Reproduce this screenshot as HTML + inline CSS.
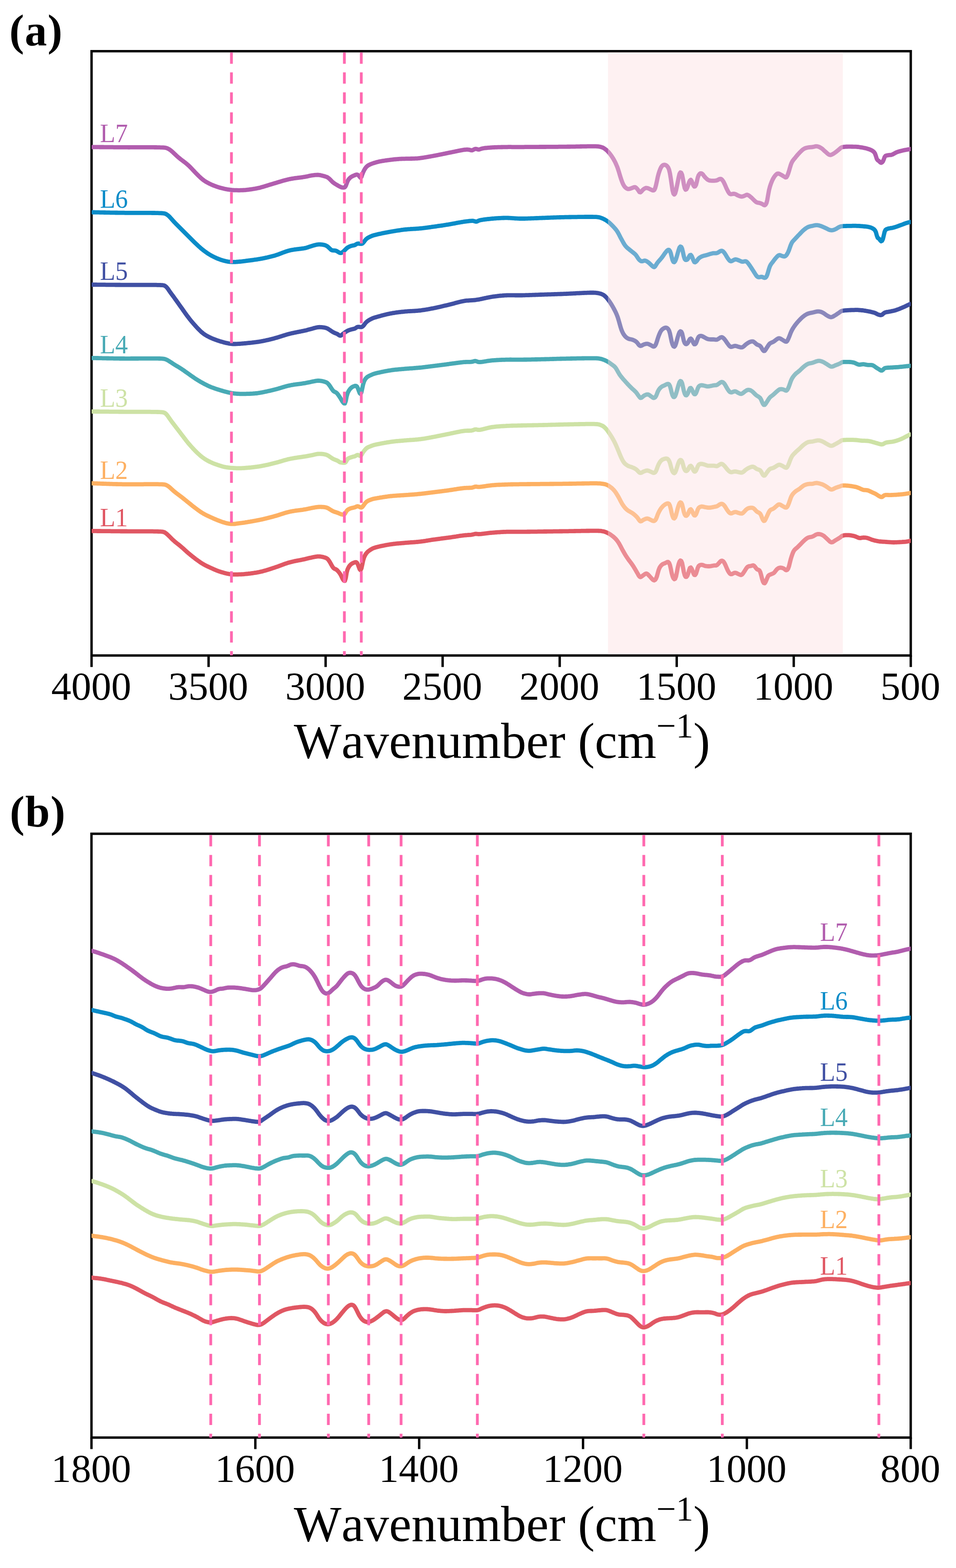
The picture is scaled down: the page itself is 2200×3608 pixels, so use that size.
<!DOCTYPE html>
<html lang="en"><head><meta charset="utf-8"><title>FTIR spectra</title>
<style>html,body{margin:0;padding:0;background:#fff}body{width:2200px;height:3608px;overflow:hidden}svg{display:block}text{font-family:"Liberation Serif",serif}</style></head><body>
<svg width="2200" height="3608" viewBox="0 0 2200 3608">
<rect width="2200" height="3608" fill="#fff"/>
<defs><clipPath id="ca"><rect x="210.7" y="117.8" width="1885.2" height="1390.5"/></clipPath>
<clipPath id="cb"><rect x="210.5" y="1918.5" width="1885.3" height="1389.4"/></clipPath></defs>
<rect x="210.7" y="117.8" width="1885.2" height="1390.5" fill="none" stroke="#000" stroke-width="5.5"/>
<g stroke="#000" stroke-width="5.5">
<line x1="210.7" y1="1508.3" x2="210.7" y2="1534.8"/>
<line x1="480.0" y1="1508.3" x2="480.0" y2="1534.8"/>
<line x1="749.3" y1="1508.3" x2="749.3" y2="1534.8"/>
<line x1="1018.6" y1="1508.3" x2="1018.6" y2="1534.8"/>
<line x1="1288.0" y1="1508.3" x2="1288.0" y2="1534.8"/>
<line x1="1557.3" y1="1508.3" x2="1557.3" y2="1534.8"/>
<line x1="1826.6" y1="1508.3" x2="1826.6" y2="1534.8"/>
<line x1="2095.9" y1="1508.3" x2="2095.9" y2="1534.8"/>
</g>
<g clip-path="url(#ca)" fill="none" stroke-linejoin="round" stroke-linecap="butt">
<path d="M209.7,1221.9L211.7,1221.9L213.7,1221.9L215.7,1221.9L217.7,1221.9L219.7,1221.9L221.7,1221.9L223.7,1222.0L225.7,1222.0L227.7,1222.0L229.7,1222.0L231.7,1222.0L233.7,1222.1L235.7,1222.1L237.7,1222.1L239.7,1222.1L241.7,1222.1L243.7,1222.2L245.7,1222.2L247.7,1222.2L249.7,1222.2L251.7,1222.2L253.7,1222.2L255.7,1222.3L257.7,1222.3L259.7,1222.3L261.7,1222.3L263.7,1222.3L265.7,1222.4L267.7,1222.4L269.7,1222.4L271.7,1222.4L273.7,1222.4L275.7,1222.4L277.7,1222.5L279.7,1222.5L281.7,1222.5L283.7,1222.5L285.7,1222.5L287.7,1222.5L289.7,1222.5L291.7,1222.5L293.7,1222.6L295.7,1222.6L297.7,1222.6L299.7,1222.6L301.7,1222.6L303.7,1222.6L305.7,1222.6L307.7,1222.6L309.7,1222.6L311.7,1222.6L313.7,1222.6L315.7,1222.6L317.7,1222.6L319.7,1222.6L321.7,1222.6L323.7,1222.6L325.7,1222.6L327.7,1222.6L329.7,1222.6L331.7,1222.6L333.7,1222.6L335.7,1222.6L337.7,1222.6L339.7,1222.6L341.7,1222.7L343.7,1222.7L345.7,1222.7L347.7,1222.7L349.7,1222.7L351.7,1222.7L353.7,1222.8L355.7,1222.8L357.7,1222.8L359.7,1222.9L361.7,1222.9L363.7,1223.0L365.7,1223.1L367.7,1223.1L369.7,1223.2L371.7,1223.3L373.7,1223.5L375.7,1223.9L377.7,1224.5L379.7,1225.5L381.7,1226.9L383.7,1228.5L385.7,1230.3L387.7,1232.2L389.7,1234.1L391.7,1236.1L393.7,1238.2L395.7,1240.2L397.7,1242.1L399.7,1243.9L401.7,1245.7L403.7,1247.4L405.7,1249.0L407.7,1250.6L409.7,1252.1L411.7,1253.7L413.7,1255.3L415.7,1257.0L417.7,1258.7L419.7,1260.4L421.7,1262.2L423.7,1264.0L425.7,1265.9L427.7,1267.7L429.7,1269.5L431.7,1271.2L433.7,1273.0L435.7,1274.6L437.7,1276.3L439.7,1277.9L441.7,1279.5L443.7,1281.1L445.7,1282.7L447.7,1284.2L449.7,1285.8L451.7,1287.3L453.7,1288.7L455.7,1290.2L457.7,1291.6L459.7,1293.0L461.7,1294.4L463.7,1295.7L465.7,1296.9L467.7,1298.1L469.7,1299.2L471.7,1300.3L473.7,1301.3L475.7,1302.3L477.7,1303.3L479.7,1304.2L481.7,1305.1L483.7,1306.1L485.7,1307.0L487.7,1307.9L489.7,1308.8L491.7,1309.7L493.7,1310.6L495.7,1311.4L497.7,1312.3L499.7,1313.0L501.7,1313.8L503.7,1314.5L505.7,1315.2L507.7,1315.8L509.7,1316.5L511.7,1317.1L513.7,1317.6L515.7,1318.2L517.7,1318.7L519.7,1319.2L521.7,1319.7L523.7,1320.1L525.7,1320.5L527.7,1320.9L529.7,1321.2L531.7,1321.5L533.7,1321.7L535.7,1321.8L537.7,1321.9L539.7,1321.9L541.7,1321.9L543.7,1321.9L545.7,1321.8L547.7,1321.8L549.7,1321.7L551.7,1321.7L553.7,1321.6L555.7,1321.5L557.7,1321.4L559.7,1321.3L561.7,1321.1L563.7,1320.9L565.7,1320.7L567.7,1320.5L569.7,1320.3L571.7,1320.0L573.7,1319.8L575.7,1319.6L577.7,1319.3L579.7,1319.0L581.7,1318.8L583.7,1318.5L585.7,1318.2L587.7,1317.9L589.7,1317.6L591.7,1317.2L593.7,1316.8L595.7,1316.5L597.7,1316.0L599.7,1315.6L601.7,1315.1L603.7,1314.7L605.7,1314.1L607.7,1313.6L609.7,1313.0L611.7,1312.5L613.7,1311.9L615.7,1311.2L617.7,1310.6L619.7,1310.0L621.7,1309.3L623.7,1308.7L625.7,1308.0L627.7,1307.4L629.7,1306.7L631.7,1306.1L633.7,1305.4L635.7,1304.7L637.7,1304.0L639.7,1303.3L641.7,1302.6L643.7,1301.8L645.7,1301.1L647.7,1300.3L649.7,1299.6L651.7,1298.9L653.7,1298.1L655.7,1297.4L657.7,1296.7L659.7,1296.1L661.7,1295.4L663.7,1294.8L665.7,1294.2L667.7,1293.7L669.7,1293.2L671.7,1292.7L673.7,1292.2L675.7,1291.8L677.7,1291.3L679.7,1290.9L681.7,1290.5L683.7,1290.1L685.7,1289.7L687.7,1289.3L689.7,1289.0L691.7,1288.6L693.7,1288.2L695.7,1287.8L697.7,1287.4L699.7,1287.0L701.7,1286.6L703.7,1286.1L705.7,1285.6L707.7,1285.1L709.7,1284.6L711.7,1284.1L713.7,1283.6L715.7,1283.2L717.7,1282.7L719.7,1282.3L721.7,1281.9L723.7,1281.5L725.7,1281.1L727.7,1280.8L729.7,1280.5L731.7,1280.4L733.7,1280.4L735.7,1280.5L737.7,1280.7L739.7,1281.0L741.7,1281.4L743.7,1281.8L745.7,1282.4L747.7,1282.9L749.7,1283.7L751.7,1284.7L753.7,1286.1L755.7,1288.3L757.7,1291.1L759.7,1294.4L761.7,1298.0L763.7,1301.7L765.7,1304.9L767.7,1307.3L769.7,1308.7L771.7,1309.5L773.7,1310.5L775.7,1312.0L777.7,1314.1L779.7,1316.4L781.7,1319.1L783.7,1322.2L785.7,1326.1L787.7,1330.5L789.7,1334.1L791.7,1336.4L793.7,1336.5L795.7,1330.3L797.7,1318.0L799.7,1310.5L801.7,1306.2L803.7,1302.9L805.7,1300.4L807.7,1298.4L809.7,1297.0L811.7,1295.9L813.7,1295.0L815.7,1294.2L817.7,1293.6L819.7,1293.7L821.7,1295.2L823.7,1299.1L825.7,1304.7L827.7,1309.9L829.7,1312.0L831.7,1308.1L833.7,1299.1L835.7,1289.7L837.7,1283.0L839.7,1278.5L841.7,1275.0L843.7,1272.3L845.7,1270.2L847.7,1268.4L849.7,1266.9L851.7,1265.5L853.7,1264.3L855.7,1263.1L857.7,1262.0L859.7,1261.1L861.7,1260.5L863.7,1259.8L865.7,1259.2L867.7,1258.7L869.7,1258.2L871.7,1257.7L873.7,1257.3L875.7,1256.8L877.7,1256.4L879.7,1256.0L881.7,1255.6L883.7,1255.2L885.7,1254.8L887.7,1254.4L889.7,1254.0L891.7,1253.7L893.7,1253.3L895.7,1253.0L897.7,1252.7L899.7,1252.4L901.7,1252.1L903.7,1251.8L905.7,1251.5L907.7,1251.3L909.7,1251.1L911.7,1250.9L913.7,1250.7L915.7,1250.5L917.7,1250.3L919.7,1250.1L921.7,1250.0L923.7,1249.8L925.7,1249.6L927.7,1249.5L929.7,1249.3L931.7,1249.1L933.7,1248.9L935.7,1248.8L937.7,1248.6L939.7,1248.5L941.7,1248.3L943.7,1248.2L945.7,1248.0L947.7,1247.9L949.7,1247.8L951.7,1247.6L953.7,1247.5L955.7,1247.3L957.7,1247.2L959.7,1247.0L961.7,1246.8L963.7,1246.6L965.7,1246.4L967.7,1246.2L969.7,1245.9L971.7,1245.6L973.7,1245.4L975.7,1245.1L977.7,1244.8L979.7,1244.5L981.7,1244.1L983.7,1243.8L985.7,1243.5L987.7,1243.2L989.7,1242.9L991.7,1242.5L993.7,1242.2L995.7,1241.9L997.7,1241.6L999.7,1241.3L1001.7,1241.1L1003.7,1240.8L1005.7,1240.5L1007.7,1240.3L1009.7,1240.0L1011.7,1239.8L1013.7,1239.5L1015.7,1239.2L1017.7,1239.0L1019.7,1238.7L1021.7,1238.5L1023.7,1238.2L1025.7,1238.0L1027.7,1237.7L1029.7,1237.4L1031.7,1237.2L1033.7,1236.9L1035.7,1236.6L1037.7,1236.3L1039.7,1236.0L1041.7,1235.7L1043.7,1235.4L1045.7,1235.1L1047.7,1234.8L1049.7,1234.5L1051.7,1234.1L1053.7,1233.8L1055.7,1233.5L1057.7,1233.2L1059.7,1232.9L1061.7,1232.6L1063.7,1232.4L1065.7,1232.1L1067.7,1231.9L1069.7,1231.7L1071.7,1231.5L1073.7,1231.3L1075.7,1231.2L1077.7,1231.0L1079.7,1230.9L1081.7,1230.8L1083.7,1230.6L1085.7,1230.3L1087.7,1229.9L1089.7,1229.4L1091.7,1228.9L1093.7,1228.5L1095.7,1228.4L1097.7,1228.6L1099.7,1228.9L1101.7,1229.0L1103.7,1228.9L1105.7,1228.8L1107.7,1228.6L1109.7,1228.3L1111.7,1228.1L1113.7,1227.9L1115.7,1227.6L1117.7,1227.4L1119.7,1227.1L1121.7,1226.9L1123.7,1226.6L1125.7,1226.4L1127.7,1226.2L1129.7,1226.0L1131.7,1225.8L1133.7,1225.6L1135.7,1225.5L1137.7,1225.3L1139.7,1225.1L1141.7,1225.0L1143.7,1224.9L1145.7,1224.7L1147.7,1224.6L1149.7,1224.5L1151.7,1224.3L1153.7,1224.2L1155.7,1224.1L1157.7,1224.0L1159.7,1223.9L1161.7,1223.9L1163.7,1223.8L1165.7,1223.7L1167.7,1223.7L1169.7,1223.6L1171.7,1223.6L1173.7,1223.6L1175.7,1223.6L1177.7,1223.6L1179.7,1223.7L1181.7,1223.7L1183.7,1223.7L1185.7,1223.7L1187.7,1223.7L1189.7,1223.7L1191.7,1223.7L1193.7,1223.7L1195.7,1223.7L1197.7,1223.7L1199.7,1223.7L1201.7,1223.7L1203.7,1223.7L1205.7,1223.6L1207.7,1223.6L1209.7,1223.6L1211.7,1223.6L1213.7,1223.5L1215.7,1223.5L1217.7,1223.5L1219.7,1223.5L1221.7,1223.4L1223.7,1223.4L1225.7,1223.4L1227.7,1223.4L1229.7,1223.3L1231.7,1223.3L1233.7,1223.3L1235.7,1223.3L1237.7,1223.2L1239.7,1223.2L1241.7,1223.2L1243.7,1223.2L1245.7,1223.1L1247.7,1223.1L1249.7,1223.1L1251.7,1223.0L1253.7,1223.0L1255.7,1223.0L1257.7,1223.0L1259.7,1222.9L1261.7,1222.9L1263.7,1222.9L1265.7,1222.9L1267.7,1222.8L1269.7,1222.8L1271.7,1222.8L1273.7,1222.7L1275.7,1222.7L1277.7,1222.7L1279.7,1222.7L1281.7,1222.6L1283.7,1222.6L1285.7,1222.6L1287.7,1222.5L1289.7,1222.5L1291.7,1222.5L1293.7,1222.5L1295.7,1222.4L1297.7,1222.4L1299.7,1222.4L1301.7,1222.3L1303.7,1222.3L1305.7,1222.3L1307.7,1222.3L1309.7,1222.2L1311.7,1222.2L1313.7,1222.2L1315.7,1222.1L1317.7,1222.1L1319.7,1222.1L1321.7,1222.0L1323.7,1222.0L1325.7,1221.9L1327.7,1221.9L1329.7,1221.9L1331.7,1221.8L1333.7,1221.8L1335.7,1221.8L1337.7,1221.7L1339.7,1221.7L1341.7,1221.7L1343.7,1221.6L1345.7,1221.6L1347.7,1221.6L1349.7,1221.5L1351.7,1221.5L1353.7,1221.5L1355.7,1221.5L1357.7,1221.4L1359.7,1221.4L1361.7,1221.4L1363.7,1221.4L1365.7,1221.4L1367.7,1221.4L1369.7,1221.4L1371.7,1221.4L1373.7,1221.4L1375.7,1221.4L1377.7,1221.5L1379.7,1221.6L1381.7,1221.7L1383.7,1221.9L1385.7,1222.3L1387.7,1222.6L1389.7,1223.1L1391.7,1223.6L1393.7,1224.3L1395.7,1225.1L1397.7,1226.0L1399.7,1227.0L1401.7,1228.1L1403.7,1229.3L1405.7,1230.6L1407.7,1232.1L1409.7,1233.6L1411.7,1235.2L1413.7,1237.0L1415.7,1238.9L1417.7,1241.0L1419.7,1243.4L1421.7,1246.1L1423.7,1249.1L1425.7,1252.5L1427.7,1256.2L1429.7,1260.1L1431.7,1263.9L1433.7,1267.5L1435.7,1271.0L1437.7,1274.4L1439.7,1277.8L1441.7,1280.9L1443.7,1283.9L1445.7,1286.8L1447.7,1289.5L1449.7,1292.2L1451.7,1294.8L1453.7,1297.5L1455.7,1300.4L1457.7,1303.4L1459.7,1306.7L1461.7,1310.1L1463.7,1313.5L1465.7,1316.9L1467.7,1320.4L1469.7,1324.1L1471.7,1326.8L1473.7,1327.8L1475.7,1327.2L1477.7,1325.7L1479.7,1324.1L1481.7,1322.7L1483.7,1321.3L1485.7,1320.1L1487.7,1319.7L1489.7,1320.6L1491.7,1322.4L1493.7,1324.6L1495.7,1326.8L1497.7,1329.0L1499.7,1331.3L1501.7,1333.3L1503.7,1334.9L1505.7,1335.5L1507.7,1334.2L1509.7,1331.2L1511.7,1326.1L1513.7,1318.7L1515.7,1311.5L1517.7,1306.6L1519.7,1303.3L1521.7,1300.9L1523.7,1299.0L1525.7,1297.8L1527.7,1296.9L1529.7,1296.2L1531.7,1295.3L1533.7,1294.2L1535.7,1293.2L1537.7,1293.1L1539.7,1295.1L1541.7,1300.0L1543.7,1308.6L1545.7,1318.6L1547.7,1325.8L1549.7,1330.5L1551.7,1332.7L1553.7,1331.6L1555.7,1326.5L1557.7,1316.6L1559.7,1305.9L1561.7,1297.9L1563.7,1292.3L1565.7,1289.8L1567.7,1290.7L1569.7,1295.4L1571.7,1305.5L1573.7,1316.5L1575.7,1323.6L1577.7,1327.3L1579.7,1327.4L1581.7,1324.9L1583.7,1319.8L1585.7,1312.2L1587.7,1306.8L1589.7,1305.8L1591.7,1308.6L1593.7,1313.6L1595.7,1319.1L1597.7,1322.9L1599.7,1323.1L1601.7,1320.1L1603.7,1313.8L1605.7,1306.7L1607.7,1302.6L1609.7,1300.9L1611.7,1300.1L1613.7,1299.7L1615.7,1299.8L1617.7,1300.3L1619.7,1301.2L1621.7,1301.9L1623.7,1302.4L1625.7,1302.7L1627.7,1302.9L1629.7,1303.0L1631.7,1303.0L1633.7,1302.8L1635.7,1302.6L1637.7,1302.2L1639.7,1301.8L1641.7,1301.5L1643.7,1301.2L1645.7,1301.2L1647.7,1301.1L1649.7,1300.3L1651.7,1298.7L1653.7,1296.5L1655.7,1294.1L1657.7,1292.0L1659.7,1290.5L1661.7,1290.2L1663.7,1291.1L1665.7,1293.3L1667.7,1296.6L1669.7,1300.9L1671.7,1305.6L1673.7,1310.2L1675.7,1314.2L1677.7,1317.5L1679.7,1320.0L1681.7,1321.1L1683.7,1321.0L1685.7,1320.3L1687.7,1319.2L1689.7,1318.4L1691.7,1318.0L1693.7,1318.3L1695.7,1319.1L1697.7,1320.2L1699.7,1321.1L1701.7,1322.0L1703.7,1322.8L1705.7,1323.0L1707.7,1321.9L1709.7,1319.7L1711.7,1316.8L1713.7,1313.8L1715.7,1310.5L1717.7,1307.3L1719.7,1304.9L1721.7,1303.6L1723.7,1302.9L1725.7,1302.6L1727.7,1302.3L1729.7,1301.8L1731.7,1301.1L1733.7,1301.0L1735.7,1302.1L1737.7,1304.4L1739.7,1307.3L1741.7,1309.5L1743.7,1310.7L1745.7,1311.4L1747.7,1312.7L1749.7,1316.6L1751.7,1323.7L1753.7,1331.8L1755.7,1338.0L1757.7,1341.6L1759.7,1342.1L1761.7,1339.2L1763.7,1334.8L1765.7,1329.8L1767.7,1325.5L1769.7,1323.4L1771.7,1322.4L1773.7,1321.7L1775.7,1320.8L1777.7,1320.0L1779.7,1319.1L1781.7,1317.6L1783.7,1315.2L1785.7,1312.5L1787.7,1310.1L1789.7,1308.4L1791.7,1307.2L1793.7,1306.5L1795.7,1306.2L1797.7,1306.4L1799.7,1306.8L1801.7,1307.4L1803.7,1308.3L1805.7,1309.7L1807.7,1311.3L1809.7,1312.0L1811.7,1311.2L1813.7,1308.4L1815.7,1302.8L1817.7,1294.7L1819.7,1286.7L1821.7,1280.1L1823.7,1274.3L1825.7,1269.5L1827.7,1266.2L1829.7,1263.9L1831.7,1262.2L1833.7,1260.6L1835.7,1258.7L1837.7,1256.7L1839.7,1254.7L1841.7,1252.7L1843.7,1250.7L1845.7,1248.6L1847.7,1246.5L1849.7,1244.6L1851.7,1242.7L1853.7,1241.0L1855.7,1239.5L1857.7,1238.1L1859.7,1237.1L1861.7,1236.4L1863.7,1235.9L1865.7,1235.6L1867.7,1235.2L1869.7,1234.6L1871.7,1233.7L1873.7,1232.6L1875.7,1231.4L1877.7,1230.3L1879.7,1229.5L1881.7,1229.0L1883.7,1228.9L1885.7,1229.0L1887.7,1229.4L1889.7,1230.0L1891.7,1230.8L1893.7,1231.8L1895.7,1233.1L1897.7,1234.8L1899.7,1236.6L1901.7,1238.5L1903.7,1240.3L1905.7,1242.3L1907.7,1244.3L1909.7,1246.2L1911.7,1247.4L1913.7,1247.9L1915.7,1247.5L1917.7,1246.5L1919.7,1245.2L1921.7,1243.8L1923.7,1242.6L1925.7,1241.4L1927.7,1240.2L1929.7,1239.0L1931.7,1237.8L1933.7,1236.4L1935.7,1234.7L1937.7,1233.2L1939.7,1232.4L1941.7,1231.9L1943.7,1231.6L1945.7,1231.4L1947.7,1231.3L1949.7,1231.3L1951.7,1231.3L1953.7,1231.4L1955.7,1231.6L1957.7,1231.8L1959.7,1232.2L1961.7,1232.6L1963.7,1233.0L1965.7,1233.5L1967.7,1234.1L1969.7,1234.9L1971.7,1235.7L1973.7,1236.6L1975.7,1237.4L1977.7,1237.9L1979.7,1238.0L1981.7,1237.8L1983.7,1237.3L1985.7,1237.1L1987.7,1237.0L1989.7,1237.1L1991.7,1237.2L1993.7,1237.5L1995.7,1237.9L1997.7,1238.5L1999.7,1239.2L2001.7,1240.0L2003.7,1240.8L2005.7,1241.6L2007.7,1242.3L2009.7,1242.8L2011.7,1243.4L2013.7,1243.9L2015.7,1244.3L2017.7,1244.7L2019.7,1245.1L2021.7,1245.5L2023.7,1245.8L2025.7,1246.0L2027.7,1246.2L2029.7,1246.4L2031.7,1246.5L2033.7,1246.6L2035.7,1246.7L2037.7,1246.9L2039.7,1247.0L2041.7,1247.1L2043.7,1247.3L2045.7,1247.4L2047.7,1247.6L2049.7,1247.7L2051.7,1247.8L2053.7,1247.9L2055.7,1248.0L2057.7,1248.0L2059.7,1247.9L2061.7,1247.9L2063.7,1247.8L2065.7,1247.7L2067.7,1247.6L2069.7,1247.5L2071.7,1247.4L2073.7,1247.3L2075.7,1247.2L2077.7,1247.0L2079.7,1246.9L2081.7,1246.8L2083.7,1246.6L2085.7,1246.4L2087.7,1246.0L2089.7,1245.7L2091.7,1245.2L2093.7,1244.8L2095.7,1244.3L2096.7,1244.1" stroke="#E05763" stroke-width="9.8"/>
<path d="M209.7,1112.0L211.7,1112.1L213.7,1112.1L215.7,1112.2L217.7,1112.3L219.7,1112.3L221.7,1112.4L223.7,1112.5L225.7,1112.6L227.7,1112.7L229.7,1112.7L231.7,1112.8L233.7,1112.9L235.7,1113.0L237.7,1113.0L239.7,1113.1L241.7,1113.2L243.7,1113.2L245.7,1113.3L247.7,1113.4L249.7,1113.4L251.7,1113.5L253.7,1113.6L255.7,1113.6L257.7,1113.7L259.7,1113.8L261.7,1113.8L263.7,1113.9L265.7,1113.9L267.7,1114.0L269.7,1114.0L271.7,1114.1L273.7,1114.1L275.7,1114.2L277.7,1114.2L279.7,1114.2L281.7,1114.3L283.7,1114.3L285.7,1114.3L287.7,1114.4L289.7,1114.4L291.7,1114.4L293.7,1114.4L295.7,1114.4L297.7,1114.4L299.7,1114.4L301.7,1114.4L303.7,1114.4L305.7,1114.4L307.7,1114.4L309.7,1114.4L311.7,1114.4L313.7,1114.4L315.7,1114.3L317.7,1114.3L319.7,1114.3L321.7,1114.3L323.7,1114.3L325.7,1114.3L327.7,1114.3L329.7,1114.3L331.7,1114.2L333.7,1114.2L335.7,1114.2L337.7,1114.2L339.7,1114.2L341.7,1114.2L343.7,1114.2L345.7,1114.2L347.7,1114.1L349.7,1114.1L351.7,1114.1L353.7,1114.1L355.7,1114.1L357.7,1114.2L359.7,1114.2L361.7,1114.2L363.7,1114.2L365.7,1114.3L367.7,1114.3L369.7,1114.4L371.7,1114.4L373.7,1114.5L375.7,1114.6L377.7,1114.9L379.7,1115.2L381.7,1115.8L383.7,1116.7L385.7,1117.8L387.7,1119.2L389.7,1120.7L391.7,1122.4L393.7,1124.3L395.7,1126.1L397.7,1128.0L399.7,1129.7L401.7,1131.4L403.7,1133.0L405.7,1134.6L407.7,1136.1L409.7,1137.6L411.7,1139.1L413.7,1140.6L415.7,1142.1L417.7,1143.7L419.7,1145.2L421.7,1146.8L423.7,1148.4L425.7,1150.0L427.7,1151.6L429.7,1153.3L431.7,1154.9L433.7,1156.5L435.7,1158.1L437.7,1159.7L439.7,1161.3L441.7,1163.0L443.7,1164.6L445.7,1166.1L447.7,1167.7L449.7,1169.2L451.7,1170.7L453.7,1172.2L455.7,1173.7L457.7,1175.1L459.7,1176.5L461.7,1177.9L463.7,1179.2L465.7,1180.4L467.7,1181.6L469.7,1182.7L471.7,1183.8L473.7,1184.8L475.7,1185.8L477.7,1186.8L479.7,1187.7L481.7,1188.6L483.7,1189.6L485.7,1190.5L487.7,1191.4L489.7,1192.3L491.7,1193.2L493.7,1194.1L495.7,1194.9L497.7,1195.7L499.7,1196.6L501.7,1197.4L503.7,1198.1L505.7,1198.9L507.7,1199.7L509.7,1200.4L511.7,1201.1L513.7,1201.7L515.7,1202.3L517.7,1202.9L519.7,1203.4L521.7,1203.9L523.7,1204.4L525.7,1204.8L527.7,1205.2L529.7,1205.4L531.7,1205.6L533.7,1205.7L535.7,1205.7L537.7,1205.6L539.7,1205.5L541.7,1205.3L543.7,1205.0L545.7,1204.7L547.7,1204.5L549.7,1204.2L551.7,1203.9L553.7,1203.7L555.7,1203.4L557.7,1203.2L559.7,1202.9L561.7,1202.6L563.7,1202.3L565.7,1201.9L567.7,1201.6L569.7,1201.3L571.7,1200.9L573.7,1200.6L575.7,1200.3L577.7,1199.9L579.7,1199.6L581.7,1199.2L583.7,1198.9L585.7,1198.5L587.7,1198.2L589.7,1197.8L591.7,1197.4L593.7,1197.0L595.7,1196.6L597.7,1196.2L599.7,1195.8L601.7,1195.4L603.7,1194.9L605.7,1194.5L607.7,1194.0L609.7,1193.5L611.7,1193.0L613.7,1192.6L615.7,1192.1L617.7,1191.5L619.7,1191.0L621.7,1190.5L623.7,1190.0L625.7,1189.5L627.7,1188.9L629.7,1188.4L631.7,1187.8L633.7,1187.3L635.7,1186.7L637.7,1186.1L639.7,1185.5L641.7,1184.8L643.7,1184.2L645.7,1183.5L647.7,1182.9L649.7,1182.3L651.7,1181.6L653.7,1181.0L655.7,1180.4L657.7,1179.8L659.7,1179.2L661.7,1178.7L663.7,1178.2L665.7,1177.7L667.7,1177.3L669.7,1176.9L671.7,1176.5L673.7,1176.1L675.7,1175.8L677.7,1175.5L679.7,1175.2L681.7,1174.9L683.7,1174.6L685.7,1174.4L687.7,1174.1L689.7,1173.9L691.7,1173.6L693.7,1173.3L695.7,1173.1L697.7,1172.8L699.7,1172.4L701.7,1172.1L703.7,1171.8L705.7,1171.4L707.7,1171.0L709.7,1170.5L711.7,1170.1L713.7,1169.7L715.7,1169.3L717.7,1168.9L719.7,1168.5L721.7,1168.1L723.7,1167.8L725.7,1167.4L727.7,1167.1L729.7,1166.8L731.7,1166.6L733.7,1166.5L735.7,1166.4L737.7,1166.4L739.7,1166.5L741.7,1166.6L743.7,1166.7L745.7,1166.9L747.7,1167.2L749.7,1167.5L751.7,1168.1L753.7,1168.9L755.7,1169.9L757.7,1171.1L759.7,1172.4L761.7,1173.6L763.7,1174.9L765.7,1176.0L767.7,1176.9L769.7,1177.6L771.7,1178.3L773.7,1178.8L775.7,1179.5L777.7,1180.2L779.7,1181.1L781.7,1182.0L783.7,1182.8L785.7,1183.5L787.7,1183.9L789.7,1184.1L791.7,1183.8L793.7,1182.3L795.7,1179.0L797.7,1175.6L799.7,1173.5L801.7,1172.1L803.7,1171.0L805.7,1170.1L807.7,1169.4L809.7,1168.9L811.7,1168.5L813.7,1168.1L815.7,1167.6L817.7,1166.9L819.7,1165.9L821.7,1165.1L823.7,1165.0L825.7,1165.7L827.7,1166.7L829.7,1167.7L831.7,1167.9L833.7,1166.6L835.7,1164.1L837.7,1161.5L839.7,1158.7L841.7,1156.3L843.7,1154.4L845.7,1153.1L847.7,1152.0L849.7,1151.1L851.7,1150.3L853.7,1149.6L855.7,1148.9L857.7,1148.3L859.7,1147.8L861.7,1147.4L863.7,1147.0L865.7,1146.6L867.7,1146.3L869.7,1145.9L871.7,1145.6L873.7,1145.2L875.7,1144.9L877.7,1144.6L879.7,1144.3L881.7,1143.9L883.7,1143.6L885.7,1143.3L887.7,1143.0L889.7,1142.8L891.7,1142.5L893.7,1142.2L895.7,1142.0L897.7,1141.7L899.7,1141.5L901.7,1141.3L903.7,1141.1L905.7,1140.9L907.7,1140.8L909.7,1140.6L911.7,1140.5L913.7,1140.3L915.7,1140.2L917.7,1140.1L919.7,1140.0L921.7,1139.9L923.7,1139.7L925.7,1139.6L927.7,1139.5L929.7,1139.4L931.7,1139.2L933.7,1139.1L935.7,1138.9L937.7,1138.8L939.7,1138.7L941.7,1138.5L943.7,1138.4L945.7,1138.2L947.7,1138.1L949.7,1137.9L951.7,1137.8L953.7,1137.6L955.7,1137.4L957.7,1137.3L959.7,1137.1L961.7,1136.9L963.7,1136.7L965.7,1136.5L967.7,1136.3L969.7,1136.1L971.7,1135.9L973.7,1135.7L975.7,1135.5L977.7,1135.2L979.7,1135.0L981.7,1134.7L983.7,1134.5L985.7,1134.2L987.7,1134.0L989.7,1133.7L991.7,1133.5L993.7,1133.2L995.7,1133.0L997.7,1132.7L999.7,1132.5L1001.7,1132.2L1003.7,1132.0L1005.7,1131.7L1007.7,1131.5L1009.7,1131.2L1011.7,1131.0L1013.7,1130.7L1015.7,1130.5L1017.7,1130.2L1019.7,1129.9L1021.7,1129.7L1023.7,1129.4L1025.7,1129.1L1027.7,1128.9L1029.7,1128.6L1031.7,1128.3L1033.7,1128.0L1035.7,1127.7L1037.7,1127.5L1039.7,1127.1L1041.7,1126.8L1043.7,1126.5L1045.7,1126.2L1047.7,1125.9L1049.7,1125.6L1051.7,1125.2L1053.7,1124.9L1055.7,1124.6L1057.7,1124.3L1059.7,1124.0L1061.7,1123.8L1063.7,1123.5L1065.7,1123.3L1067.7,1123.0L1069.7,1122.9L1071.7,1122.8L1073.7,1122.7L1075.7,1122.6L1077.7,1122.6L1079.7,1122.5L1081.7,1122.4L1083.7,1122.3L1085.7,1122.1L1087.7,1121.7L1089.7,1121.0L1091.7,1120.3L1093.7,1119.8L1095.7,1119.7L1097.7,1120.0L1099.7,1120.3L1101.7,1120.4L1103.7,1120.3L1105.7,1120.2L1107.7,1119.9L1109.7,1119.7L1111.7,1119.4L1113.7,1119.1L1115.7,1118.8L1117.7,1118.5L1119.7,1118.2L1121.7,1117.9L1123.7,1117.6L1125.7,1117.3L1127.7,1117.1L1129.7,1116.8L1131.7,1116.6L1133.7,1116.4L1135.7,1116.3L1137.7,1116.1L1139.7,1116.0L1141.7,1115.9L1143.7,1115.7L1145.7,1115.6L1147.7,1115.5L1149.7,1115.5L1151.7,1115.4L1153.7,1115.3L1155.7,1115.2L1157.7,1115.1L1159.7,1115.1L1161.7,1115.0L1163.7,1114.9L1165.7,1114.9L1167.7,1114.8L1169.7,1114.7L1171.7,1114.7L1173.7,1114.6L1175.7,1114.5L1177.7,1114.5L1179.7,1114.5L1181.7,1114.4L1183.7,1114.4L1185.7,1114.4L1187.7,1114.3L1189.7,1114.3L1191.7,1114.3L1193.7,1114.3L1195.7,1114.2L1197.7,1114.2L1199.7,1114.2L1201.7,1114.2L1203.7,1114.1L1205.7,1114.1L1207.7,1114.1L1209.7,1114.1L1211.7,1114.1L1213.7,1114.0L1215.7,1114.0L1217.7,1114.0L1219.7,1114.0L1221.7,1113.9L1223.7,1113.9L1225.7,1113.9L1227.7,1113.9L1229.7,1113.9L1231.7,1113.9L1233.7,1113.8L1235.7,1113.8L1237.7,1113.8L1239.7,1113.8L1241.7,1113.8L1243.7,1113.7L1245.7,1113.7L1247.7,1113.7L1249.7,1113.7L1251.7,1113.7L1253.7,1113.6L1255.7,1113.6L1257.7,1113.6L1259.7,1113.6L1261.7,1113.6L1263.7,1113.6L1265.7,1113.5L1267.7,1113.5L1269.7,1113.5L1271.7,1113.5L1273.7,1113.5L1275.7,1113.4L1277.7,1113.4L1279.7,1113.4L1281.7,1113.4L1283.7,1113.4L1285.7,1113.3L1287.7,1113.3L1289.7,1113.3L1291.7,1113.3L1293.7,1113.3L1295.7,1113.2L1297.7,1113.2L1299.7,1113.2L1301.7,1113.2L1303.7,1113.1L1305.7,1113.1L1307.7,1113.1L1309.7,1113.0L1311.7,1113.0L1313.7,1113.0L1315.7,1113.0L1317.7,1112.9L1319.7,1112.9L1321.7,1112.9L1323.7,1112.8L1325.7,1112.8L1327.7,1112.7L1329.7,1112.7L1331.7,1112.7L1333.7,1112.6L1335.7,1112.6L1337.7,1112.6L1339.7,1112.5L1341.7,1112.5L1343.7,1112.5L1345.7,1112.4L1347.7,1112.4L1349.7,1112.4L1351.7,1112.3L1353.7,1112.3L1355.7,1112.3L1357.7,1112.2L1359.7,1112.2L1361.7,1112.2L1363.7,1112.2L1365.7,1112.2L1367.7,1112.2L1369.7,1112.2L1371.7,1112.2L1373.7,1112.2L1375.7,1112.3L1377.7,1112.3L1379.7,1112.4L1381.7,1112.5L1383.7,1112.8L1385.7,1113.1L1387.7,1113.4L1389.7,1113.7L1391.7,1114.1L1393.7,1114.6L1395.7,1115.3L1397.7,1116.2L1399.7,1117.2L1401.7,1118.4L1403.7,1119.8L1405.7,1121.3L1407.7,1122.9L1409.7,1124.8L1411.7,1126.7L1413.7,1129.0L1415.7,1131.5L1417.7,1134.4L1419.7,1137.6L1421.7,1140.9L1423.7,1144.3L1425.7,1148.0L1427.7,1151.9L1429.7,1155.7L1431.7,1159.3L1433.7,1162.4L1435.7,1165.2L1437.7,1167.7L1439.7,1170.0L1441.7,1171.9L1443.7,1173.6L1445.7,1175.1L1447.7,1176.3L1449.7,1177.4L1451.7,1178.6L1453.7,1179.7L1455.7,1181.0L1457.7,1182.5L1459.7,1184.1L1461.7,1185.9L1463.7,1187.8L1465.7,1189.8L1467.7,1192.2L1469.7,1195.2L1471.7,1198.0L1473.7,1199.5L1475.7,1199.4L1477.7,1198.2L1479.7,1196.7L1481.7,1195.6L1483.7,1194.7L1485.7,1193.9L1487.7,1193.3L1489.7,1193.2L1491.7,1193.5L1493.7,1194.3L1495.7,1195.3L1497.7,1196.3L1499.7,1197.3L1501.7,1198.3L1503.7,1198.9L1505.7,1198.7L1507.7,1197.2L1509.7,1194.2L1511.7,1189.3L1513.7,1183.7L1515.7,1179.2L1517.7,1175.4L1519.7,1172.0L1521.7,1169.2L1523.7,1166.8L1525.7,1164.7L1527.7,1162.9L1529.7,1161.4L1531.7,1160.1L1533.7,1159.0L1535.7,1158.3L1537.7,1158.3L1539.7,1159.6L1541.7,1163.7L1543.7,1171.3L1545.7,1180.6L1547.7,1187.8L1549.7,1192.1L1551.7,1192.9L1553.7,1190.5L1555.7,1185.0L1557.7,1177.1L1559.7,1169.3L1561.7,1162.9L1563.7,1158.1L1565.7,1156.0L1567.7,1156.8L1569.7,1160.7L1571.7,1169.2L1573.7,1178.2L1575.7,1183.8L1577.7,1186.6L1579.7,1186.8L1581.7,1185.1L1583.7,1181.7L1585.7,1176.6L1587.7,1172.8L1589.7,1171.7L1591.7,1174.2L1593.7,1178.6L1595.7,1183.0L1597.7,1185.9L1599.7,1186.0L1601.7,1183.5L1603.7,1178.4L1605.7,1172.4L1607.7,1168.9L1609.7,1167.1L1611.7,1166.2L1613.7,1165.6L1615.7,1165.5L1617.7,1165.8L1619.7,1166.3L1621.7,1166.9L1623.7,1167.2L1625.7,1167.5L1627.7,1167.8L1629.7,1168.0L1631.7,1168.1L1633.7,1168.0L1635.7,1167.8L1637.7,1167.5L1639.7,1167.1L1641.7,1166.7L1643.7,1166.3L1645.7,1165.9L1647.7,1165.5L1649.7,1164.8L1651.7,1163.8L1653.7,1162.5L1655.7,1161.1L1657.7,1160.0L1659.7,1159.3L1661.7,1159.3L1663.7,1160.3L1665.7,1162.1L1667.7,1164.5L1669.7,1167.5L1671.7,1170.8L1673.7,1173.9L1675.7,1176.6L1677.7,1179.0L1679.7,1180.6L1681.7,1181.3L1683.7,1181.1L1685.7,1180.3L1687.7,1179.4L1689.7,1178.6L1691.7,1178.2L1693.7,1178.3L1695.7,1178.9L1697.7,1179.7L1699.7,1180.3L1701.7,1180.9L1703.7,1181.4L1705.7,1181.7L1707.7,1181.5L1709.7,1180.4L1711.7,1178.4L1713.7,1176.2L1715.7,1174.0L1717.7,1172.2L1719.7,1170.7L1721.7,1169.6L1723.7,1169.0L1725.7,1168.6L1727.7,1168.4L1729.7,1168.4L1731.7,1168.7L1733.7,1169.4L1735.7,1170.9L1737.7,1173.0L1739.7,1175.2L1741.7,1177.1L1743.7,1178.4L1745.7,1179.4L1747.7,1180.5L1749.7,1182.5L1751.7,1186.3L1753.7,1191.7L1755.7,1196.1L1757.7,1198.6L1759.7,1198.2L1761.7,1194.9L1763.7,1190.5L1765.7,1186.2L1767.7,1181.7L1769.7,1177.7L1771.7,1174.7L1773.7,1173.0L1775.7,1172.1L1777.7,1171.4L1779.7,1170.4L1781.7,1168.9L1783.7,1167.2L1785.7,1165.4L1787.7,1163.7L1789.7,1162.0L1791.7,1160.9L1793.7,1160.6L1795.7,1161.3L1797.7,1162.5L1799.7,1163.7L1801.7,1164.9L1803.7,1166.0L1805.7,1167.1L1807.7,1167.9L1809.7,1167.9L1811.7,1166.1L1813.7,1162.2L1815.7,1157.2L1817.7,1151.4L1819.7,1145.6L1821.7,1141.1L1823.7,1137.9L1825.7,1135.4L1827.7,1133.4L1829.7,1131.5L1831.7,1129.9L1833.7,1128.6L1835.7,1127.4L1837.7,1126.1L1839.7,1124.8L1841.7,1123.3L1843.7,1121.6L1845.7,1120.0L1847.7,1118.5L1849.7,1117.2L1851.7,1116.2L1853.7,1115.4L1855.7,1114.8L1857.7,1114.3L1859.7,1113.8L1861.7,1113.6L1863.7,1113.4L1865.7,1113.4L1867.7,1113.3L1869.7,1113.1L1871.7,1112.8L1873.7,1112.3L1875.7,1111.8L1877.7,1111.5L1879.7,1111.5L1881.7,1111.7L1883.7,1112.1L1885.7,1112.5L1887.7,1113.1L1889.7,1113.7L1891.7,1114.3L1893.7,1115.1L1895.7,1116.1L1897.7,1117.2L1899.7,1118.4L1901.7,1119.7L1903.7,1120.9L1905.7,1122.4L1907.7,1123.8L1909.7,1125.2L1911.7,1126.1L1913.7,1126.4L1915.7,1126.0L1917.7,1125.2L1919.7,1124.1L1921.7,1123.1L1923.7,1122.2L1925.7,1121.5L1927.7,1120.8L1929.7,1120.2L1931.7,1119.5L1933.7,1118.8L1935.7,1118.0L1937.7,1117.4L1939.7,1117.2L1941.7,1117.1L1943.7,1117.2L1945.7,1117.2L1947.7,1117.3L1949.7,1117.5L1951.7,1117.7L1953.7,1117.9L1955.7,1118.1L1957.7,1118.3L1959.7,1118.6L1961.7,1119.0L1963.7,1119.3L1965.7,1119.7L1967.7,1120.1L1969.7,1120.6L1971.7,1121.1L1973.7,1121.8L1975.7,1122.5L1977.7,1123.4L1979.7,1124.3L1981.7,1125.3L1983.7,1126.2L1985.7,1126.9L1987.7,1127.4L1989.7,1127.6L1991.7,1127.7L1993.7,1127.8L1995.7,1128.1L1997.7,1128.6L1999.7,1129.4L2001.7,1130.3L2003.7,1131.2L2005.7,1132.1L2007.7,1133.1L2009.7,1134.0L2011.7,1134.9L2013.7,1135.8L2015.7,1136.9L2017.7,1138.1L2019.7,1139.5L2021.7,1140.8L2023.7,1141.9L2025.7,1142.9L2027.7,1143.6L2029.7,1143.5L2031.7,1142.3L2033.7,1140.5L2035.7,1139.4L2037.7,1138.9L2039.7,1138.8L2041.7,1138.9L2043.7,1139.0L2045.7,1139.1L2047.7,1139.1L2049.7,1139.1L2051.7,1139.0L2053.7,1138.9L2055.7,1138.8L2057.7,1138.7L2059.7,1138.6L2061.7,1138.5L2063.7,1138.3L2065.7,1138.2L2067.7,1138.0L2069.7,1137.8L2071.7,1137.6L2073.7,1137.5L2075.7,1137.3L2077.7,1137.1L2079.7,1136.8L2081.7,1136.6L2083.7,1136.3L2085.7,1136.0L2087.7,1135.7L2089.7,1135.4L2091.7,1135.0L2093.7,1134.7L2095.7,1134.3L2096.7,1134.2" stroke="#FDB062" stroke-width="9.8"/>
<path d="M209.7,946.9L211.7,946.9L213.7,946.9L215.7,946.9L217.7,946.9L219.7,947.0L221.7,947.0L223.7,947.0L225.7,947.0L227.7,947.0L229.7,947.1L231.7,947.1L233.7,947.1L235.7,947.1L237.7,947.1L239.7,947.1L241.7,947.2L243.7,947.2L245.7,947.2L247.7,947.2L249.7,947.2L251.7,947.3L253.7,947.3L255.7,947.3L257.7,947.3L259.7,947.3L261.7,947.3L263.7,947.4L265.7,947.4L267.7,947.4L269.7,947.4L271.7,947.4L273.7,947.5L275.7,947.5L277.7,947.5L279.7,947.5L281.7,947.5L283.7,947.5L285.7,947.6L287.7,947.6L289.7,947.6L291.7,947.6L293.7,947.6L295.7,947.6L297.7,947.6L299.7,947.6L301.7,947.6L303.7,947.6L305.7,947.6L307.7,947.6L309.7,947.6L311.7,947.6L313.7,947.6L315.7,947.6L317.7,947.6L319.7,947.6L321.7,947.6L323.7,947.6L325.7,947.7L327.7,947.7L329.7,947.7L331.7,947.7L333.7,947.7L335.7,947.7L337.7,947.7L339.7,947.7L341.7,947.7L343.7,947.7L345.7,947.7L347.7,947.8L349.7,947.8L351.7,947.8L353.7,947.8L355.7,947.9L357.7,947.9L359.7,947.9L361.7,948.0L363.7,948.0L365.7,948.1L367.7,948.2L369.7,948.3L371.7,948.4L373.7,948.6L375.7,948.9L377.7,949.5L379.7,950.5L381.7,952.0L383.7,954.1L385.7,956.7L387.7,959.5L389.7,962.4L391.7,965.3L393.7,968.1L395.7,970.8L397.7,973.5L399.7,976.1L401.7,978.7L403.7,981.3L405.7,983.9L407.7,986.5L409.7,989.1L411.7,991.7L413.7,994.3L415.7,996.9L417.7,999.6L419.7,1002.2L421.7,1004.8L423.7,1007.5L425.7,1010.1L427.7,1012.7L429.7,1015.2L431.7,1017.7L433.7,1020.2L435.7,1022.5L437.7,1024.8L439.7,1027.1L441.7,1029.3L443.7,1031.5L445.7,1033.6L447.7,1035.7L449.7,1037.7L451.7,1039.7L453.7,1041.7L455.7,1043.6L457.7,1045.4L459.7,1047.2L461.7,1048.9L463.7,1050.6L465.7,1052.1L467.7,1053.6L469.7,1055.0L471.7,1056.3L473.7,1057.6L475.7,1058.8L477.7,1059.9L479.7,1061.0L481.7,1062.0L483.7,1063.0L485.7,1063.9L487.7,1064.8L489.7,1065.7L491.7,1066.5L493.7,1067.2L495.7,1068.0L497.7,1068.7L499.7,1069.4L501.7,1070.1L503.7,1070.7L505.7,1071.4L507.7,1072.0L509.7,1072.6L511.7,1073.2L513.7,1073.7L515.7,1074.2L517.7,1074.6L519.7,1075.0L521.7,1075.3L523.7,1075.6L525.7,1075.9L527.7,1076.1L529.7,1076.4L531.7,1076.6L533.7,1076.7L535.7,1076.9L537.7,1077.0L539.7,1077.1L541.7,1077.2L543.7,1077.3L545.7,1077.3L547.7,1077.3L549.7,1077.4L551.7,1077.4L553.7,1077.3L555.7,1077.3L557.7,1077.2L559.7,1077.1L561.7,1077.0L563.7,1076.9L565.7,1076.7L567.7,1076.5L569.7,1076.4L571.7,1076.2L573.7,1076.0L575.7,1075.8L577.7,1075.6L579.7,1075.3L581.7,1075.1L583.7,1074.9L585.7,1074.6L587.7,1074.4L589.7,1074.1L591.7,1073.9L593.7,1073.6L595.7,1073.3L597.7,1073.0L599.7,1072.6L601.7,1072.3L603.7,1071.9L605.7,1071.5L607.7,1071.1L609.7,1070.7L611.7,1070.3L613.7,1069.9L615.7,1069.5L617.7,1069.0L619.7,1068.5L621.7,1068.1L623.7,1067.6L625.7,1067.1L627.7,1066.6L629.7,1066.1L631.7,1065.6L633.7,1065.1L635.7,1064.6L637.7,1064.0L639.7,1063.5L641.7,1062.9L643.7,1062.3L645.7,1061.7L647.7,1061.1L649.7,1060.5L651.7,1059.9L653.7,1059.3L655.7,1058.7L657.7,1058.2L659.7,1057.7L661.7,1057.1L663.7,1056.6L665.7,1056.2L667.7,1055.8L669.7,1055.3L671.7,1055.0L673.7,1054.6L675.7,1054.3L677.7,1053.9L679.7,1053.6L681.7,1053.3L683.7,1053.0L685.7,1052.7L687.7,1052.4L689.7,1052.1L691.7,1051.8L693.7,1051.5L695.7,1051.3L697.7,1050.9L699.7,1050.6L701.7,1050.3L703.7,1050.0L705.7,1049.6L707.7,1049.3L709.7,1048.9L711.7,1048.5L713.7,1048.2L715.7,1047.8L717.7,1047.4L719.7,1046.9L721.7,1046.4L723.7,1046.0L725.7,1045.5L727.7,1045.1L729.7,1044.7L731.7,1044.5L733.7,1044.3L735.7,1044.3L737.7,1044.4L739.7,1044.5L741.7,1044.7L743.7,1044.9L745.7,1045.2L747.7,1045.6L749.7,1046.0L751.7,1046.7L753.7,1047.6L755.7,1048.7L757.7,1050.0L759.7,1051.4L761.7,1052.8L763.7,1054.2L765.7,1055.4L767.7,1056.5L769.7,1057.3L771.7,1058.1L773.7,1058.8L775.7,1059.6L777.7,1060.6L779.7,1062.0L781.7,1063.3L783.7,1064.0L785.7,1064.4L787.7,1064.7L789.7,1064.9L791.7,1064.9L793.7,1064.6L795.7,1063.3L797.7,1059.8L799.7,1056.4L801.7,1054.8L803.7,1053.8L805.7,1053.0L807.7,1052.3L809.7,1051.7L811.7,1051.1L813.7,1050.6L815.7,1050.2L817.7,1049.3L819.7,1048.1L821.7,1047.1L823.7,1046.8L825.7,1047.6L827.7,1048.8L829.7,1049.0L831.7,1047.0L833.7,1043.5L835.7,1040.4L837.7,1037.7L839.7,1035.2L841.7,1033.0L843.7,1031.2L845.7,1029.9L847.7,1028.8L849.7,1028.0L851.7,1027.2L853.7,1026.4L855.7,1025.6L857.7,1024.9L859.7,1024.3L861.7,1023.8L863.7,1023.3L865.7,1022.8L867.7,1022.4L869.7,1022.0L871.7,1021.6L873.7,1021.2L875.7,1020.8L877.7,1020.4L879.7,1020.0L881.7,1019.6L883.7,1019.3L885.7,1018.9L887.7,1018.6L889.7,1018.2L891.7,1017.9L893.7,1017.6L895.7,1017.3L897.7,1017.0L899.7,1016.7L901.7,1016.4L903.7,1016.1L905.7,1015.9L907.7,1015.7L909.7,1015.4L911.7,1015.2L913.7,1015.0L915.7,1014.8L917.7,1014.7L919.7,1014.5L921.7,1014.3L923.7,1014.1L925.7,1014.0L927.7,1013.8L929.7,1013.6L931.7,1013.4L933.7,1013.3L935.7,1013.1L937.7,1012.9L939.7,1012.8L941.7,1012.7L943.7,1012.5L945.7,1012.4L947.7,1012.3L949.7,1012.1L951.7,1012.0L953.7,1011.8L955.7,1011.7L957.7,1011.5L959.7,1011.3L961.7,1011.2L963.7,1010.9L965.7,1010.7L967.7,1010.5L969.7,1010.2L971.7,1009.9L973.7,1009.6L975.7,1009.3L977.7,1009.0L979.7,1008.6L981.7,1008.3L983.7,1007.9L985.7,1007.6L987.7,1007.2L989.7,1006.8L991.7,1006.5L993.7,1006.1L995.7,1005.7L997.7,1005.3L999.7,1005.0L1001.7,1004.6L1003.7,1004.2L1005.7,1003.8L1007.7,1003.4L1009.7,1003.0L1011.7,1002.6L1013.7,1002.2L1015.7,1001.8L1017.7,1001.4L1019.7,1001.0L1021.7,1000.6L1023.7,1000.2L1025.7,999.8L1027.7,999.4L1029.7,999.0L1031.7,998.6L1033.7,998.2L1035.7,997.8L1037.7,997.3L1039.7,996.9L1041.7,996.5L1043.7,996.1L1045.7,995.6L1047.7,995.2L1049.7,994.8L1051.7,994.4L1053.7,994.0L1055.7,993.6L1057.7,993.2L1059.7,992.8L1061.7,992.4L1063.7,992.1L1065.7,991.8L1067.7,991.5L1069.7,991.3L1071.7,991.2L1073.7,991.1L1075.7,991.0L1077.7,991.0L1079.7,991.0L1081.7,990.9L1083.7,990.8L1085.7,990.6L1087.7,990.1L1089.7,989.4L1091.7,988.6L1093.7,988.1L1095.7,988.1L1097.7,988.6L1099.7,989.0L1101.7,989.2L1103.7,989.1L1105.7,988.8L1107.7,988.4L1109.7,987.9L1111.7,987.4L1113.7,986.9L1115.7,986.4L1117.7,985.9L1119.7,985.4L1121.7,985.0L1123.7,984.5L1125.7,984.0L1127.7,983.6L1129.7,983.2L1131.7,982.9L1133.7,982.6L1135.7,982.3L1137.7,982.1L1139.7,981.8L1141.7,981.6L1143.7,981.4L1145.7,981.3L1147.7,981.1L1149.7,981.0L1151.7,980.8L1153.7,980.7L1155.7,980.6L1157.7,980.5L1159.7,980.4L1161.7,980.3L1163.7,980.2L1165.7,980.0L1167.7,979.9L1169.7,979.9L1171.7,979.8L1173.7,979.7L1175.7,979.6L1177.7,979.5L1179.7,979.5L1181.7,979.4L1183.7,979.4L1185.7,979.3L1187.7,979.3L1189.7,979.3L1191.7,979.2L1193.7,979.2L1195.7,979.1L1197.7,979.1L1199.7,979.0L1201.7,979.0L1203.7,978.9L1205.7,978.9L1207.7,978.9L1209.7,978.8L1211.7,978.8L1213.7,978.7L1215.7,978.7L1217.7,978.7L1219.7,978.6L1221.7,978.6L1223.7,978.6L1225.7,978.5L1227.7,978.5L1229.7,978.4L1231.7,978.4L1233.7,978.4L1235.7,978.3L1237.7,978.3L1239.7,978.2L1241.7,978.2L1243.7,978.2L1245.7,978.1L1247.7,978.1L1249.7,978.0L1251.7,978.0L1253.7,977.9L1255.7,977.9L1257.7,977.8L1259.7,977.8L1261.7,977.7L1263.7,977.7L1265.7,977.6L1267.7,977.5L1269.7,977.5L1271.7,977.4L1273.7,977.4L1275.7,977.3L1277.7,977.3L1279.7,977.2L1281.7,977.1L1283.7,977.1L1285.7,977.0L1287.7,977.0L1289.7,976.9L1291.7,976.9L1293.7,976.8L1295.7,976.8L1297.7,976.7L1299.7,976.7L1301.7,976.7L1303.7,976.6L1305.7,976.6L1307.7,976.5L1309.7,976.5L1311.7,976.4L1313.7,976.4L1315.7,976.4L1317.7,976.3L1319.7,976.3L1321.7,976.2L1323.7,976.2L1325.7,976.1L1327.7,976.1L1329.7,976.1L1331.7,976.0L1333.7,976.0L1335.7,975.9L1337.7,975.9L1339.7,975.9L1341.7,975.8L1343.7,975.8L1345.7,975.8L1347.7,975.7L1349.7,975.7L1351.7,975.7L1353.7,975.7L1355.7,975.7L1357.7,975.7L1359.7,975.7L1361.7,975.7L1363.7,975.7L1365.7,975.7L1367.7,975.7L1369.7,975.8L1371.7,975.9L1373.7,976.0L1375.7,976.2L1377.7,976.6L1379.7,977.1L1381.7,977.8L1383.7,978.6L1385.7,979.5L1387.7,980.5L1389.7,982.0L1391.7,983.7L1393.7,985.7L1395.7,988.0L1397.7,990.6L1399.7,993.4L1401.7,996.3L1403.7,999.3L1405.7,1002.4L1407.7,1005.6L1409.7,1009.0L1411.7,1012.5L1413.7,1016.3L1415.7,1020.4L1417.7,1024.8L1419.7,1029.4L1421.7,1034.1L1423.7,1038.9L1425.7,1043.8L1427.7,1048.7L1429.7,1053.2L1431.7,1057.3L1433.7,1061.0L1435.7,1064.0L1437.7,1066.4L1439.7,1068.2L1441.7,1069.7L1443.7,1071.0L1445.7,1072.1L1447.7,1072.9L1449.7,1073.6L1451.7,1074.2L1453.7,1074.9L1455.7,1075.7L1457.7,1076.5L1459.7,1077.5L1461.7,1078.6L1463.7,1079.9L1465.7,1081.5L1467.7,1083.6L1469.7,1085.8L1471.7,1087.5L1473.7,1088.2L1475.7,1087.8L1477.7,1086.8L1479.7,1085.7L1481.7,1084.8L1483.7,1084.0L1485.7,1083.3L1487.7,1082.8L1489.7,1082.6L1491.7,1083.0L1493.7,1083.7L1495.7,1084.6L1497.7,1085.5L1499.7,1086.4L1501.7,1087.4L1503.7,1088.1L1505.7,1087.9L1507.7,1086.6L1509.7,1083.7L1511.7,1078.6L1513.7,1072.9L1515.7,1068.4L1517.7,1064.8L1519.7,1061.8L1521.7,1059.6L1523.7,1058.0L1525.7,1057.0L1527.7,1056.2L1529.7,1055.6L1531.7,1055.2L1533.7,1055.1L1535.7,1055.7L1537.7,1057.3L1539.7,1060.2L1541.7,1065.2L1543.7,1072.8L1545.7,1080.0L1547.7,1084.9L1549.7,1087.8L1551.7,1088.7L1553.7,1087.0L1555.7,1082.5L1557.7,1076.0L1559.7,1069.5L1561.7,1064.0L1563.7,1060.0L1565.7,1058.4L1567.7,1059.0L1569.7,1062.0L1571.7,1068.7L1573.7,1076.1L1575.7,1080.9L1577.7,1083.5L1579.7,1083.8L1581.7,1082.6L1583.7,1079.9L1585.7,1075.6L1587.7,1072.5L1589.7,1071.8L1591.7,1073.9L1593.7,1077.8L1595.7,1082.1L1597.7,1085.0L1599.7,1085.0L1601.7,1082.7L1603.7,1078.2L1605.7,1073.0L1607.7,1069.7L1609.7,1068.1L1611.7,1067.5L1613.7,1067.3L1615.7,1067.5L1617.7,1068.0L1619.7,1068.5L1621.7,1069.1L1623.7,1069.8L1625.7,1070.6L1627.7,1071.2L1629.7,1071.6L1631.7,1071.7L1633.7,1071.7L1635.7,1071.7L1637.7,1071.6L1639.7,1071.6L1641.7,1071.6L1643.7,1071.7L1645.7,1072.1L1647.7,1072.6L1649.7,1072.5L1651.7,1071.8L1653.7,1070.6L1655.7,1069.2L1657.7,1068.1L1659.7,1067.4L1661.7,1067.6L1663.7,1068.8L1665.7,1070.6L1667.7,1072.7L1669.7,1075.1L1671.7,1077.6L1673.7,1080.1L1675.7,1082.3L1677.7,1084.2L1679.7,1085.7L1681.7,1086.4L1683.7,1086.5L1685.7,1086.1L1687.7,1085.6L1689.7,1085.1L1691.7,1084.9L1693.7,1085.1L1695.7,1085.5L1697.7,1086.0L1699.7,1086.5L1701.7,1086.9L1703.7,1087.3L1705.7,1087.5L1707.7,1087.3L1709.7,1086.4L1711.7,1084.8L1713.7,1083.0L1715.7,1081.2L1717.7,1079.8L1719.7,1078.5L1721.7,1077.4L1723.7,1076.4L1725.7,1075.5L1727.7,1074.7L1729.7,1074.1L1731.7,1073.8L1733.7,1074.1L1735.7,1075.0L1737.7,1076.5L1739.7,1078.0L1741.7,1079.2L1743.7,1080.0L1745.7,1080.6L1747.7,1081.3L1749.7,1082.6L1751.7,1085.3L1753.7,1089.3L1755.7,1092.6L1757.7,1094.5L1759.7,1094.2L1761.7,1091.9L1763.7,1088.9L1765.7,1086.0L1767.7,1083.3L1769.7,1080.9L1771.7,1079.2L1773.7,1078.2L1775.7,1077.6L1777.7,1077.2L1779.7,1076.5L1781.7,1075.5L1783.7,1074.3L1785.7,1073.0L1787.7,1071.8L1789.7,1070.5L1791.7,1069.6L1793.7,1069.3L1795.7,1069.8L1797.7,1070.7L1799.7,1071.7L1801.7,1072.7L1803.7,1073.9L1805.7,1075.2L1807.7,1076.2L1809.7,1076.3L1811.7,1074.5L1813.7,1070.7L1815.7,1065.9L1817.7,1060.6L1819.7,1055.4L1821.7,1051.3L1823.7,1048.2L1825.7,1045.8L1827.7,1043.7L1829.7,1041.7L1831.7,1039.7L1833.7,1037.9L1835.7,1036.1L1837.7,1034.4L1839.7,1032.6L1841.7,1030.7L1843.7,1028.8L1845.7,1026.8L1847.7,1025.0L1849.7,1023.3L1851.7,1021.8L1853.7,1020.5L1855.7,1019.2L1857.7,1018.2L1859.7,1017.3L1861.7,1016.8L1863.7,1016.5L1865.7,1016.3L1867.7,1016.2L1869.7,1015.9L1871.7,1015.5L1873.7,1015.0L1875.7,1014.5L1877.7,1014.1L1879.7,1013.7L1881.7,1013.4L1883.7,1013.3L1885.7,1013.5L1887.7,1014.0L1889.7,1014.6L1891.7,1015.4L1893.7,1016.3L1895.7,1017.3L1897.7,1018.5L1899.7,1019.7L1901.7,1020.9L1903.7,1022.0L1905.7,1023.1L1907.7,1024.2L1909.7,1025.2L1911.7,1025.7L1913.7,1025.8L1915.7,1025.4L1917.7,1024.5L1919.7,1023.4L1921.7,1022.3L1923.7,1021.2L1925.7,1020.1L1927.7,1019.0L1929.7,1017.8L1931.7,1016.7L1933.7,1015.4L1935.7,1013.8L1937.7,1013.0L1939.7,1012.6L1941.7,1012.5L1943.7,1012.3L1945.7,1012.3L1947.7,1012.2L1949.7,1012.2L1951.7,1012.2L1953.7,1012.1L1955.7,1012.1L1957.7,1012.1L1959.7,1012.2L1961.7,1012.2L1963.7,1012.2L1965.7,1012.3L1967.7,1012.4L1969.7,1012.5L1971.7,1012.6L1973.7,1012.9L1975.7,1013.1L1977.7,1013.4L1979.7,1013.6L1981.7,1013.8L1983.7,1014.0L1985.7,1014.1L1987.7,1014.2L1989.7,1014.2L1991.7,1014.3L1993.7,1014.4L1995.7,1014.5L1997.7,1014.7L1999.7,1015.0L2001.7,1015.4L2003.7,1015.8L2005.7,1016.3L2007.7,1016.9L2009.7,1017.4L2011.7,1018.0L2013.7,1018.6L2015.7,1019.2L2017.7,1019.7L2019.7,1020.3L2021.7,1021.0L2023.7,1021.6L2025.7,1022.1L2027.7,1022.5L2029.7,1022.5L2031.7,1022.1L2033.7,1021.1L2035.7,1019.9L2037.7,1018.9L2039.7,1018.3L2041.7,1017.9L2043.7,1017.6L2045.7,1017.3L2047.7,1017.1L2049.7,1016.9L2051.7,1016.7L2053.7,1016.4L2055.7,1016.0L2057.7,1015.6L2059.7,1015.0L2061.7,1014.5L2063.7,1013.9L2065.7,1013.2L2067.7,1012.5L2069.7,1011.8L2071.7,1011.0L2073.7,1010.2L2075.7,1009.3L2077.7,1008.4L2079.7,1007.4L2081.7,1006.3L2083.7,1005.2L2085.7,1004.2L2087.7,1003.1L2089.7,1002.1L2091.7,1001.1L2093.7,1000.0L2095.7,999.0L2096.7,998.6" stroke="#CDE2A5" stroke-width="9.8"/>
<path d="M209.7,823.7L211.7,823.8L213.7,823.8L215.7,823.8L217.7,823.9L219.7,823.9L221.7,824.0L223.7,824.0L225.7,824.0L227.7,824.1L229.7,824.1L231.7,824.2L233.7,824.2L235.7,824.3L237.7,824.3L239.7,824.3L241.7,824.4L243.7,824.4L245.7,824.5L247.7,824.5L249.7,824.5L251.7,824.6L253.7,824.6L255.7,824.6L257.7,824.7L259.7,824.7L261.7,824.8L263.7,824.8L265.7,824.8L267.7,824.8L269.7,824.9L271.7,824.9L273.7,824.9L275.7,825.0L277.7,825.0L279.7,825.0L281.7,825.0L283.7,825.0L285.7,825.0L287.7,825.1L289.7,825.1L291.7,825.1L293.7,825.1L295.7,825.1L297.7,825.1L299.7,825.1L301.7,825.0L303.7,825.0L305.7,825.0L307.7,825.0L309.7,825.0L311.7,825.0L313.7,825.0L315.7,825.0L317.7,825.0L319.7,824.9L321.7,824.9L323.7,824.9L325.7,824.9L327.7,824.9L329.7,824.9L331.7,824.9L333.7,824.8L335.7,824.8L337.7,824.8L339.7,824.8L341.7,824.8L343.7,824.8L345.7,824.8L347.7,824.8L349.7,824.8L351.7,824.8L353.7,824.8L355.7,824.8L357.7,824.8L359.7,824.8L361.7,824.9L363.7,824.9L365.7,825.0L367.7,825.0L369.7,825.1L371.7,825.2L373.7,825.3L375.7,825.5L377.7,825.8L379.7,826.3L381.7,827.0L383.7,827.9L385.7,828.9L387.7,830.1L389.7,831.3L391.7,832.6L393.7,833.9L395.7,835.2L397.7,836.6L399.7,837.9L401.7,839.1L403.7,840.4L405.7,841.6L407.7,842.7L409.7,843.9L411.7,845.1L413.7,846.4L415.7,847.6L417.7,848.9L419.7,850.3L421.7,851.6L423.7,853.0L425.7,854.5L427.7,855.9L429.7,857.3L431.7,858.7L433.7,860.1L435.7,861.6L437.7,863.0L439.7,864.4L441.7,865.8L443.7,867.2L445.7,868.6L447.7,870.0L449.7,871.3L451.7,872.6L453.7,873.8L455.7,875.1L457.7,876.3L459.7,877.5L461.7,878.7L463.7,879.8L465.7,880.9L467.7,882.0L469.7,883.1L471.7,884.2L473.7,885.2L475.7,886.2L477.7,887.2L479.7,888.1L481.7,889.0L483.7,889.9L485.7,890.7L487.7,891.5L489.7,892.2L491.7,892.9L493.7,893.6L495.7,894.3L497.7,895.0L499.7,895.6L501.7,896.3L503.7,896.9L505.7,897.5L507.7,898.1L509.7,898.7L511.7,899.3L513.7,899.9L515.7,900.4L517.7,901.0L519.7,901.5L521.7,902.0L523.7,902.6L525.7,903.0L527.7,903.5L529.7,903.9L531.7,904.3L533.7,904.7L535.7,905.0L537.7,905.2L539.7,905.5L541.7,905.7L543.7,905.9L545.7,906.0L547.7,906.1L549.7,906.2L551.7,906.3L553.7,906.3L555.7,906.4L557.7,906.4L559.7,906.4L561.7,906.3L563.7,906.3L565.7,906.3L567.7,906.2L569.7,906.2L571.7,906.1L573.7,906.1L575.7,906.0L577.7,905.9L579.7,905.8L581.7,905.7L583.7,905.5L585.7,905.4L587.7,905.2L589.7,905.0L591.7,904.8L593.7,904.5L595.7,904.2L597.7,903.9L599.7,903.5L601.7,903.1L603.7,902.8L605.7,902.4L607.7,902.0L609.7,901.5L611.7,901.1L613.7,900.7L615.7,900.2L617.7,899.8L619.7,899.4L621.7,898.9L623.7,898.4L625.7,898.0L627.7,897.5L629.7,897.0L631.7,896.5L633.7,896.0L635.7,895.5L637.7,894.9L639.7,894.4L641.7,893.8L643.7,893.2L645.7,892.6L647.7,892.0L649.7,891.4L651.7,890.8L653.7,890.2L655.7,889.6L657.7,889.1L659.7,888.5L661.7,888.0L663.7,887.5L665.7,887.1L667.7,886.7L669.7,886.3L671.7,885.9L673.7,885.6L675.7,885.2L677.7,884.9L679.7,884.7L681.7,884.4L683.7,884.1L685.7,883.8L687.7,883.6L689.7,883.3L691.7,883.1L693.7,882.8L695.7,882.5L697.7,882.2L699.7,881.9L701.7,881.6L703.7,881.2L705.7,880.8L707.7,880.4L709.7,880.0L711.7,879.6L713.7,879.2L715.7,878.7L717.7,878.3L719.7,877.9L721.7,877.5L723.7,877.1L725.7,876.7L727.7,876.4L729.7,876.2L731.7,876.0L733.7,876.0L735.7,876.1L737.7,876.3L739.7,876.6L741.7,877.0L743.7,877.5L745.7,878.0L747.7,878.6L749.7,879.3L751.7,880.2L753.7,881.6L755.7,883.6L757.7,886.1L759.7,888.9L761.7,892.1L763.7,895.2L765.7,898.0L767.7,900.1L769.7,901.4L771.7,902.2L773.7,903.3L775.7,905.1L777.7,907.6L779.7,910.5L781.7,913.5L783.7,916.6L785.7,920.0L787.7,923.4L789.7,926.2L791.7,928.1L793.7,928.3L795.7,922.9L797.7,912.2L799.7,905.3L801.7,901.0L803.7,897.6L805.7,894.9L807.7,892.8L809.7,891.2L811.7,889.9L813.7,889.0L815.7,888.3L817.7,887.8L819.7,888.1L821.7,889.8L823.7,893.7L825.7,899.3L827.7,904.6L829.7,906.6L831.7,902.7L833.7,893.6L835.7,884.2L837.7,877.9L839.7,873.8L841.7,870.9L843.7,868.8L845.7,867.1L847.7,865.8L849.7,864.8L851.7,863.9L853.7,863.0L855.7,862.1L857.7,861.2L859.7,860.5L861.7,859.9L863.7,859.3L865.7,858.8L867.7,858.3L869.7,857.8L871.7,857.4L873.7,856.9L875.7,856.5L877.7,856.0L879.7,855.6L881.7,855.2L883.7,854.8L885.7,854.4L887.7,854.0L889.7,853.6L891.7,853.3L893.7,852.9L895.7,852.6L897.7,852.3L899.7,852.0L901.7,851.7L903.7,851.4L905.7,851.1L907.7,850.9L909.7,850.7L911.7,850.5L913.7,850.3L915.7,850.1L917.7,849.9L919.7,849.7L921.7,849.6L923.7,849.4L925.7,849.2L927.7,849.1L929.7,848.9L931.7,848.7L933.7,848.5L935.7,848.4L937.7,848.2L939.7,848.1L941.7,847.9L943.7,847.7L945.7,847.6L947.7,847.5L949.7,847.3L951.7,847.2L953.7,847.0L955.7,846.9L957.7,846.7L959.7,846.5L961.7,846.4L963.7,846.2L965.7,846.0L967.7,845.8L969.7,845.6L971.7,845.4L973.7,845.1L975.7,844.9L977.7,844.7L979.7,844.4L981.7,844.2L983.7,844.0L985.7,843.7L987.7,843.4L989.7,843.2L991.7,842.9L993.7,842.7L995.7,842.4L997.7,842.2L999.7,841.9L1001.7,841.7L1003.7,841.4L1005.7,841.2L1007.7,840.9L1009.7,840.7L1011.7,840.4L1013.7,840.1L1015.7,839.9L1017.7,839.6L1019.7,839.3L1021.7,839.1L1023.7,838.8L1025.7,838.6L1027.7,838.3L1029.7,838.0L1031.7,837.8L1033.7,837.5L1035.7,837.2L1037.7,837.0L1039.7,836.7L1041.7,836.4L1043.7,836.1L1045.7,835.9L1047.7,835.6L1049.7,835.3L1051.7,835.0L1053.7,834.8L1055.7,834.5L1057.7,834.3L1059.7,834.0L1061.7,833.8L1063.7,833.6L1065.7,833.4L1067.7,833.2L1069.7,833.1L1071.7,833.0L1073.7,832.9L1075.7,832.9L1077.7,832.9L1079.7,832.8L1081.7,832.8L1083.7,832.7L1085.7,832.5L1087.7,832.1L1089.7,831.5L1091.7,830.9L1093.7,830.7L1095.7,831.0L1097.7,831.8L1099.7,832.6L1101.7,833.0L1103.7,833.1L1105.7,833.0L1107.7,832.8L1109.7,832.6L1111.7,832.3L1113.7,832.0L1115.7,831.7L1117.7,831.4L1119.7,831.0L1121.7,830.7L1123.7,830.4L1125.7,830.1L1127.7,829.9L1129.7,829.6L1131.7,829.4L1133.7,829.2L1135.7,829.1L1137.7,828.9L1139.7,828.8L1141.7,828.6L1143.7,828.5L1145.7,828.4L1147.7,828.3L1149.7,828.2L1151.7,828.1L1153.7,828.0L1155.7,827.9L1157.7,827.9L1159.7,827.8L1161.7,827.8L1163.7,827.7L1165.7,827.6L1167.7,827.6L1169.7,827.6L1171.7,827.6L1173.7,827.5L1175.7,827.5L1177.7,827.6L1179.7,827.6L1181.7,827.6L1183.7,827.6L1185.7,827.6L1187.7,827.6L1189.7,827.7L1191.7,827.7L1193.7,827.7L1195.7,827.7L1197.7,827.6L1199.7,827.6L1201.7,827.6L1203.7,827.6L1205.7,827.5L1207.7,827.5L1209.7,827.5L1211.7,827.5L1213.7,827.4L1215.7,827.4L1217.7,827.3L1219.7,827.3L1221.7,827.3L1223.7,827.2L1225.7,827.2L1227.7,827.1L1229.7,827.1L1231.7,827.0L1233.7,827.0L1235.7,827.0L1237.7,826.9L1239.7,826.9L1241.7,826.8L1243.7,826.8L1245.7,826.7L1247.7,826.7L1249.7,826.6L1251.7,826.6L1253.7,826.5L1255.7,826.5L1257.7,826.4L1259.7,826.4L1261.7,826.3L1263.7,826.3L1265.7,826.2L1267.7,826.1L1269.7,826.1L1271.7,826.0L1273.7,826.0L1275.7,825.9L1277.7,825.9L1279.7,825.8L1281.7,825.7L1283.7,825.7L1285.7,825.6L1287.7,825.6L1289.7,825.5L1291.7,825.5L1293.7,825.4L1295.7,825.4L1297.7,825.3L1299.7,825.3L1301.7,825.3L1303.7,825.2L1305.7,825.2L1307.7,825.1L1309.7,825.1L1311.7,825.1L1313.7,825.0L1315.7,825.0L1317.7,824.9L1319.7,824.9L1321.7,824.9L1323.7,824.8L1325.7,824.8L1327.7,824.7L1329.7,824.7L1331.7,824.7L1333.7,824.6L1335.7,824.6L1337.7,824.6L1339.7,824.5L1341.7,824.5L1343.7,824.5L1345.7,824.4L1347.7,824.4L1349.7,824.4L1351.7,824.4L1353.7,824.4L1355.7,824.3L1357.7,824.3L1359.7,824.3L1361.7,824.3L1363.7,824.3L1365.7,824.3L1367.7,824.3L1369.7,824.4L1371.7,824.4L1373.7,824.5L1375.7,824.6L1377.7,824.8L1379.7,825.2L1381.7,825.6L1383.7,826.1L1385.7,826.6L1387.7,827.3L1389.7,828.0L1391.7,828.8L1393.7,829.7L1395.7,830.6L1397.7,831.7L1399.7,832.8L1401.7,834.2L1403.7,835.6L1405.7,837.1L1407.7,838.6L1409.7,840.0L1411.7,841.4L1413.7,843.1L1415.7,845.2L1417.7,847.9L1419.7,851.2L1421.7,854.8L1423.7,858.3L1425.7,861.6L1427.7,864.4L1429.7,867.0L1431.7,869.4L1433.7,871.8L1435.7,874.1L1437.7,876.3L1439.7,878.6L1441.7,880.8L1443.7,883.0L1445.7,885.1L1447.7,887.2L1449.7,889.2L1451.7,891.2L1453.7,893.2L1455.7,895.1L1457.7,896.9L1459.7,898.7L1461.7,900.6L1463.7,902.7L1465.7,905.3L1467.7,908.2L1469.7,911.0L1471.7,913.7L1473.7,915.5L1475.7,915.4L1477.7,914.0L1479.7,912.3L1481.7,910.7L1483.7,909.5L1485.7,908.6L1487.7,907.9L1489.7,907.6L1491.7,907.7L1493.7,908.6L1495.7,910.1L1497.7,911.7L1499.7,913.1L1501.7,914.5L1503.7,915.5L1505.7,915.5L1507.7,914.2L1509.7,911.3L1511.7,906.6L1513.7,901.3L1515.7,897.4L1517.7,894.6L1519.7,892.4L1521.7,890.6L1523.7,889.2L1525.7,888.2L1527.7,887.4L1529.7,886.5L1531.7,885.4L1533.7,884.4L1535.7,883.6L1537.7,883.4L1539.7,884.5L1541.7,888.2L1543.7,895.2L1545.7,903.6L1547.7,909.9L1549.7,913.4L1551.7,913.7L1553.7,911.3L1555.7,906.2L1557.7,899.3L1559.7,891.9L1561.7,884.9L1563.7,879.3L1565.7,876.8L1567.7,877.6L1569.7,881.7L1571.7,890.2L1573.7,899.5L1575.7,905.8L1577.7,909.3L1579.7,909.5L1581.7,907.4L1583.7,903.4L1585.7,897.5L1587.7,893.3L1589.7,892.7L1591.7,895.3L1593.7,899.7L1595.7,904.1L1597.7,907.0L1599.7,907.1L1601.7,904.6L1603.7,899.7L1605.7,893.7L1607.7,889.8L1609.7,887.9L1611.7,886.9L1613.7,886.5L1615.7,886.5L1617.7,886.9L1619.7,887.3L1621.7,887.7L1623.7,888.2L1625.7,888.8L1627.7,889.1L1629.7,889.2L1631.7,888.9L1633.7,888.6L1635.7,888.1L1637.7,887.7L1639.7,887.2L1641.7,886.8L1643.7,886.5L1645.7,886.4L1647.7,886.3L1649.7,885.7L1651.7,884.6L1653.7,883.1L1655.7,881.6L1657.7,880.1L1659.7,879.2L1661.7,879.0L1663.7,879.7L1665.7,881.4L1667.7,883.9L1669.7,887.1L1671.7,890.8L1673.7,894.3L1675.7,897.3L1677.7,900.0L1679.7,902.0L1681.7,902.9L1683.7,902.8L1685.7,902.1L1687.7,901.3L1689.7,900.6L1691.7,900.4L1693.7,901.0L1695.7,902.1L1697.7,903.4L1699.7,904.5L1701.7,905.4L1703.7,906.2L1705.7,906.4L1707.7,905.7L1709.7,904.4L1711.7,902.8L1713.7,901.2L1715.7,899.8L1717.7,898.5L1719.7,897.5L1721.7,897.1L1723.7,897.2L1725.7,897.6L1727.7,898.4L1729.7,899.6L1731.7,901.1L1733.7,903.0L1735.7,905.0L1737.7,907.0L1739.7,908.8L1741.7,910.3L1743.7,911.6L1745.7,912.8L1747.7,914.3L1749.7,916.3L1751.7,919.9L1753.7,925.0L1755.7,929.2L1757.7,931.7L1759.7,931.7L1761.7,929.5L1763.7,926.4L1765.7,923.3L1767.7,920.1L1769.7,917.0L1771.7,914.5L1773.7,912.6L1775.7,911.1L1777.7,909.6L1779.7,908.0L1781.7,906.3L1783.7,904.4L1785.7,902.5L1787.7,900.7L1789.7,899.0L1791.7,897.4L1793.7,896.1L1795.7,895.6L1797.7,895.5L1799.7,895.7L1801.7,896.0L1803.7,896.6L1805.7,897.6L1807.7,898.6L1809.7,898.8L1811.7,897.1L1813.7,893.6L1815.7,888.8L1817.7,883.1L1819.7,877.3L1821.7,872.7L1823.7,869.1L1825.7,866.2L1827.7,863.7L1829.7,861.5L1831.7,859.5L1833.7,857.8L1835.7,856.3L1837.7,854.7L1839.7,853.1L1841.7,851.2L1843.7,849.3L1845.7,847.4L1847.7,845.5L1849.7,843.8L1851.7,842.2L1853.7,840.7L1855.7,839.3L1857.7,838.1L1859.7,837.1L1861.7,836.4L1863.7,835.9L1865.7,835.6L1867.7,835.2L1869.7,834.7L1871.7,834.1L1873.7,833.3L1875.7,832.6L1877.7,831.8L1879.7,831.2L1881.7,830.7L1883.7,830.4L1885.7,830.4L1887.7,830.7L1889.7,831.2L1891.7,831.9L1893.7,832.7L1895.7,833.7L1897.7,834.8L1899.7,836.1L1901.7,837.3L1903.7,838.5L1905.7,839.9L1907.7,841.2L1909.7,842.5L1911.7,843.4L1913.7,843.7L1915.7,843.4L1917.7,842.8L1919.7,841.9L1921.7,840.9L1923.7,840.1L1925.7,839.4L1927.7,838.6L1929.7,837.8L1931.7,836.9L1933.7,836.0L1935.7,834.7L1937.7,833.6L1939.7,833.1L1941.7,832.9L1943.7,832.8L1945.7,832.8L1947.7,832.8L1949.7,832.8L1951.7,832.9L1953.7,832.9L1955.7,833.0L1957.7,833.2L1959.7,833.4L1961.7,833.7L1963.7,834.1L1965.7,834.6L1967.7,835.3L1969.7,836.3L1971.7,837.3L1973.7,838.2L1975.7,838.9L1977.7,839.1L1979.7,839.0L1981.7,838.6L1983.7,838.3L1985.7,838.1L1987.7,838.2L1989.7,838.5L1991.7,838.9L1993.7,839.3L1995.7,839.7L1997.7,839.8L1999.7,839.9L2001.7,839.8L2003.7,839.9L2005.7,840.0L2007.7,840.4L2009.7,841.2L2011.7,842.4L2013.7,843.9L2015.7,845.4L2017.7,846.7L2019.7,847.9L2021.7,849.1L2023.7,850.3L2025.7,851.7L2027.7,852.7L2029.7,852.7L2031.7,851.2L2033.7,848.9L2035.7,847.4L2037.7,846.7L2039.7,846.3L2041.7,846.1L2043.7,846.0L2045.7,845.9L2047.7,845.8L2049.7,845.7L2051.7,845.6L2053.7,845.5L2055.7,845.3L2057.7,845.2L2059.7,845.1L2061.7,845.0L2063.7,844.9L2065.7,844.8L2067.7,844.6L2069.7,844.4L2071.7,844.2L2073.7,844.0L2075.7,843.8L2077.7,843.6L2079.7,843.4L2081.7,843.2L2083.7,843.0L2085.7,842.7L2087.7,842.5L2089.7,842.3L2091.7,842.0L2093.7,841.8L2095.7,841.6L2096.7,841.5" stroke="#48AAB5" stroke-width="9.8"/>
<path d="M209.7,654.9L211.7,655.0L213.7,655.0L215.7,655.0L217.7,655.0L219.7,655.0L221.7,655.0L223.7,655.1L225.7,655.1L227.7,655.1L229.7,655.1L231.7,655.1L233.7,655.2L235.7,655.2L237.7,655.2L239.7,655.2L241.7,655.2L243.7,655.3L245.7,655.3L247.7,655.3L249.7,655.3L251.7,655.3L253.7,655.4L255.7,655.4L257.7,655.4L259.7,655.4L261.7,655.4L263.7,655.4L265.7,655.5L267.7,655.5L269.7,655.5L271.7,655.5L273.7,655.5L275.7,655.5L277.7,655.6L279.7,655.6L281.7,655.6L283.7,655.6L285.7,655.6L287.7,655.6L289.7,655.6L291.7,655.6L293.7,655.6L295.7,655.6L297.7,655.6L299.7,655.6L301.7,655.6L303.7,655.6L305.7,655.6L307.7,655.6L309.7,655.6L311.7,655.6L313.7,655.6L315.7,655.6L317.7,655.6L319.7,655.6L321.7,655.6L323.7,655.6L325.7,655.6L327.7,655.6L329.7,655.6L331.7,655.6L333.7,655.6L335.7,655.6L337.7,655.6L339.7,655.6L341.7,655.6L343.7,655.6L345.7,655.6L347.7,655.6L349.7,655.6L351.7,655.6L353.7,655.7L355.7,655.7L357.7,655.7L359.7,655.7L361.7,655.8L363.7,655.8L365.7,655.8L367.7,655.9L369.7,656.0L371.7,656.1L373.7,656.2L375.7,656.5L377.7,656.9L379.7,657.8L381.7,659.3L383.7,661.2L385.7,663.7L387.7,666.5L389.7,669.5L391.7,672.3L393.7,675.1L395.7,677.8L397.7,680.5L399.7,683.2L401.7,686.0L403.7,688.8L405.7,691.5L407.7,694.3L409.7,697.1L411.7,700.0L413.7,702.8L415.7,705.6L417.7,708.4L419.7,711.2L421.7,714.1L423.7,716.9L425.7,719.8L427.7,722.5L429.7,725.3L431.7,728.0L433.7,730.6L435.7,733.2L437.7,735.7L439.7,738.2L441.7,740.6L443.7,742.9L445.7,745.3L447.7,747.5L449.7,749.8L451.7,752.0L453.7,754.2L455.7,756.3L457.7,758.3L459.7,760.3L461.7,762.2L463.7,764.1L465.7,765.7L467.7,767.3L469.7,768.8L471.7,770.1L473.7,771.4L475.7,772.6L477.7,773.7L479.7,774.7L481.7,775.8L483.7,776.7L485.7,777.7L487.7,778.5L489.7,779.4L491.7,780.2L493.7,780.9L495.7,781.7L497.7,782.4L499.7,783.1L501.7,783.8L503.7,784.4L505.7,785.1L507.7,785.7L509.7,786.3L511.7,786.8L513.7,787.4L515.7,787.9L517.7,788.4L519.7,788.9L521.7,789.4L523.7,789.8L525.7,790.2L527.7,790.6L529.7,790.9L531.7,791.2L533.7,791.4L535.7,791.5L537.7,791.5L539.7,791.5L541.7,791.5L543.7,791.4L545.7,791.3L547.7,791.2L549.7,791.1L551.7,791.0L553.7,790.8L555.7,790.7L557.7,790.5L559.7,790.4L561.7,790.2L563.7,790.0L565.7,789.8L567.7,789.6L569.7,789.4L571.7,789.2L573.7,789.0L575.7,788.8L577.7,788.6L579.7,788.4L581.7,788.1L583.7,787.9L585.7,787.7L587.7,787.4L589.7,787.2L591.7,786.9L593.7,786.6L595.7,786.3L597.7,786.0L599.7,785.7L601.7,785.3L603.7,784.9L605.7,784.6L607.7,784.1L609.7,783.7L611.7,783.3L613.7,782.8L615.7,782.4L617.7,781.9L619.7,781.4L621.7,780.9L623.7,780.4L625.7,779.9L627.7,779.4L629.7,778.9L631.7,778.4L633.7,777.8L635.7,777.3L637.7,776.7L639.7,776.1L641.7,775.5L643.7,774.9L645.7,774.2L647.7,773.6L649.7,773.0L651.7,772.3L653.7,771.7L655.7,771.1L657.7,770.5L659.7,769.9L661.7,769.3L663.7,768.8L665.7,768.2L667.7,767.7L669.7,767.3L671.7,766.8L673.7,766.4L675.7,765.9L677.7,765.5L679.7,765.1L681.7,764.7L683.7,764.3L685.7,763.9L687.7,763.5L689.7,763.1L691.7,762.7L693.7,762.3L695.7,761.9L697.7,761.5L699.7,761.1L701.7,760.6L703.7,760.2L705.7,759.7L707.7,759.1L709.7,758.6L711.7,758.1L713.7,757.5L715.7,757.0L717.7,756.4L719.7,755.9L721.7,755.3L723.7,754.7L725.7,754.2L727.7,753.7L729.7,753.3L731.7,753.0L733.7,752.8L735.7,752.7L737.7,752.8L739.7,752.9L741.7,753.1L743.7,753.3L745.7,753.6L747.7,754.0L749.7,754.5L751.7,755.1L753.7,756.0L755.7,757.2L757.7,758.5L759.7,759.8L761.7,761.2L763.7,762.6L765.7,763.8L767.7,764.9L769.7,765.9L771.7,766.7L773.7,767.5L775.7,768.3L777.7,769.5L779.7,770.9L781.7,772.2L783.7,772.4L785.7,771.4L787.7,769.6L789.7,767.9L791.7,766.4L793.7,765.0L795.7,763.6L797.7,762.3L799.7,761.2L801.7,760.3L803.7,759.5L805.7,758.9L807.7,758.3L809.7,757.8L811.7,757.3L813.7,756.9L815.7,756.3L817.7,755.3L819.7,754.0L821.7,752.7L823.7,752.1L825.7,752.1L827.7,752.4L829.7,752.7L831.7,752.6L833.7,751.8L835.7,750.1L837.7,747.9L839.7,745.2L841.7,742.6L843.7,740.6L845.7,739.0L847.7,737.6L849.7,736.3L851.7,735.2L853.7,734.1L855.7,733.2L857.7,732.3L859.7,731.5L861.7,730.9L863.7,730.3L865.7,729.7L867.7,729.1L869.7,728.5L871.7,728.0L873.7,727.4L875.7,726.9L877.7,726.3L879.7,725.8L881.7,725.3L883.7,724.8L885.7,724.3L887.7,723.8L889.7,723.3L891.7,722.8L893.7,722.4L895.7,721.9L897.7,721.5L899.7,721.1L901.7,720.8L903.7,720.4L905.7,720.1L907.7,719.8L909.7,719.5L911.7,719.2L913.7,718.9L915.7,718.7L917.7,718.4L919.7,718.2L921.7,718.0L923.7,717.7L925.7,717.5L927.7,717.3L929.7,717.1L931.7,716.9L933.7,716.7L935.7,716.6L937.7,716.4L939.7,716.2L941.7,716.1L943.7,716.0L945.7,715.9L947.7,715.8L949.7,715.7L951.7,715.6L953.7,715.5L955.7,715.4L957.7,715.2L959.7,715.1L961.7,714.9L963.7,714.7L965.7,714.5L967.7,714.3L969.7,714.0L971.7,713.7L973.7,713.4L975.7,713.1L977.7,712.8L979.7,712.5L981.7,712.2L983.7,711.8L985.7,711.5L987.7,711.1L989.7,710.7L991.7,710.3L993.7,709.9L995.7,709.6L997.7,709.2L999.7,708.8L1001.7,708.4L1003.7,707.9L1005.7,707.5L1007.7,707.1L1009.7,706.6L1011.7,706.2L1013.7,705.7L1015.7,705.2L1017.7,704.8L1019.7,704.3L1021.7,703.8L1023.7,703.3L1025.7,702.9L1027.7,702.4L1029.7,701.9L1031.7,701.4L1033.7,700.9L1035.7,700.4L1037.7,699.9L1039.7,699.4L1041.7,698.9L1043.7,698.4L1045.7,697.9L1047.7,697.3L1049.7,696.8L1051.7,696.3L1053.7,695.8L1055.7,695.3L1057.7,694.8L1059.7,694.3L1061.7,693.8L1063.7,693.4L1065.7,692.9L1067.7,692.6L1069.7,692.2L1071.7,692.0L1073.7,691.7L1075.7,691.6L1077.7,691.5L1079.7,691.3L1081.7,691.2L1083.7,691.1L1085.7,690.9L1087.7,690.8L1089.7,690.6L1091.7,690.5L1093.7,690.3L1095.7,690.0L1097.7,689.7L1099.7,689.4L1101.7,689.1L1103.7,688.7L1105.7,688.3L1107.7,687.9L1109.7,687.4L1111.7,687.0L1113.7,686.6L1115.7,686.1L1117.7,685.7L1119.7,685.3L1121.7,684.9L1123.7,684.5L1125.7,684.1L1127.7,683.7L1129.7,683.3L1131.7,683.0L1133.7,682.7L1135.7,682.4L1137.7,682.1L1139.7,681.9L1141.7,681.6L1143.7,681.4L1145.7,681.1L1147.7,680.9L1149.7,680.7L1151.7,680.5L1153.7,680.3L1155.7,680.2L1157.7,680.0L1159.7,679.9L1161.7,679.7L1163.7,679.6L1165.7,679.5L1167.7,679.4L1169.7,679.4L1171.7,679.3L1173.7,679.3L1175.7,679.3L1177.7,679.3L1179.7,679.4L1181.7,679.4L1183.7,679.4L1185.7,679.5L1187.7,679.5L1189.7,679.5L1191.7,679.5L1193.7,679.5L1195.7,679.5L1197.7,679.5L1199.7,679.5L1201.7,679.5L1203.7,679.4L1205.7,679.4L1207.7,679.3L1209.7,679.2L1211.7,679.2L1213.7,679.1L1215.7,679.1L1217.7,679.0L1219.7,678.9L1221.7,678.8L1223.7,678.8L1225.7,678.7L1227.7,678.6L1229.7,678.6L1231.7,678.5L1233.7,678.4L1235.7,678.3L1237.7,678.3L1239.7,678.2L1241.7,678.1L1243.7,678.0L1245.7,678.0L1247.7,677.9L1249.7,677.8L1251.7,677.8L1253.7,677.7L1255.7,677.6L1257.7,677.6L1259.7,677.5L1261.7,677.4L1263.7,677.4L1265.7,677.3L1267.7,677.3L1269.7,677.2L1271.7,677.1L1273.7,677.1L1275.7,677.0L1277.7,676.9L1279.7,676.9L1281.7,676.8L1283.7,676.7L1285.7,676.7L1287.7,676.6L1289.7,676.5L1291.7,676.5L1293.7,676.4L1295.7,676.3L1297.7,676.2L1299.7,676.2L1301.7,676.1L1303.7,676.0L1305.7,675.9L1307.7,675.8L1309.7,675.7L1311.7,675.6L1313.7,675.5L1315.7,675.4L1317.7,675.3L1319.7,675.2L1321.7,675.1L1323.7,675.0L1325.7,674.8L1327.7,674.7L1329.7,674.7L1331.7,674.6L1333.7,674.5L1335.7,674.4L1337.7,674.3L1339.7,674.2L1341.7,674.1L1343.7,674.0L1345.7,673.9L1347.7,673.9L1349.7,673.8L1351.7,673.7L1353.7,673.6L1355.7,673.6L1357.7,673.5L1359.7,673.5L1361.7,673.5L1363.7,673.5L1365.7,673.5L1367.7,673.6L1369.7,673.7L1371.7,673.9L1373.7,674.1L1375.7,674.4L1377.7,674.8L1379.7,675.2L1381.7,675.7L1383.7,676.4L1385.7,677.2L1387.7,678.1L1389.7,679.4L1391.7,681.0L1393.7,682.8L1395.7,684.9L1397.7,687.2L1399.7,689.8L1401.7,692.5L1403.7,695.4L1405.7,698.5L1407.7,701.7L1409.7,705.1L1411.7,708.6L1413.7,712.4L1415.7,716.3L1417.7,720.4L1419.7,725.1L1421.7,730.5L1423.7,737.0L1425.7,744.1L1427.7,751.2L1429.7,757.6L1431.7,762.7L1433.7,766.8L1435.7,770.1L1437.7,772.7L1439.7,775.0L1441.7,776.7L1443.7,778.1L1445.7,779.1L1447.7,779.9L1449.7,780.4L1451.7,780.8L1453.7,781.2L1455.7,781.8L1457.7,782.6L1459.7,783.5L1461.7,784.6L1463.7,786.0L1465.7,787.8L1467.7,790.3L1469.7,793.0L1471.7,795.1L1473.7,796.0L1475.7,795.7L1477.7,794.6L1479.7,793.5L1481.7,792.6L1483.7,791.9L1485.7,791.4L1487.7,791.1L1489.7,791.1L1491.7,791.5L1493.7,792.3L1495.7,793.3L1497.7,794.2L1499.7,795.4L1501.7,796.7L1503.7,797.5L1505.7,797.1L1507.7,795.2L1509.7,791.4L1511.7,785.5L1513.7,778.8L1515.7,773.1L1517.7,768.1L1519.7,763.8L1521.7,760.5L1523.7,758.2L1525.7,756.6L1527.7,755.3L1529.7,754.4L1531.7,754.0L1533.7,754.1L1535.7,755.1L1537.7,757.1L1539.7,760.6L1541.7,766.9L1543.7,776.7L1545.7,786.2L1547.7,792.7L1549.7,796.7L1551.7,797.8L1553.7,795.7L1555.7,790.5L1557.7,783.1L1559.7,775.6L1561.7,769.2L1563.7,764.4L1565.7,762.3L1567.7,763.0L1569.7,766.9L1571.7,775.5L1573.7,784.4L1575.7,789.3L1577.7,791.6L1579.7,791.8L1581.7,790.4L1583.7,787.7L1585.7,783.4L1587.7,780.1L1589.7,779.0L1591.7,781.0L1593.7,784.9L1595.7,789.2L1597.7,792.2L1599.7,792.2L1601.7,789.8L1603.7,784.8L1605.7,778.8L1607.7,775.1L1609.7,773.5L1611.7,772.9L1613.7,772.9L1615.7,773.5L1617.7,774.5L1619.7,775.5L1621.7,776.6L1623.7,777.8L1625.7,778.9L1627.7,779.8L1629.7,780.4L1631.7,780.7L1633.7,780.9L1635.7,781.0L1637.7,781.0L1639.7,781.0L1641.7,781.0L1643.7,781.1L1645.7,781.5L1647.7,781.7L1649.7,781.5L1651.7,780.6L1653.7,779.4L1655.7,778.0L1657.7,776.7L1659.7,776.0L1661.7,776.0L1663.7,777.1L1665.7,778.9L1667.7,781.1L1669.7,783.8L1671.7,786.8L1673.7,789.7L1675.7,792.4L1677.7,795.0L1679.7,797.0L1681.7,798.0L1683.7,798.0L1685.7,797.5L1687.7,796.8L1689.7,796.1L1691.7,795.9L1693.7,796.1L1695.7,796.7L1697.7,797.4L1699.7,798.1L1701.7,798.6L1703.7,799.1L1705.7,799.4L1707.7,799.2L1709.7,798.3L1711.7,796.8L1713.7,795.0L1715.7,793.2L1717.7,791.6L1719.7,790.2L1721.7,788.9L1723.7,787.7L1725.7,786.8L1727.7,786.1L1729.7,785.7L1731.7,785.6L1733.7,786.1L1735.7,787.4L1737.7,789.1L1739.7,791.0L1741.7,792.5L1743.7,793.5L1745.7,794.3L1747.7,795.1L1749.7,796.5L1751.7,799.1L1753.7,802.7L1755.7,805.8L1757.7,807.7L1759.7,807.4L1761.7,804.9L1763.7,801.6L1765.7,798.5L1767.7,795.4L1769.7,792.5L1771.7,790.4L1773.7,789.1L1775.7,788.2L1777.7,787.4L1779.7,786.5L1781.7,785.2L1783.7,783.6L1785.7,782.0L1787.7,780.6L1789.7,779.3L1791.7,778.4L1793.7,778.3L1795.7,779.0L1797.7,780.2L1799.7,781.4L1801.7,782.6L1803.7,783.9L1805.7,785.1L1807.7,786.1L1809.7,786.2L1811.7,784.5L1813.7,780.6L1815.7,775.9L1817.7,770.7L1819.7,765.5L1821.7,761.1L1823.7,757.4L1825.7,754.1L1827.7,751.1L1829.7,748.3L1831.7,745.7L1833.7,743.2L1835.7,740.9L1837.7,738.7L1839.7,736.6L1841.7,734.5L1843.7,732.5L1845.7,730.6L1847.7,728.9L1849.7,727.3L1851.7,725.8L1853.7,724.6L1855.7,723.4L1857.7,722.4L1859.7,721.6L1861.7,720.9L1863.7,720.4L1865.7,720.0L1867.7,719.6L1869.7,719.2L1871.7,718.8L1873.7,718.3L1875.7,717.8L1877.7,717.3L1879.7,716.9L1881.7,716.7L1883.7,716.6L1885.7,716.8L1887.7,717.2L1889.7,717.8L1891.7,718.6L1893.7,719.6L1895.7,720.8L1897.7,722.2L1899.7,723.7L1901.7,725.1L1903.7,726.3L1905.7,727.4L1907.7,728.5L1909.7,729.3L1911.7,729.8L1913.7,729.7L1915.7,729.0L1917.7,728.0L1919.7,726.8L1921.7,725.6L1923.7,724.4L1925.7,723.0L1927.7,721.6L1929.7,720.3L1931.7,718.9L1933.7,717.4L1935.7,716.1L1937.7,715.3L1939.7,714.9L1941.7,714.6L1943.7,714.4L1945.7,714.2L1947.7,714.1L1949.7,713.9L1951.7,713.8L1953.7,713.7L1955.7,713.6L1957.7,713.5L1959.7,713.4L1961.7,713.4L1963.7,713.3L1965.7,713.3L1967.7,713.2L1969.7,713.2L1971.7,713.2L1973.7,713.2L1975.7,713.3L1977.7,713.5L1979.7,713.6L1981.7,713.8L1983.7,714.0L1985.7,714.2L1987.7,714.5L1989.7,714.8L1991.7,715.1L1993.7,715.5L1995.7,715.8L1997.7,716.2L1999.7,716.6L2001.7,717.0L2003.7,717.4L2005.7,717.9L2007.7,718.4L2009.7,718.9L2011.7,719.5L2013.7,720.2L2015.7,721.1L2017.7,722.2L2019.7,723.3L2021.7,724.0L2023.7,724.6L2025.7,725.0L2027.7,725.0L2029.7,724.3L2031.7,722.7L2033.7,720.9L2035.7,719.5L2037.7,718.7L2039.7,718.2L2041.7,717.9L2043.7,717.6L2045.7,717.2L2047.7,716.9L2049.7,716.5L2051.7,716.1L2053.7,715.6L2055.7,715.2L2057.7,714.7L2059.7,714.2L2061.7,713.6L2063.7,712.9L2065.7,712.2L2067.7,711.5L2069.7,710.7L2071.7,709.9L2073.7,709.0L2075.7,708.2L2077.7,707.3L2079.7,706.5L2081.7,705.6L2083.7,704.6L2085.7,703.7L2087.7,702.7L2089.7,701.8L2091.7,700.8L2093.7,699.8L2095.7,698.9L2096.7,698.5" stroke="#4050A3" stroke-width="9.8"/>
<path d="M209.7,488.4L211.7,488.4L213.7,488.5L215.7,488.5L217.7,488.5L219.7,488.6L221.7,488.6L223.7,488.7L225.7,488.7L227.7,488.7L229.7,488.8L231.7,488.8L233.7,488.9L235.7,488.9L237.7,488.9L239.7,489.0L241.7,489.0L243.7,489.1L245.7,489.1L247.7,489.1L249.7,489.2L251.7,489.2L253.7,489.3L255.7,489.3L257.7,489.3L259.7,489.4L261.7,489.4L263.7,489.4L265.7,489.5L267.7,489.5L269.7,489.5L271.7,489.6L273.7,489.6L275.7,489.6L277.7,489.6L279.7,489.7L281.7,489.7L283.7,489.7L285.7,489.7L287.7,489.8L289.7,489.8L291.7,489.8L293.7,489.8L295.7,489.8L297.7,489.8L299.7,489.8L301.7,489.8L303.7,489.8L305.7,489.8L307.7,489.8L309.7,489.9L311.7,489.9L313.7,489.9L315.7,489.9L317.7,489.9L319.7,489.9L321.7,489.9L323.7,489.9L325.7,489.9L327.7,489.9L329.7,489.9L331.7,489.9L333.7,489.9L335.7,489.9L337.7,489.9L339.7,489.9L341.7,489.9L343.7,489.9L345.7,489.9L347.7,489.9L349.7,490.0L351.7,490.0L353.7,490.0L355.7,490.0L357.7,490.1L359.7,490.1L361.7,490.2L363.7,490.2L365.7,490.3L367.7,490.3L369.7,490.4L371.7,490.5L373.7,490.7L375.7,490.9L377.7,491.1L379.7,491.6L381.7,492.4L383.7,493.5L385.7,494.9L387.7,496.5L389.7,498.4L391.7,500.5L393.7,502.7L395.7,505.0L397.7,507.3L399.7,509.5L401.7,511.6L403.7,513.7L405.7,515.7L407.7,517.7L409.7,519.7L411.7,521.7L413.7,523.7L415.7,525.7L417.7,527.7L419.7,529.7L421.7,531.7L423.7,533.7L425.7,535.7L427.7,537.7L429.7,539.7L431.7,541.7L433.7,543.7L435.7,545.7L437.7,547.7L439.7,549.7L441.7,551.7L443.7,553.7L445.7,555.7L447.7,557.7L449.7,559.6L451.7,561.5L453.7,563.4L455.7,565.3L457.7,567.1L459.7,568.9L461.7,570.7L463.7,572.4L465.7,574.0L467.7,575.6L469.7,577.2L471.7,578.7L473.7,580.1L475.7,581.5L477.7,582.9L479.7,584.2L481.7,585.4L483.7,586.6L485.7,587.8L487.7,588.9L489.7,589.9L491.7,590.9L493.7,591.9L495.7,592.8L497.7,593.7L499.7,594.6L501.7,595.4L503.7,596.2L505.7,596.9L507.7,597.6L509.7,598.3L511.7,598.9L513.7,599.5L515.7,600.0L517.7,600.5L519.7,601.0L521.7,601.4L523.7,601.8L525.7,602.1L527.7,602.3L529.7,602.6L531.7,602.7L533.7,602.8L535.7,602.9L537.7,602.9L539.7,602.9L541.7,602.8L543.7,602.7L545.7,602.5L547.7,602.4L549.7,602.2L551.7,602.0L553.7,601.8L555.7,601.6L557.7,601.4L559.7,601.1L561.7,600.8L563.7,600.6L565.7,600.3L567.7,600.0L569.7,599.8L571.7,599.5L573.7,599.3L575.7,599.0L577.7,598.8L579.7,598.5L581.7,598.3L583.7,598.0L585.7,597.7L587.7,597.4L589.7,597.2L591.7,596.9L593.7,596.5L595.7,596.2L597.7,595.9L599.7,595.5L601.7,595.1L603.7,594.8L605.7,594.4L607.7,594.0L609.7,593.6L611.7,593.1L613.7,592.7L615.7,592.3L617.7,591.8L619.7,591.3L621.7,590.8L623.7,590.3L625.7,589.8L627.7,589.3L629.7,588.8L631.7,588.2L633.7,587.6L635.7,586.9L637.7,586.3L639.7,585.6L641.7,584.9L643.7,584.1L645.7,583.3L647.7,582.6L649.7,581.8L651.7,581.0L653.7,580.3L655.7,579.6L657.7,578.9L659.7,578.2L661.7,577.6L663.7,577.0L665.7,576.5L667.7,576.0L669.7,575.5L671.7,575.2L673.7,574.8L675.7,574.5L677.7,574.2L679.7,573.9L681.7,573.7L683.7,573.4L685.7,573.2L687.7,573.0L689.7,572.7L691.7,572.5L693.7,572.2L695.7,571.9L697.7,571.6L699.7,571.3L701.7,570.9L703.7,570.4L705.7,569.9L707.7,569.3L709.7,568.6L711.7,567.9L713.7,567.3L715.7,566.6L717.7,566.0L719.7,565.4L721.7,564.8L723.7,564.2L725.7,563.7L727.7,563.2L729.7,562.8L731.7,562.6L733.7,562.4L735.7,562.4L737.7,562.5L739.7,562.6L741.7,562.9L743.7,563.2L745.7,563.6L747.7,564.1L749.7,564.8L751.7,565.8L753.7,567.1L755.7,568.9L757.7,570.8L759.7,572.6L761.7,574.6L763.7,575.7L765.7,576.2L767.7,576.3L769.7,576.4L771.7,576.6L773.7,577.2L775.7,578.2L777.7,579.4L779.7,580.7L781.7,581.8L783.7,582.2L785.7,581.9L787.7,580.7L789.7,579.1L791.7,577.3L793.7,575.4L795.7,573.3L797.7,571.4L799.7,569.8L801.7,568.6L803.7,567.6L805.7,566.8L807.7,566.0L809.7,565.4L811.7,564.9L813.7,564.6L815.7,564.2L817.7,563.3L819.7,562.0L821.7,560.9L823.7,560.4L825.7,560.5L827.7,560.9L829.7,561.2L831.7,561.2L833.7,560.4L835.7,558.7L837.7,556.5L839.7,553.7L841.7,551.2L843.7,549.3L845.7,547.8L847.7,546.6L849.7,545.6L851.7,544.6L853.7,543.8L855.7,542.9L857.7,542.1L859.7,541.5L861.7,540.9L863.7,540.4L865.7,539.9L867.7,539.4L869.7,538.9L871.7,538.5L873.7,538.1L875.7,537.7L877.7,537.2L879.7,536.8L881.7,536.4L883.7,536.0L885.7,535.6L887.7,535.2L889.7,534.9L891.7,534.5L893.7,534.1L895.7,533.7L897.7,533.4L899.7,533.0L901.7,532.7L903.7,532.3L905.7,532.0L907.7,531.7L909.7,531.3L911.7,531.0L913.7,530.7L915.7,530.4L917.7,530.1L919.7,529.8L921.7,529.5L923.7,529.2L925.7,528.9L927.7,528.7L929.7,528.4L931.7,528.2L933.7,528.0L935.7,527.8L937.7,527.6L939.7,527.4L941.7,527.3L943.7,527.2L945.7,527.0L947.7,526.9L949.7,526.8L951.7,526.7L953.7,526.6L955.7,526.5L957.7,526.4L959.7,526.2L961.7,526.1L963.7,525.9L965.7,525.7L967.7,525.5L969.7,525.3L971.7,525.1L973.7,524.9L975.7,524.6L977.7,524.4L979.7,524.1L981.7,523.9L983.7,523.6L985.7,523.3L987.7,523.0L989.7,522.8L991.7,522.5L993.7,522.2L995.7,521.9L997.7,521.6L999.7,521.4L1001.7,521.1L1003.7,520.8L1005.7,520.5L1007.7,520.2L1009.7,519.9L1011.7,519.6L1013.7,519.4L1015.7,519.1L1017.7,518.8L1019.7,518.5L1021.7,518.2L1023.7,517.8L1025.7,517.5L1027.7,517.2L1029.7,516.9L1031.7,516.6L1033.7,516.2L1035.7,515.9L1037.7,515.5L1039.7,515.2L1041.7,514.8L1043.7,514.4L1045.7,514.1L1047.7,513.7L1049.7,513.3L1051.7,512.9L1053.7,512.5L1055.7,512.2L1057.7,511.8L1059.7,511.5L1061.7,511.1L1063.7,510.8L1065.7,510.5L1067.7,510.2L1069.7,509.9L1071.7,509.6L1073.7,509.3L1075.7,509.1L1077.7,508.9L1079.7,508.6L1081.7,508.4L1083.7,508.3L1085.7,508.2L1087.7,508.2L1089.7,508.4L1091.7,508.9L1093.7,509.6L1095.7,510.0L1097.7,509.6L1099.7,508.6L1101.7,507.7L1103.7,507.0L1105.7,506.5L1107.7,506.2L1109.7,505.8L1111.7,505.5L1113.7,505.2L1115.7,505.0L1117.7,504.7L1119.7,504.5L1121.7,504.2L1123.7,504.0L1125.7,503.8L1127.7,503.6L1129.7,503.4L1131.7,503.2L1133.7,503.0L1135.7,502.8L1137.7,502.7L1139.7,502.5L1141.7,502.4L1143.7,502.2L1145.7,502.1L1147.7,502.0L1149.7,501.9L1151.7,501.8L1153.7,501.7L1155.7,501.6L1157.7,501.5L1159.7,501.5L1161.7,501.4L1163.7,501.4L1165.7,501.4L1167.7,501.4L1169.7,501.5L1171.7,501.6L1173.7,501.7L1175.7,501.8L1177.7,501.9L1179.7,502.1L1181.7,502.2L1183.7,502.4L1185.7,502.5L1187.7,502.6L1189.7,502.7L1191.7,502.8L1193.7,502.9L1195.7,503.0L1197.7,503.0L1199.7,503.0L1201.7,503.0L1203.7,503.0L1205.7,503.0L1207.7,503.0L1209.7,502.9L1211.7,502.9L1213.7,502.8L1215.7,502.7L1217.7,502.7L1219.7,502.6L1221.7,502.5L1223.7,502.4L1225.7,502.4L1227.7,502.3L1229.7,502.2L1231.7,502.1L1233.7,502.0L1235.7,502.0L1237.7,501.9L1239.7,501.8L1241.7,501.7L1243.7,501.6L1245.7,501.6L1247.7,501.5L1249.7,501.4L1251.7,501.3L1253.7,501.3L1255.7,501.2L1257.7,501.1L1259.7,501.0L1261.7,501.0L1263.7,500.9L1265.7,500.8L1267.7,500.7L1269.7,500.7L1271.7,500.6L1273.7,500.5L1275.7,500.4L1277.7,500.4L1279.7,500.3L1281.7,500.2L1283.7,500.2L1285.7,500.1L1287.7,500.0L1289.7,500.0L1291.7,499.9L1293.7,499.9L1295.7,499.8L1297.7,499.8L1299.7,499.7L1301.7,499.7L1303.7,499.7L1305.7,499.6L1307.7,499.6L1309.7,499.5L1311.7,499.5L1313.7,499.5L1315.7,499.4L1317.7,499.4L1319.7,499.4L1321.7,499.3L1323.7,499.3L1325.7,499.3L1327.7,499.3L1329.7,499.2L1331.7,499.2L1333.7,499.2L1335.7,499.1L1337.7,499.1L1339.7,499.1L1341.7,499.1L1343.7,499.1L1345.7,499.0L1347.7,499.0L1349.7,499.0L1351.7,499.0L1353.7,499.0L1355.7,499.0L1357.7,499.0L1359.7,499.0L1361.7,499.0L1363.7,499.0L1365.7,499.1L1367.7,499.1L1369.7,499.2L1371.7,499.2L1373.7,499.4L1375.7,499.6L1377.7,499.9L1379.7,500.3L1381.7,500.9L1383.7,501.6L1385.7,502.3L1387.7,503.2L1389.7,504.1L1391.7,505.2L1393.7,506.4L1395.7,507.6L1397.7,508.9L1399.7,510.4L1401.7,512.0L1403.7,513.8L1405.7,515.7L1407.7,517.7L1409.7,519.7L1411.7,521.8L1413.7,524.0L1415.7,526.3L1417.7,528.7L1419.7,531.4L1421.7,534.5L1423.7,538.1L1425.7,542.0L1427.7,545.9L1429.7,549.7L1431.7,553.3L1433.7,557.0L1435.7,560.5L1437.7,563.6L1439.7,566.3L1441.7,568.5L1443.7,570.4L1445.7,572.1L1447.7,573.7L1449.7,575.3L1451.7,576.9L1453.7,578.5L1455.7,580.1L1457.7,581.7L1459.7,583.3L1461.7,585.0L1463.7,587.2L1465.7,590.2L1467.7,593.4L1469.7,596.2L1471.7,598.4L1473.7,600.0L1475.7,601.0L1477.7,601.2L1479.7,600.7L1481.7,600.0L1483.7,599.6L1485.7,600.0L1487.7,600.9L1489.7,602.2L1491.7,603.6L1493.7,605.2L1495.7,607.0L1497.7,609.0L1499.7,610.9L1501.7,612.6L1503.7,614.2L1505.7,614.6L1507.7,612.8L1509.7,609.7L1511.7,606.4L1513.7,603.6L1515.7,601.3L1517.7,599.0L1519.7,596.7L1521.7,594.4L1523.7,591.9L1525.7,589.1L1527.7,586.2L1529.7,583.3L1531.7,580.7L1533.7,578.2L1535.7,576.1L1537.7,574.9L1539.7,575.2L1541.7,577.6L1543.7,582.8L1545.7,591.1L1547.7,598.6L1549.7,602.7L1551.7,603.2L1553.7,600.9L1555.7,596.1L1557.7,589.5L1559.7,582.3L1561.7,575.3L1563.7,569.7L1565.7,567.3L1567.7,568.0L1569.7,572.1L1571.7,580.5L1573.7,589.9L1575.7,596.0L1577.7,598.1L1579.7,598.1L1581.7,597.1L1583.7,594.7L1585.7,590.4L1587.7,587.2L1589.7,586.5L1591.7,589.0L1593.7,593.7L1595.7,599.1L1597.7,603.0L1599.7,603.6L1601.7,602.2L1603.7,600.1L1605.7,597.2L1607.7,594.8L1609.7,593.2L1611.7,591.9L1613.7,590.7L1615.7,589.8L1617.7,589.1L1619.7,588.5L1621.7,588.0L1623.7,587.6L1625.7,587.0L1627.7,586.5L1629.7,585.8L1631.7,585.2L1633.7,584.5L1635.7,583.9L1637.7,583.4L1639.7,582.9L1641.7,582.7L1643.7,582.7L1645.7,582.7L1647.7,582.7L1649.7,582.3L1651.7,581.5L1653.7,580.3L1655.7,579.0L1657.7,577.8L1659.7,577.1L1661.7,577.2L1663.7,578.3L1665.7,580.2L1667.7,582.8L1669.7,585.9L1671.7,589.4L1673.7,592.7L1675.7,595.6L1677.7,598.3L1679.7,600.3L1681.7,601.1L1683.7,600.8L1685.7,599.9L1687.7,598.7L1689.7,597.6L1691.7,597.0L1693.7,597.0L1695.7,597.4L1697.7,598.1L1699.7,598.9L1701.7,599.7L1703.7,600.6L1705.7,601.5L1707.7,602.1L1709.7,602.2L1711.7,601.8L1713.7,601.3L1715.7,601.2L1717.7,601.9L1719.7,603.6L1721.7,605.9L1723.7,608.6L1725.7,611.4L1727.7,614.4L1729.7,617.5L1731.7,620.6L1733.7,623.6L1735.7,626.8L1737.7,630.0L1739.7,633.1L1741.7,635.6L1743.7,637.2L1745.7,637.8L1747.7,637.8L1749.7,637.4L1751.7,637.0L1753.7,637.1L1755.7,637.9L1757.7,639.0L1759.7,639.4L1761.7,638.8L1763.7,636.5L1765.7,632.0L1767.7,625.4L1769.7,618.4L1771.7,612.7L1773.7,608.8L1775.7,606.0L1777.7,603.5L1779.7,600.8L1781.7,598.1L1783.7,595.6L1785.7,593.2L1787.7,591.0L1789.7,589.0L1791.7,587.6L1793.7,587.0L1795.7,587.4L1797.7,588.2L1799.7,589.0L1801.7,589.6L1803.7,590.0L1805.7,590.0L1807.7,589.1L1809.7,587.1L1811.7,584.0L1813.7,580.2L1815.7,575.5L1817.7,569.7L1819.7,563.9L1821.7,559.4L1823.7,556.2L1825.7,553.9L1827.7,551.8L1829.7,549.7L1831.7,547.5L1833.7,545.4L1835.7,543.2L1837.7,541.1L1839.7,539.1L1841.7,537.0L1843.7,534.9L1845.7,532.8L1847.7,530.9L1849.7,529.1L1851.7,527.5L1853.7,526.0L1855.7,524.6L1857.7,523.4L1859.7,522.4L1861.7,521.6L1863.7,521.0L1865.7,520.5L1867.7,520.1L1869.7,519.7L1871.7,519.2L1873.7,518.8L1875.7,518.4L1877.7,518.1L1879.7,518.1L1881.7,518.2L1883.7,518.6L1885.7,519.1L1887.7,519.7L1889.7,520.4L1891.7,521.1L1893.7,522.0L1895.7,522.9L1897.7,523.8L1899.7,524.7L1901.7,525.7L1903.7,526.7L1905.7,527.7L1907.7,528.6L1909.7,529.3L1911.7,529.7L1913.7,529.8L1915.7,529.6L1917.7,529.2L1919.7,528.6L1921.7,527.8L1923.7,526.9L1925.7,525.7L1927.7,524.4L1929.7,523.2L1931.7,522.2L1933.7,521.4L1935.7,520.8L1937.7,520.5L1939.7,520.4L1941.7,520.2L1943.7,520.1L1945.7,520.1L1947.7,520.0L1949.7,519.9L1951.7,519.9L1953.7,519.8L1955.7,519.8L1957.7,519.8L1959.7,519.8L1961.7,519.7L1963.7,519.7L1965.7,519.7L1967.7,519.7L1969.7,519.7L1971.7,519.8L1973.7,519.8L1975.7,519.9L1977.7,520.0L1979.7,520.1L1981.7,520.3L1983.7,520.4L1985.7,520.6L1987.7,520.8L1989.7,521.0L1991.7,521.2L1993.7,521.4L1995.7,521.7L1997.7,522.0L1999.7,522.4L2001.7,522.9L2003.7,523.5L2005.7,524.3L2007.7,525.3L2009.7,526.5L2011.7,528.0L2013.7,530.2L2015.7,534.2L2017.7,541.7L2019.7,547.1L2021.7,548.7L2023.7,550.2L2025.7,553.1L2027.7,555.2L2029.7,554.2L2031.7,550.3L2033.7,542.2L2035.7,533.4L2037.7,529.2L2039.7,527.6L2041.7,526.8L2043.7,526.1L2045.7,525.6L2047.7,525.3L2049.7,524.9L2051.7,524.6L2053.7,524.3L2055.7,523.8L2057.7,523.2L2059.7,522.6L2061.7,522.0L2063.7,521.3L2065.7,520.6L2067.7,519.9L2069.7,519.1L2071.7,518.4L2073.7,517.7L2075.7,517.0L2077.7,516.2L2079.7,515.4L2081.7,514.6L2083.7,513.9L2085.7,513.2L2087.7,512.6L2089.7,512.0L2091.7,511.6L2093.7,511.1L2095.7,510.7L2096.7,510.5" stroke="#0A8CC8" stroke-width="9.8"/>
<path d="M209.7,338.3L211.7,338.3L213.7,338.3L215.7,338.3L217.7,338.3L219.7,338.4L221.7,338.4L223.7,338.4L225.7,338.4L227.7,338.4L229.7,338.5L231.7,338.5L233.7,338.5L235.7,338.5L237.7,338.5L239.7,338.6L241.7,338.6L243.7,338.6L245.7,338.6L247.7,338.6L249.7,338.6L251.7,338.7L253.7,338.7L255.7,338.7L257.7,338.7L259.7,338.7L261.7,338.8L263.7,338.8L265.7,338.8L267.7,338.8L269.7,338.8L271.7,338.8L273.7,338.9L275.7,338.9L277.7,338.9L279.7,338.9L281.7,338.9L283.7,338.9L285.7,338.9L287.7,338.9L289.7,338.9L291.7,338.9L293.7,338.9L295.7,339.0L297.7,339.0L299.7,338.9L301.7,338.9L303.7,338.9L305.7,338.9L307.7,338.9L309.7,338.9L311.7,338.9L313.7,338.9L315.7,338.9L317.7,338.9L319.7,338.9L321.7,338.9L323.7,338.9L325.7,338.9L327.7,338.9L329.7,338.9L331.7,338.9L333.7,338.9L335.7,338.9L337.7,338.9L339.7,338.9L341.7,338.9L343.7,338.9L345.7,338.9L347.7,338.9L349.7,338.9L351.7,338.9L353.7,338.9L355.7,339.0L357.7,339.0L359.7,339.0L361.7,339.1L363.7,339.1L365.7,339.2L367.7,339.2L369.7,339.3L371.7,339.4L373.7,339.4L375.7,339.5L377.7,339.7L379.7,339.9L381.7,340.3L383.7,340.8L385.7,341.6L387.7,342.6L389.7,343.8L391.7,345.2L393.7,346.7L395.7,348.4L397.7,350.2L399.7,352.1L401.7,354.0L403.7,355.9L405.7,357.8L407.7,359.6L409.7,361.4L411.7,363.1L413.7,364.7L415.7,366.3L417.7,367.8L419.7,369.3L421.7,370.8L423.7,372.4L425.7,373.9L427.7,375.5L429.7,377.1L431.7,378.9L433.7,380.6L435.7,382.5L437.7,384.5L439.7,386.5L441.7,388.7L443.7,390.8L445.7,392.9L447.7,395.1L449.7,397.2L451.7,399.2L453.7,401.3L455.7,403.3L457.7,405.3L459.7,407.2L461.7,409.0L463.7,410.8L465.7,412.5L467.7,414.0L469.7,415.5L471.7,416.8L473.7,418.1L475.7,419.2L477.7,420.4L479.7,421.4L481.7,422.5L483.7,423.4L485.7,424.4L487.7,425.3L489.7,426.1L491.7,426.9L493.7,427.7L495.7,428.4L497.7,429.1L499.7,429.8L501.7,430.5L503.7,431.1L505.7,431.7L507.7,432.3L509.7,432.8L511.7,433.3L513.7,433.8L515.7,434.3L517.7,434.7L519.7,435.1L521.7,435.5L523.7,435.9L525.7,436.2L527.7,436.5L529.7,436.7L531.7,437.0L533.7,437.2L535.7,437.3L537.7,437.5L539.7,437.6L541.7,437.6L543.7,437.7L545.7,437.7L547.7,437.8L549.7,437.8L551.7,437.8L553.7,437.7L555.7,437.7L557.7,437.6L559.7,437.5L561.7,437.4L563.7,437.3L565.7,437.1L567.7,436.9L569.7,436.7L571.7,436.5L573.7,436.2L575.7,435.9L577.7,435.6L579.7,435.3L581.7,435.0L583.7,434.7L585.7,434.3L587.7,434.0L589.7,433.6L591.7,433.2L593.7,432.8L595.7,432.4L597.7,431.9L599.7,431.4L601.7,430.8L603.7,430.3L605.7,429.7L607.7,429.1L609.7,428.5L611.7,427.9L613.7,427.3L615.7,426.7L617.7,426.0L619.7,425.4L621.7,424.8L623.7,424.2L625.7,423.6L627.7,423.0L629.7,422.4L631.7,421.8L633.7,421.2L635.7,420.6L637.7,420.0L639.7,419.4L641.7,418.8L643.7,418.2L645.7,417.6L647.7,417.0L649.7,416.4L651.7,415.8L653.7,415.3L655.7,414.7L657.7,414.2L659.7,413.7L661.7,413.2L663.7,412.7L665.7,412.3L667.7,411.9L669.7,411.5L671.7,411.1L673.7,410.8L675.7,410.5L677.7,410.2L679.7,409.9L681.7,409.6L683.7,409.4L685.7,409.1L687.7,408.8L689.7,408.6L691.7,408.3L693.7,408.1L695.7,407.8L697.7,407.5L699.7,407.2L701.7,406.9L703.7,406.5L705.7,406.1L707.7,405.7L709.7,405.2L711.7,404.8L713.7,404.4L715.7,404.0L717.7,403.7L719.7,403.4L721.7,403.2L723.7,402.9L725.7,402.7L727.7,402.6L729.7,402.5L731.7,402.5L733.7,402.7L735.7,402.9L737.7,403.2L739.7,403.7L741.7,404.1L743.7,404.7L745.7,405.2L747.7,405.8L749.7,406.5L751.7,407.2L753.7,408.2L755.7,409.5L757.7,411.1L759.7,413.0L761.7,415.1L763.7,417.2L765.7,419.1L767.7,420.7L769.7,422.1L771.7,423.4L773.7,424.6L775.7,425.8L777.7,427.0L779.7,428.1L781.7,429.1L783.7,430.1L785.7,430.9L787.7,431.4L789.7,431.6L791.7,431.6L793.7,430.7L795.7,427.9L797.7,422.5L799.7,417.2L801.7,413.6L803.7,411.0L805.7,409.0L807.7,407.4L809.7,406.2L811.7,405.2L813.7,404.3L815.7,403.5L817.7,402.5L819.7,401.8L821.7,401.7L823.7,402.5L825.7,404.2L827.7,406.8L829.7,409.2L831.7,407.0L833.7,401.4L835.7,396.4L837.7,392.2L839.7,388.6L841.7,385.7L843.7,383.4L845.7,381.7L847.7,380.4L849.7,379.3L851.7,378.3L853.7,377.5L855.7,376.7L857.7,376.0L859.7,375.3L861.7,374.7L863.7,374.1L865.7,373.5L867.7,372.9L869.7,372.4L871.7,371.9L873.7,371.5L875.7,371.1L877.7,370.8L879.7,370.4L881.7,370.1L883.7,369.8L885.7,369.5L887.7,369.2L889.7,369.0L891.7,368.7L893.7,368.4L895.7,368.2L897.7,367.9L899.7,367.6L901.7,367.4L903.7,367.2L905.7,366.9L907.7,366.7L909.7,366.5L911.7,366.3L913.7,366.1L915.7,366.0L917.7,365.8L919.7,365.7L921.7,365.6L923.7,365.5L925.7,365.4L927.7,365.4L929.7,365.3L931.7,365.3L933.7,365.2L935.7,365.2L937.7,365.2L939.7,365.1L941.7,365.1L943.7,365.1L945.7,365.0L947.7,365.0L949.7,364.9L951.7,364.9L953.7,364.8L955.7,364.7L957.7,364.7L959.7,364.6L961.7,364.4L963.7,364.2L965.7,364.0L967.7,363.7L969.7,363.4L971.7,363.1L973.7,362.8L975.7,362.5L977.7,362.2L979.7,361.8L981.7,361.5L983.7,361.1L985.7,360.8L987.7,360.4L989.7,360.1L991.7,359.7L993.7,359.3L995.7,359.0L997.7,358.6L999.7,358.2L1001.7,357.9L1003.7,357.5L1005.7,357.1L1007.7,356.7L1009.7,356.3L1011.7,355.9L1013.7,355.5L1015.7,355.1L1017.7,354.7L1019.7,354.3L1021.7,353.9L1023.7,353.5L1025.7,353.1L1027.7,352.6L1029.7,352.2L1031.7,351.8L1033.7,351.4L1035.7,351.0L1037.7,350.6L1039.7,350.2L1041.7,349.8L1043.7,349.4L1045.7,349.0L1047.7,348.5L1049.7,348.1L1051.7,347.7L1053.7,347.3L1055.7,346.9L1057.7,346.5L1059.7,346.1L1061.7,345.7L1063.7,345.4L1065.7,345.0L1067.7,344.7L1069.7,344.5L1071.7,344.3L1073.7,344.2L1075.7,344.1L1077.7,344.3L1079.7,344.6L1081.7,345.1L1083.7,345.7L1085.7,345.9L1087.7,345.4L1089.7,344.4L1091.7,343.3L1093.7,342.6L1095.7,342.6L1097.7,343.2L1099.7,343.9L1101.7,344.1L1103.7,343.7L1105.7,343.0L1107.7,342.2L1109.7,341.7L1111.7,341.3L1113.7,341.0L1115.7,340.7L1117.7,340.5L1119.7,340.3L1121.7,340.1L1123.7,339.9L1125.7,339.8L1127.7,339.6L1129.7,339.5L1131.7,339.4L1133.7,339.2L1135.7,339.1L1137.7,339.0L1139.7,338.9L1141.7,338.9L1143.7,338.8L1145.7,338.7L1147.7,338.7L1149.7,338.6L1151.7,338.6L1153.7,338.5L1155.7,338.5L1157.7,338.4L1159.7,338.4L1161.7,338.4L1163.7,338.3L1165.7,338.3L1167.7,338.3L1169.7,338.2L1171.7,338.2L1173.7,338.2L1175.7,338.2L1177.7,338.3L1179.7,338.3L1181.7,338.3L1183.7,338.3L1185.7,338.3L1187.7,338.3L1189.7,338.3L1191.7,338.3L1193.7,338.3L1195.7,338.3L1197.7,338.3L1199.7,338.3L1201.7,338.3L1203.7,338.3L1205.7,338.3L1207.7,338.2L1209.7,338.2L1211.7,338.2L1213.7,338.2L1215.7,338.2L1217.7,338.2L1219.7,338.2L1221.7,338.2L1223.7,338.2L1225.7,338.1L1227.7,338.1L1229.7,338.1L1231.7,338.1L1233.7,338.1L1235.7,338.1L1237.7,338.1L1239.7,338.1L1241.7,338.0L1243.7,338.0L1245.7,338.0L1247.7,338.0L1249.7,338.0L1251.7,338.0L1253.7,338.0L1255.7,338.0L1257.7,337.9L1259.7,337.9L1261.7,337.9L1263.7,337.9L1265.7,337.9L1267.7,337.9L1269.7,337.9L1271.7,337.9L1273.7,337.8L1275.7,337.8L1277.7,337.8L1279.7,337.8L1281.7,337.8L1283.7,337.8L1285.7,337.7L1287.7,337.7L1289.7,337.7L1291.7,337.7L1293.7,337.7L1295.7,337.7L1297.7,337.6L1299.7,337.6L1301.7,337.6L1303.7,337.6L1305.7,337.5L1307.7,337.5L1309.7,337.5L1311.7,337.5L1313.7,337.4L1315.7,337.4L1317.7,337.4L1319.7,337.3L1321.7,337.3L1323.7,337.3L1325.7,337.2L1327.7,337.2L1329.7,337.1L1331.7,337.1L1333.7,337.1L1335.7,337.0L1337.7,337.0L1339.7,336.9L1341.7,336.9L1343.7,336.9L1345.7,336.8L1347.7,336.8L1349.7,336.8L1351.7,336.7L1353.7,336.7L1355.7,336.7L1357.7,336.6L1359.7,336.6L1361.7,336.6L1363.7,336.6L1365.7,336.6L1367.7,336.6L1369.7,336.7L1371.7,336.7L1373.7,336.8L1375.7,336.9L1377.7,337.1L1379.7,337.5L1381.7,337.9L1383.7,338.5L1385.7,339.1L1387.7,339.9L1389.7,341.0L1391.7,342.3L1393.7,343.8L1395.7,345.4L1397.7,347.3L1399.7,349.4L1401.7,351.6L1403.7,354.1L1405.7,356.7L1407.7,359.6L1409.7,362.6L1411.7,365.9L1413.7,369.5L1415.7,373.3L1417.7,377.6L1419.7,382.3L1421.7,387.6L1423.7,393.7L1425.7,400.3L1427.7,407.0L1429.7,413.1L1431.7,418.6L1433.7,423.3L1435.7,427.0L1437.7,429.8L1439.7,431.9L1441.7,433.4L1443.7,434.4L1445.7,434.9L1447.7,434.8L1449.7,434.3L1451.7,433.6L1453.7,432.9L1455.7,432.1L1457.7,431.2L1459.7,430.6L1461.7,430.7L1463.7,431.9L1465.7,433.9L1467.7,436.2L1469.7,439.2L1471.7,442.1L1473.7,442.6L1475.7,441.0L1477.7,438.6L1479.7,436.5L1481.7,434.9L1483.7,433.6L1485.7,432.7L1487.7,432.5L1489.7,432.8L1491.7,433.4L1493.7,434.2L1495.7,435.1L1497.7,436.2L1499.7,437.2L1501.7,438.0L1503.7,438.2L1505.7,437.0L1507.7,433.0L1509.7,425.8L1511.7,416.7L1513.7,407.1L1515.7,399.5L1517.7,393.4L1519.7,388.2L1521.7,384.3L1523.7,381.7L1525.7,380.1L1527.7,379.3L1529.7,379.2L1531.7,379.7L1533.7,380.9L1535.7,382.8L1537.7,385.6L1539.7,390.4L1541.7,398.9L1543.7,411.0L1545.7,424.9L1547.7,438.0L1549.7,445.5L1551.7,447.7L1553.7,445.1L1555.7,438.2L1557.7,428.8L1559.7,418.8L1561.7,408.4L1563.7,400.1L1565.7,396.8L1567.7,397.6L1569.7,402.2L1571.7,412.1L1573.7,423.9L1575.7,432.9L1577.7,436.5L1579.7,435.4L1581.7,431.6L1583.7,425.7L1585.7,419.6L1587.7,415.4L1589.7,413.7L1591.7,416.6L1593.7,421.9L1595.7,426.5L1597.7,429.3L1599.7,428.9L1601.7,425.4L1603.7,417.7L1605.7,408.7L1607.7,403.3L1609.7,400.5L1611.7,399.0L1613.7,398.8L1615.7,399.7L1617.7,401.6L1619.7,404.3L1621.7,406.9L1623.7,409.1L1625.7,411.1L1627.7,412.8L1629.7,414.1L1631.7,415.0L1633.7,415.5L1635.7,415.7L1637.7,415.8L1639.7,415.9L1641.7,415.9L1643.7,415.8L1645.7,415.7L1647.7,415.4L1649.7,414.9L1651.7,414.1L1653.7,413.0L1655.7,412.0L1657.7,411.6L1659.7,412.1L1661.7,413.7L1663.7,416.2L1665.7,419.6L1667.7,423.8L1669.7,428.4L1671.7,433.1L1673.7,437.2L1675.7,441.1L1677.7,444.2L1679.7,446.1L1681.7,446.8L1683.7,446.7L1685.7,446.3L1687.7,445.9L1689.7,445.9L1691.7,446.4L1693.7,447.3L1695.7,448.5L1697.7,449.5L1699.7,450.4L1701.7,451.2L1703.7,451.9L1705.7,452.3L1707.7,452.3L1709.7,451.8L1711.7,451.1L1713.7,450.3L1715.7,449.4L1717.7,448.4L1719.7,448.2L1721.7,449.0L1723.7,450.2L1725.7,451.7L1727.7,453.4L1729.7,455.1L1731.7,457.1L1733.7,459.1L1735.7,461.1L1737.7,463.0L1739.7,464.6L1741.7,465.7L1743.7,466.3L1745.7,466.6L1747.7,467.0L1749.7,467.6L1751.7,468.4L1753.7,469.3L1755.7,470.4L1757.7,471.8L1759.7,472.3L1761.7,471.0L1763.7,467.6L1765.7,460.2L1767.7,448.5L1769.7,437.6L1771.7,429.9L1773.7,423.8L1775.7,418.5L1777.7,413.9L1779.7,410.1L1781.7,406.9L1783.7,404.2L1785.7,401.9L1787.7,400.2L1789.7,399.3L1791.7,399.4L1793.7,400.2L1795.7,401.2L1797.7,402.3L1799.7,403.4L1801.7,404.7L1803.7,405.9L1805.7,407.1L1807.7,408.3L1809.7,407.9L1811.7,404.7L1813.7,399.6L1815.7,393.5L1817.7,386.5L1819.7,379.8L1821.7,374.6L1823.7,370.9L1825.7,368.1L1827.7,365.7L1829.7,363.3L1831.7,360.8L1833.7,358.4L1835.7,356.0L1837.7,353.8L1839.7,351.7L1841.7,349.6L1843.7,347.6L1845.7,345.7L1847.7,344.1L1849.7,342.7L1851.7,341.6L1853.7,340.8L1855.7,340.2L1857.7,339.7L1859.7,339.3L1861.7,339.0L1863.7,338.8L1865.7,338.6L1867.7,338.5L1869.7,338.3L1871.7,337.9L1873.7,337.4L1875.7,336.9L1877.7,336.6L1879.7,336.7L1881.7,337.0L1883.7,337.6L1885.7,338.4L1887.7,339.5L1889.7,340.7L1891.7,342.1L1893.7,343.8L1895.7,345.7L1897.7,347.6L1899.7,349.3L1901.7,351.0L1903.7,352.9L1905.7,354.5L1907.7,355.8L1909.7,356.5L1911.7,356.5L1913.7,355.9L1915.7,354.9L1917.7,353.8L1919.7,352.5L1921.7,351.2L1923.7,349.7L1925.7,348.1L1927.7,346.4L1929.7,344.8L1931.7,343.1L1933.7,341.2L1935.7,339.7L1937.7,338.8L1939.7,338.3L1941.7,338.0L1943.7,337.8L1945.7,337.6L1947.7,337.5L1949.7,337.5L1951.7,337.4L1953.7,337.4L1955.7,337.4L1957.7,337.4L1959.7,337.5L1961.7,337.5L1963.7,337.6L1965.7,337.6L1967.7,337.7L1969.7,337.7L1971.7,337.9L1973.7,338.0L1975.7,338.2L1977.7,338.5L1979.7,338.8L1981.7,339.1L1983.7,339.4L1985.7,339.8L1987.7,340.2L1989.7,340.6L1991.7,341.1L1993.7,341.6L1995.7,342.1L1997.7,342.7L1999.7,343.3L2001.7,344.1L2003.7,344.9L2005.7,345.9L2007.7,347.0L2009.7,348.5L2011.7,350.4L2013.7,353.5L2015.7,359.1L2017.7,365.6L2019.7,368.5L2021.7,369.9L2023.7,371.5L2025.7,373.6L2027.7,374.6L2029.7,373.8L2031.7,371.5L2033.7,367.0L2035.7,361.3L2037.7,358.8L2039.7,357.9L2041.7,357.5L2043.7,357.1L2045.7,356.9L2047.7,356.7L2049.7,356.6L2051.7,356.2L2053.7,355.5L2055.7,354.5L2057.7,353.4L2059.7,352.2L2061.7,351.1L2063.7,350.3L2065.7,349.5L2067.7,348.9L2069.7,348.3L2071.7,347.7L2073.7,347.2L2075.7,346.7L2077.7,346.3L2079.7,345.8L2081.7,345.4L2083.7,345.0L2085.7,344.7L2087.7,344.3L2089.7,343.9L2091.7,343.6L2093.7,343.2L2095.7,342.8L2096.7,342.7" stroke="#B15DAE" stroke-width="9.8"/>
</g>
<rect x="1399.1" y="120.5" width="540.5" height="1385.0" fill="#FCDCDF" fill-opacity="0.40"/>
<g stroke="#FF69B0" stroke-width="6.4" stroke-dasharray="26.0 19.92" fill="none" clip-path="url(#ca)">
<line x1="532.6" y1="120.7" x2="532.6" y2="1508.3"/>
<line x1="792.5" y1="120.7" x2="792.5" y2="1508.3"/>
<line x1="831.4" y1="120.7" x2="831.4" y2="1508.3"/>
</g>
<g font-size="92" text-anchor="middle" fill="#000">
<text x="209.9" y="1609.9">4000</text>
<text x="479.2" y="1609.9">3500</text>
<text x="748.5" y="1609.9">3000</text>
<text x="1017.8" y="1609.9">2500</text>
<text x="1287.2" y="1609.9">2000</text>
<text x="1556.5" y="1609.9">1500</text>
<text x="1825.8" y="1609.9">1000</text>
<text x="2095.1" y="1609.9">500</text>
</g>
<text x="676.3" y="1744.2" font-size="116" style="font-kerning:none" fill="#000">Wavenumber (cm<tspan font-size="80" dy="-47">−1</tspan><tspan dy="47">)</tspan></text>
<g font-size="58">
<text transform="translate(229.9,326.9) scale(1,1.05)" fill="#B15DAE">L7</text>
<text transform="translate(229.9,478.3) scale(1,1.05)" fill="#0A8CC8">L6</text>
<text transform="translate(229.9,643.6) scale(1,1.05)" fill="#4050A3">L5</text>
<text transform="translate(229.9,812.7) scale(1,1.05)" fill="#48AAB5">L4</text>
<text transform="translate(229.9,935.9) scale(1,1.05)" fill="#CDE2A5">L3</text>
<text transform="translate(229.9,1102.3) scale(1,1.05)" fill="#FDB062">L2</text>
<text transform="translate(229.9,1210.5) scale(1,1.05)" fill="#E05763">L1</text>
</g>
<text x="21.5" y="104.3" font-size="102" font-weight="bold" letter-spacing="1.5" fill="#000">(a)</text>
<rect x="210.5" y="1918.5" width="1885.3" height="1389.4" fill="none" stroke="#000" stroke-width="5.5"/>
<g stroke="#000" stroke-width="5.5">
<line x1="210.5" y1="3307.9" x2="210.5" y2="3334.4"/>
<line x1="587.6" y1="3307.9" x2="587.6" y2="3334.4"/>
<line x1="964.6" y1="3307.9" x2="964.6" y2="3334.4"/>
<line x1="1341.7" y1="3307.9" x2="1341.7" y2="3334.4"/>
<line x1="1718.7" y1="3307.9" x2="1718.7" y2="3334.4"/>
<line x1="2095.8" y1="3307.9" x2="2095.8" y2="3334.4"/>
</g>
<g clip-path="url(#cb)" fill="none" stroke-linejoin="round" stroke-linecap="butt">
<path d="M209.5,2939.9L211.5,2940.0L213.5,2940.2L215.5,2940.4L217.5,2940.6L219.5,2940.8L221.5,2941.0L223.5,2941.2L225.5,2941.4L227.5,2941.7L229.5,2941.9L231.5,2942.2L233.5,2942.5L235.5,2942.8L237.5,2943.1L239.5,2943.5L241.5,2943.9L243.5,2944.3L245.5,2944.8L247.5,2945.2L249.5,2945.6L251.5,2946.0L253.5,2946.5L255.5,2946.9L257.5,2947.3L259.5,2947.7L261.5,2948.1L263.5,2948.5L265.5,2948.9L267.5,2949.4L269.5,2949.8L271.5,2950.2L273.5,2950.7L275.5,2951.2L277.5,2951.6L279.5,2952.1L281.5,2952.6L283.5,2953.2L285.5,2953.7L287.5,2954.2L289.5,2954.8L291.5,2955.4L293.5,2956.1L295.5,2956.7L297.5,2957.5L299.5,2958.3L301.5,2959.1L303.5,2960.0L305.5,2960.9L307.5,2961.9L309.5,2962.9L311.5,2963.9L313.5,2964.9L315.5,2966.0L317.5,2967.0L319.5,2968.1L321.5,2969.3L323.5,2970.4L325.5,2971.5L327.5,2972.6L329.5,2973.7L331.5,2974.8L333.5,2975.9L335.5,2976.9L337.5,2977.8L339.5,2978.8L341.5,2979.7L343.5,2980.6L345.5,2981.6L347.5,2982.6L349.5,2983.6L351.5,2984.6L353.5,2985.7L355.5,2986.8L357.5,2988.0L359.5,2989.1L361.5,2990.2L363.5,2991.4L365.5,2992.4L367.5,2993.5L369.5,2994.5L371.5,2995.4L373.5,2996.3L375.5,2997.1L377.5,2997.9L379.5,2998.7L381.5,2999.4L383.5,3000.2L385.5,3001.0L387.5,3001.8L389.5,3002.7L391.5,3003.7L393.5,3004.6L395.5,3005.5L397.5,3006.5L399.5,3007.4L401.5,3008.3L403.5,3009.2L405.5,3010.0L407.5,3010.8L409.5,3011.6L411.5,3012.4L413.5,3013.2L415.5,3014.0L417.5,3014.8L419.5,3015.6L421.5,3016.4L423.5,3017.1L425.5,3017.9L427.5,3018.7L429.5,3019.5L431.5,3020.3L433.5,3021.1L435.5,3022.0L437.5,3022.8L439.5,3023.7L441.5,3024.7L443.5,3025.6L445.5,3026.6L447.5,3027.5L449.5,3028.5L451.5,3029.6L453.5,3030.6L455.5,3031.7L457.5,3032.9L459.5,3034.1L461.5,3035.3L463.5,3036.4L465.5,3037.6L467.5,3038.6L469.5,3039.5L471.5,3040.3L473.5,3041.0L475.5,3041.6L477.5,3042.1L479.5,3042.5L481.5,3042.7L483.5,3042.8L485.5,3042.8L487.5,3042.5L489.5,3042.1L491.5,3041.5L493.5,3040.9L495.5,3040.3L497.5,3039.6L499.5,3039.0L501.5,3038.4L503.5,3037.9L505.5,3037.3L507.5,3036.8L509.5,3036.2L511.5,3035.7L513.5,3035.2L515.5,3034.8L517.5,3034.5L519.5,3034.1L521.5,3033.8L523.5,3033.6L525.5,3033.4L527.5,3033.2L529.5,3033.1L531.5,3033.0L533.5,3033.0L535.5,3033.1L537.5,3033.2L539.5,3033.4L541.5,3033.7L543.5,3034.1L545.5,3034.5L547.5,3035.0L549.5,3035.6L551.5,3036.3L553.5,3037.0L555.5,3037.7L557.5,3038.4L559.5,3039.1L561.5,3039.8L563.5,3040.5L565.5,3041.2L567.5,3041.8L569.5,3042.5L571.5,3043.2L573.5,3043.8L575.5,3044.4L577.5,3045.0L579.5,3045.6L581.5,3046.2L583.5,3046.7L585.5,3047.3L587.5,3047.8L589.5,3048.2L591.5,3048.6L593.5,3048.8L595.5,3048.7L597.5,3048.5L599.5,3047.9L601.5,3047.1L603.5,3046.1L605.5,3044.9L607.5,3043.6L609.5,3042.1L611.5,3040.6L613.5,3039.1L615.5,3037.6L617.5,3036.1L619.5,3034.6L621.5,3033.1L623.5,3031.7L625.5,3030.2L627.5,3028.8L629.5,3027.4L631.5,3026.0L633.5,3024.7L635.5,3023.4L637.5,3022.2L639.5,3021.0L641.5,3019.9L643.5,3018.9L645.5,3017.9L647.5,3016.9L649.5,3016.0L651.5,3015.2L653.5,3014.4L655.5,3013.7L657.5,3013.1L659.5,3012.6L661.5,3012.0L663.5,3011.6L665.5,3011.1L667.5,3010.7L669.5,3010.3L671.5,3010.0L673.5,3009.6L675.5,3009.3L677.5,3009.0L679.5,3008.8L681.5,3008.5L683.5,3008.3L685.5,3008.1L687.5,3007.9L689.5,3007.7L691.5,3007.5L693.5,3007.3L695.5,3007.2L697.5,3007.1L699.5,3007.0L701.5,3007.1L703.5,3007.1L705.5,3007.3L707.5,3007.6L709.5,3008.0L711.5,3008.6L713.5,3009.5L715.5,3010.6L717.5,3011.9L719.5,3013.6L721.5,3015.5L723.5,3017.6L725.5,3020.1L727.5,3022.9L729.5,3025.9L731.5,3029.1L733.5,3032.2L735.5,3035.0L737.5,3037.4L739.5,3039.5L741.5,3041.4L743.5,3042.9L745.5,3044.3L747.5,3045.3L749.5,3046.2L751.5,3046.7L753.5,3047.0L755.5,3047.0L757.5,3046.7L759.5,3046.2L761.5,3045.4L763.5,3044.4L765.5,3043.2L767.5,3041.8L769.5,3040.2L771.5,3038.5L773.5,3036.7L775.5,3034.6L777.5,3032.4L779.5,3030.1L781.5,3027.6L783.5,3025.1L785.5,3022.6L787.5,3020.2L789.5,3017.8L791.5,3015.4L793.5,3013.1L795.5,3010.9L797.5,3008.9L799.5,3007.0L801.5,3005.4L803.5,3004.1L805.5,3003.1L807.5,3002.5L809.5,3002.4L811.5,3002.8L813.5,3003.9L815.5,3005.8L817.5,3008.7L819.5,3012.3L821.5,3016.4L823.5,3020.5L825.5,3024.5L827.5,3028.1L829.5,3031.2L831.5,3033.9L833.5,3036.1L835.5,3037.9L837.5,3039.4L839.5,3040.4L841.5,3041.2L843.5,3041.8L845.5,3042.0L847.5,3042.0L849.5,3041.7L851.5,3041.1L853.5,3040.3L855.5,3039.4L857.5,3038.3L859.5,3037.1L861.5,3035.8L863.5,3034.4L865.5,3033.0L867.5,3031.5L869.5,3030.0L871.5,3028.5L873.5,3026.9L875.5,3025.3L877.5,3023.7L879.5,3022.1L881.5,3020.5L883.5,3019.0L885.5,3018.0L887.5,3017.3L889.5,3017.1L891.5,3017.5L893.5,3018.3L895.5,3019.5L897.5,3020.9L899.5,3022.4L901.5,3024.0L903.5,3025.6L905.5,3027.3L907.5,3028.9L909.5,3030.6L911.5,3032.2L913.5,3033.7L915.5,3035.0L917.5,3036.0L919.5,3036.9L921.5,3037.4L923.5,3037.5L925.5,3037.0L927.5,3036.0L929.5,3034.5L931.5,3032.8L933.5,3030.8L935.5,3028.8L937.5,3026.9L939.5,3025.2L941.5,3023.5L943.5,3022.0L945.5,3020.6L947.5,3019.3L949.5,3018.2L951.5,3017.2L953.5,3016.4L955.5,3015.7L957.5,3015.1L959.5,3014.5L961.5,3014.0L963.5,3013.6L965.5,3013.3L967.5,3013.0L969.5,3012.7L971.5,3012.6L973.5,3012.5L975.5,3012.4L977.5,3012.3L979.5,3012.3L981.5,3012.4L983.5,3012.5L985.5,3012.6L987.5,3012.8L989.5,3013.0L991.5,3013.3L993.5,3013.6L995.5,3013.9L997.5,3014.2L999.5,3014.6L1001.5,3014.9L1003.5,3015.2L1005.5,3015.5L1007.5,3015.8L1009.5,3016.0L1011.5,3016.2L1013.5,3016.4L1015.5,3016.6L1017.5,3016.7L1019.5,3016.9L1021.5,3016.9L1023.5,3017.0L1025.5,3017.0L1027.5,3017.0L1029.5,3016.9L1031.5,3016.9L1033.5,3016.8L1035.5,3016.7L1037.5,3016.6L1039.5,3016.5L1041.5,3016.4L1043.5,3016.3L1045.5,3016.2L1047.5,3016.0L1049.5,3015.9L1051.5,3015.7L1053.5,3015.6L1055.5,3015.4L1057.5,3015.2L1059.5,3015.1L1061.5,3014.9L1063.5,3014.8L1065.5,3014.7L1067.5,3014.6L1069.5,3014.6L1071.5,3014.6L1073.5,3014.6L1075.5,3014.6L1077.5,3014.6L1079.5,3014.6L1081.5,3014.7L1083.5,3014.7L1085.5,3014.7L1087.5,3014.8L1089.5,3014.8L1091.5,3014.9L1093.5,3014.9L1095.5,3014.9L1097.5,3014.8L1099.5,3014.5L1101.5,3014.0L1103.5,3013.2L1105.5,3012.3L1107.5,3011.3L1109.5,3010.4L1111.5,3009.6L1113.5,3008.8L1115.5,3008.0L1117.5,3007.3L1119.5,3006.7L1121.5,3006.1L1123.5,3005.5L1125.5,3005.1L1127.5,3004.7L1129.5,3004.4L1131.5,3004.1L1133.5,3003.9L1135.5,3003.8L1137.5,3003.7L1139.5,3003.7L1141.5,3003.8L1143.5,3003.9L1145.5,3004.1L1147.5,3004.4L1149.5,3004.8L1151.5,3005.2L1153.5,3005.7L1155.5,3006.3L1157.5,3007.0L1159.5,3007.7L1161.5,3008.5L1163.5,3009.4L1165.5,3010.4L1167.5,3011.4L1169.5,3012.5L1171.5,3013.7L1173.5,3014.8L1175.5,3016.0L1177.5,3017.2L1179.5,3018.5L1181.5,3019.7L1183.5,3021.0L1185.5,3022.3L1187.5,3023.5L1189.5,3024.7L1191.5,3025.9L1193.5,3027.1L1195.5,3028.2L1197.5,3029.1L1199.5,3030.0L1201.5,3030.8L1203.5,3031.5L1205.5,3032.0L1207.5,3032.6L1209.5,3033.0L1211.5,3033.3L1213.5,3033.6L1215.5,3033.7L1217.5,3033.7L1219.5,3033.7L1221.5,3033.5L1223.5,3033.3L1225.5,3033.1L1227.5,3032.7L1229.5,3032.3L1231.5,3031.8L1233.5,3031.2L1235.5,3030.7L1237.5,3030.2L1239.5,3029.8L1241.5,3029.6L1243.5,3029.4L1245.5,3029.3L1247.5,3029.3L1249.5,3029.4L1251.5,3029.5L1253.5,3029.7L1255.5,3030.0L1257.5,3030.4L1259.5,3030.8L1261.5,3031.2L1263.5,3031.6L1265.5,3032.1L1267.5,3032.5L1269.5,3032.9L1271.5,3033.3L1273.5,3033.7L1275.5,3034.1L1277.5,3034.4L1279.5,3034.8L1281.5,3035.1L1283.5,3035.3L1285.5,3035.5L1287.5,3035.7L1289.5,3035.8L1291.5,3035.9L1293.5,3035.9L1295.5,3035.9L1297.5,3035.8L1299.5,3035.6L1301.5,3035.3L1303.5,3035.0L1305.5,3034.6L1307.5,3034.1L1309.5,3033.6L1311.5,3033.0L1313.5,3032.3L1315.5,3031.6L1317.5,3030.9L1319.5,3030.1L1321.5,3029.2L1323.5,3028.2L1325.5,3027.3L1327.5,3026.3L1329.5,3025.3L1331.5,3024.4L1333.5,3023.5L1335.5,3022.6L1337.5,3021.8L1339.5,3020.9L1341.5,3020.1L1343.5,3019.3L1345.5,3018.6L1347.5,3018.0L1349.5,3017.5L1351.5,3017.1L1353.5,3016.8L1355.5,3016.7L1357.5,3016.6L1359.5,3016.5L1361.5,3016.5L1363.5,3016.4L1365.5,3016.3L1367.5,3016.2L1369.5,3016.0L1371.5,3015.8L1373.5,3015.6L1375.5,3015.4L1377.5,3015.2L1379.5,3015.0L1381.5,3014.8L1383.5,3014.6L1385.5,3014.5L1387.5,3014.4L1389.5,3014.3L1391.5,3014.3L1393.5,3014.4L1395.5,3014.6L1397.5,3015.0L1399.5,3015.6L1401.5,3016.3L1403.5,3017.1L1405.5,3017.9L1407.5,3018.7L1409.5,3019.6L1411.5,3020.4L1413.5,3021.2L1415.5,3022.0L1417.5,3022.8L1419.5,3023.5L1421.5,3024.1L1423.5,3024.6L1425.5,3024.9L1427.5,3025.1L1429.5,3025.2L1431.5,3025.3L1433.5,3025.4L1435.5,3025.6L1437.5,3025.8L1439.5,3026.1L1441.5,3026.4L1443.5,3026.8L1445.5,3027.4L1447.5,3028.1L1449.5,3029.1L1451.5,3030.4L1453.5,3032.0L1455.5,3033.8L1457.5,3035.8L1459.5,3037.8L1461.5,3039.8L1463.5,3041.8L1465.5,3043.9L1467.5,3046.0L1469.5,3048.0L1471.5,3049.8L1473.5,3051.4L1475.5,3052.7L1477.5,3053.6L1479.5,3054.2L1481.5,3054.3L1483.5,3054.1L1485.5,3053.6L1487.5,3052.9L1489.5,3052.0L1491.5,3051.0L1493.5,3049.9L1495.5,3048.6L1497.5,3047.3L1499.5,3045.9L1501.5,3044.4L1503.5,3043.1L1505.5,3041.8L1507.5,3040.7L1509.5,3039.7L1511.5,3038.7L1513.5,3037.8L1515.5,3037.1L1517.5,3036.3L1519.5,3035.7L1521.5,3035.2L1523.5,3034.8L1525.5,3034.5L1527.5,3034.2L1529.5,3034.0L1531.5,3033.8L1533.5,3033.6L1535.5,3033.5L1537.5,3033.4L1539.5,3033.3L1541.5,3033.2L1543.5,3033.1L1545.5,3033.0L1547.5,3032.8L1549.5,3032.7L1551.5,3032.5L1553.5,3032.3L1555.5,3032.0L1557.5,3031.6L1559.5,3031.2L1561.5,3030.7L1563.5,3030.2L1565.5,3029.5L1567.5,3028.9L1569.5,3028.2L1571.5,3027.4L1573.5,3026.7L1575.5,3025.9L1577.5,3025.2L1579.5,3024.4L1581.5,3023.6L1583.5,3022.9L1585.5,3022.2L1587.5,3021.7L1589.5,3021.2L1591.5,3020.8L1593.5,3020.4L1595.5,3020.1L1597.5,3019.9L1599.5,3019.7L1601.5,3019.6L1603.5,3019.5L1605.5,3019.5L1607.5,3019.5L1609.5,3019.6L1611.5,3019.6L1613.5,3019.6L1615.5,3019.6L1617.5,3019.6L1619.5,3019.6L1621.5,3019.6L1623.5,3019.5L1625.5,3019.5L1627.5,3019.5L1629.5,3019.5L1631.5,3019.6L1633.5,3019.8L1635.5,3020.0L1637.5,3020.4L1639.5,3020.7L1641.5,3021.2L1643.5,3021.7L1645.5,3022.4L1647.5,3023.2L1649.5,3024.1L1651.5,3024.6L1653.5,3024.9L1655.5,3025.1L1657.5,3025.1L1659.5,3024.9L1661.5,3024.6L1663.5,3024.1L1665.5,3023.4L1667.5,3022.4L1669.5,3021.3L1671.5,3020.1L1673.5,3018.8L1675.5,3017.5L1677.5,3016.1L1679.5,3014.6L1681.5,3013.1L1683.5,3011.5L1685.5,3009.9L1687.5,3008.2L1689.5,3006.5L1691.5,3004.7L1693.5,3002.8L1695.5,3001.0L1697.5,2999.2L1699.5,2997.4L1701.5,2995.7L1703.5,2994.0L1705.5,2992.3L1707.5,2990.7L1709.5,2989.1L1711.5,2987.7L1713.5,2986.3L1715.5,2985.0L1717.5,2983.7L1719.5,2982.6L1721.5,2981.5L1723.5,2980.5L1725.5,2979.6L1727.5,2978.8L1729.5,2978.1L1731.5,2977.5L1733.5,2976.9L1735.5,2976.4L1737.5,2976.0L1739.5,2975.5L1741.5,2975.0L1743.5,2974.5L1745.5,2974.0L1747.5,2973.5L1749.5,2973.0L1751.5,2972.5L1753.5,2971.9L1755.5,2971.3L1757.5,2970.6L1759.5,2969.9L1761.5,2969.2L1763.5,2968.5L1765.5,2967.8L1767.5,2967.0L1769.5,2966.3L1771.5,2965.6L1773.5,2964.8L1775.5,2964.1L1777.5,2963.4L1779.5,2962.7L1781.5,2962.0L1783.5,2961.3L1785.5,2960.6L1787.5,2960.0L1789.5,2959.3L1791.5,2958.7L1793.5,2958.1L1795.5,2957.6L1797.5,2957.0L1799.5,2956.5L1801.5,2956.0L1803.5,2955.5L1805.5,2955.0L1807.5,2954.5L1809.5,2954.0L1811.5,2953.6L1813.5,2953.1L1815.5,2952.7L1817.5,2952.3L1819.5,2952.0L1821.5,2951.7L1823.5,2951.4L1825.5,2951.2L1827.5,2951.0L1829.5,2950.8L1831.5,2950.6L1833.5,2950.5L1835.5,2950.4L1837.5,2950.3L1839.5,2950.2L1841.5,2950.1L1843.5,2950.1L1845.5,2950.0L1847.5,2949.9L1849.5,2949.8L1851.5,2949.6L1853.5,2949.5L1855.5,2949.4L1857.5,2949.3L1859.5,2949.3L1861.5,2949.2L1863.5,2949.1L1865.5,2949.0L1867.5,2948.8L1869.5,2948.7L1871.5,2948.6L1873.5,2948.4L1875.5,2948.1L1877.5,2947.9L1879.5,2947.5L1881.5,2947.0L1883.5,2946.5L1885.5,2946.0L1887.5,2945.4L1889.5,2944.9L1891.5,2944.4L1893.5,2944.1L1895.5,2943.8L1897.5,2943.6L1899.5,2943.4L1901.5,2943.3L1903.5,2943.2L1905.5,2943.1L1907.5,2943.1L1909.5,2943.1L1911.5,2943.1L1913.5,2943.2L1915.5,2943.2L1917.5,2943.3L1919.5,2943.4L1921.5,2943.4L1923.5,2943.5L1925.5,2943.7L1927.5,2943.8L1929.5,2943.9L1931.5,2944.0L1933.5,2944.1L1935.5,2944.2L1937.5,2944.4L1939.5,2944.5L1941.5,2944.6L1943.5,2944.8L1945.5,2944.9L1947.5,2945.1L1949.5,2945.3L1951.5,2945.6L1953.5,2945.9L1955.5,2946.2L1957.5,2946.6L1959.5,2947.1L1961.5,2947.5L1963.5,2948.1L1965.5,2948.6L1967.5,2949.2L1969.5,2949.7L1971.5,2950.4L1973.5,2951.0L1975.5,2951.7L1977.5,2952.4L1979.5,2953.1L1981.5,2953.8L1983.5,2954.5L1985.5,2955.2L1987.5,2955.8L1989.5,2956.5L1991.5,2957.1L1993.5,2957.7L1995.5,2958.4L1997.5,2959.0L1999.5,2959.5L2001.5,2960.0L2003.5,2960.5L2005.5,2961.0L2007.5,2961.4L2009.5,2961.8L2011.5,2962.1L2013.5,2962.4L2015.5,2962.7L2017.5,2962.9L2019.5,2963.0L2021.5,2963.0L2023.5,2962.8L2025.5,2962.6L2027.5,2962.3L2029.5,2962.0L2031.5,2961.6L2033.5,2961.3L2035.5,2961.0L2037.5,2960.7L2039.5,2960.3L2041.5,2960.0L2043.5,2959.7L2045.5,2959.4L2047.5,2959.0L2049.5,2958.7L2051.5,2958.4L2053.5,2958.2L2055.5,2957.9L2057.5,2957.6L2059.5,2957.3L2061.5,2957.0L2063.5,2956.8L2065.5,2956.5L2067.5,2956.2L2069.5,2955.9L2071.5,2955.7L2073.5,2955.4L2075.5,2955.1L2077.5,2954.8L2079.5,2954.5L2081.5,2954.3L2083.5,2954.0L2085.5,2953.7L2087.5,2953.4L2089.5,2953.1L2091.5,2952.8L2093.5,2952.6L2095.5,2952.3L2096.5,2952.3" stroke="#E05763" stroke-width="9.8"/>
<path d="M209.5,2843.4L211.5,2843.5L213.5,2843.8L215.5,2844.0L217.5,2844.3L219.5,2844.6L221.5,2844.8L223.5,2845.1L225.5,2845.4L227.5,2845.7L229.5,2846.0L231.5,2846.3L233.5,2846.6L235.5,2846.9L237.5,2847.3L239.5,2847.6L241.5,2848.0L243.5,2848.4L245.5,2848.8L247.5,2849.2L249.5,2849.7L251.5,2850.1L253.5,2850.6L255.5,2851.1L257.5,2851.6L259.5,2852.1L261.5,2852.7L263.5,2853.2L265.5,2853.8L267.5,2854.3L269.5,2854.9L271.5,2855.5L273.5,2856.2L275.5,2856.9L277.5,2857.6L279.5,2858.3L281.5,2859.1L283.5,2859.9L285.5,2860.8L287.5,2861.6L289.5,2862.5L291.5,2863.5L293.5,2864.4L295.5,2865.4L297.5,2866.4L299.5,2867.4L301.5,2868.4L303.5,2869.5L305.5,2870.6L307.5,2871.7L309.5,2872.7L311.5,2873.8L313.5,2874.9L315.5,2876.0L317.5,2877.0L319.5,2878.0L321.5,2879.1L323.5,2880.1L325.5,2881.1L327.5,2882.1L329.5,2883.1L331.5,2884.1L333.5,2885.1L335.5,2886.1L337.5,2887.1L339.5,2888.0L341.5,2888.9L343.5,2889.8L345.5,2890.6L347.5,2891.5L349.5,2892.3L351.5,2893.0L353.5,2893.8L355.5,2894.5L357.5,2895.2L359.5,2895.8L361.5,2896.5L363.5,2897.1L365.5,2897.7L367.5,2898.3L369.5,2898.8L371.5,2899.4L373.5,2899.9L375.5,2900.5L377.5,2901.0L379.5,2901.6L381.5,2902.1L383.5,2902.6L385.5,2903.1L387.5,2903.6L389.5,2904.0L391.5,2904.5L393.5,2904.9L395.5,2905.2L397.5,2905.5L399.5,2905.8L401.5,2906.1L403.5,2906.4L405.5,2906.6L407.5,2906.9L409.5,2907.1L411.5,2907.4L413.5,2907.7L415.5,2908.0L417.5,2908.4L419.5,2908.7L421.5,2909.1L423.5,2909.5L425.5,2909.9L427.5,2910.4L429.5,2910.8L431.5,2911.3L433.5,2911.8L435.5,2912.3L437.5,2912.8L439.5,2913.3L441.5,2913.8L443.5,2914.3L445.5,2914.9L447.5,2915.5L449.5,2916.1L451.5,2916.7L453.5,2917.3L455.5,2918.0L457.5,2918.7L459.5,2919.5L461.5,2920.3L463.5,2921.0L465.5,2921.7L467.5,2922.4L469.5,2923.0L471.5,2923.6L473.5,2924.1L475.5,2924.6L477.5,2925.1L479.5,2925.5L481.5,2925.8L483.5,2926.1L485.5,2926.3L487.5,2926.4L489.5,2926.3L491.5,2926.1L493.5,2925.8L495.5,2925.5L497.5,2925.1L499.5,2924.8L501.5,2924.5L503.5,2924.2L505.5,2923.9L507.5,2923.6L509.5,2923.3L511.5,2923.0L513.5,2922.8L515.5,2922.6L517.5,2922.4L519.5,2922.2L521.5,2922.0L523.5,2921.9L525.5,2921.8L527.5,2921.7L529.5,2921.6L531.5,2921.5L533.5,2921.4L535.5,2921.4L537.5,2921.4L539.5,2921.3L541.5,2921.4L543.5,2921.4L545.5,2921.4L547.5,2921.5L549.5,2921.6L551.5,2921.7L553.5,2921.8L555.5,2921.9L557.5,2922.1L559.5,2922.2L561.5,2922.4L563.5,2922.5L565.5,2922.6L567.5,2922.8L569.5,2922.9L571.5,2923.1L573.5,2923.2L575.5,2923.4L577.5,2923.6L579.5,2923.8L581.5,2924.1L583.5,2924.3L585.5,2924.6L587.5,2924.9L589.5,2925.2L591.5,2925.5L593.5,2925.6L595.5,2925.7L597.5,2925.5L599.5,2925.1L601.5,2924.5L603.5,2923.7L605.5,2922.7L607.5,2921.6L609.5,2920.4L611.5,2919.1L613.5,2917.8L615.5,2916.4L617.5,2915.1L619.5,2913.8L621.5,2912.4L623.5,2911.1L625.5,2909.8L627.5,2908.4L629.5,2907.1L631.5,2905.9L633.5,2904.7L635.5,2903.5L637.5,2902.4L639.5,2901.4L641.5,2900.5L643.5,2899.6L645.5,2898.7L647.5,2897.9L649.5,2897.1L651.5,2896.3L653.5,2895.5L655.5,2894.8L657.5,2894.1L659.5,2893.4L661.5,2892.8L663.5,2892.2L665.5,2891.6L667.5,2891.0L669.5,2890.5L671.5,2890.0L673.5,2889.5L675.5,2889.1L677.5,2888.7L679.5,2888.3L681.5,2887.9L683.5,2887.6L685.5,2887.3L687.5,2887.0L689.5,2886.7L691.5,2886.4L693.5,2886.2L695.5,2886.1L697.5,2885.9L699.5,2885.9L701.5,2885.9L703.5,2886.0L705.5,2886.3L707.5,2886.6L709.5,2887.2L711.5,2887.8L713.5,2888.7L715.5,2889.8L717.5,2891.1L719.5,2892.6L721.5,2894.2L723.5,2896.1L725.5,2898.1L727.5,2900.3L729.5,2902.6L731.5,2905.0L733.5,2907.3L735.5,2909.5L737.5,2911.4L739.5,2913.0L741.5,2914.5L743.5,2915.8L745.5,2916.9L747.5,2917.8L749.5,2918.5L751.5,2918.9L753.5,2919.1L755.5,2919.0L757.5,2918.6L759.5,2918.1L761.5,2917.2L763.5,2916.2L765.5,2915.0L767.5,2913.6L769.5,2912.2L771.5,2910.6L773.5,2909.0L775.5,2907.3L777.5,2905.6L779.5,2903.8L781.5,2901.9L783.5,2900.0L785.5,2898.1L787.5,2896.2L789.5,2894.3L791.5,2892.5L793.5,2890.7L795.5,2889.1L797.5,2887.7L799.5,2886.5L801.5,2885.5L803.5,2884.8L805.5,2884.2L807.5,2884.0L809.5,2884.1L811.5,2884.6L813.5,2885.4L815.5,2886.7L817.5,2888.5L819.5,2890.8L821.5,2893.4L823.5,2896.3L825.5,2899.2L827.5,2902.0L829.5,2904.4L831.5,2906.4L833.5,2908.2L835.5,2909.6L837.5,2910.8L839.5,2911.8L841.5,2912.6L843.5,2913.1L845.5,2913.5L847.5,2913.8L849.5,2913.9L851.5,2913.8L853.5,2913.7L855.5,2913.5L857.5,2913.1L859.5,2912.7L861.5,2912.0L863.5,2911.2L865.5,2910.2L867.5,2909.1L869.5,2907.8L871.5,2906.5L873.5,2905.1L875.5,2903.8L877.5,2902.5L879.5,2901.2L881.5,2900.0L883.5,2898.9L885.5,2898.1L887.5,2897.7L889.5,2897.8L891.5,2898.3L893.5,2899.1L895.5,2900.1L897.5,2901.2L899.5,2902.4L901.5,2903.8L903.5,2905.1L905.5,2906.5L907.5,2907.9L909.5,2909.3L911.5,2910.6L913.5,2911.7L915.5,2912.6L917.5,2913.2L919.5,2913.6L921.5,2913.7L923.5,2913.5L925.5,2913.0L927.5,2912.3L929.5,2911.4L931.5,2910.3L933.5,2909.0L935.5,2907.7L937.5,2906.3L939.5,2905.0L941.5,2903.8L943.5,2902.7L945.5,2901.7L947.5,2900.8L949.5,2899.9L951.5,2899.2L953.5,2898.5L955.5,2897.8L957.5,2897.2L959.5,2896.7L961.5,2896.2L963.5,2895.8L965.5,2895.4L967.5,2895.1L969.5,2894.8L971.5,2894.6L973.5,2894.4L975.5,2894.2L977.5,2894.1L979.5,2894.0L981.5,2894.0L983.5,2894.0L985.5,2894.0L987.5,2894.1L989.5,2894.2L991.5,2894.3L993.5,2894.5L995.5,2894.7L997.5,2894.9L999.5,2895.1L1001.5,2895.4L1003.5,2895.6L1005.5,2895.7L1007.5,2895.9L1009.5,2896.0L1011.5,2896.1L1013.5,2896.2L1015.5,2896.3L1017.5,2896.4L1019.5,2896.4L1021.5,2896.5L1023.5,2896.5L1025.5,2896.5L1027.5,2896.5L1029.5,2896.6L1031.5,2896.6L1033.5,2896.6L1035.5,2896.6L1037.5,2896.6L1039.5,2896.5L1041.5,2896.5L1043.5,2896.5L1045.5,2896.4L1047.5,2896.3L1049.5,2896.3L1051.5,2896.2L1053.5,2896.1L1055.5,2896.0L1057.5,2895.9L1059.5,2895.8L1061.5,2895.7L1063.5,2895.6L1065.5,2895.5L1067.5,2895.4L1069.5,2895.4L1071.5,2895.3L1073.5,2895.2L1075.5,2895.1L1077.5,2895.1L1079.5,2895.0L1081.5,2894.9L1083.5,2894.8L1085.5,2894.7L1087.5,2894.6L1089.5,2894.6L1091.5,2894.5L1093.5,2894.4L1095.5,2894.2L1097.5,2894.0L1099.5,2893.7L1101.5,2893.2L1103.5,2892.6L1105.5,2891.9L1107.5,2891.2L1109.5,2890.5L1111.5,2889.9L1113.5,2889.3L1115.5,2888.8L1117.5,2888.3L1119.5,2887.8L1121.5,2887.4L1123.5,2887.1L1125.5,2886.9L1127.5,2886.7L1129.5,2886.6L1131.5,2886.6L1133.5,2886.5L1135.5,2886.5L1137.5,2886.5L1139.5,2886.5L1141.5,2886.6L1143.5,2886.7L1145.5,2886.8L1147.5,2887.0L1149.5,2887.2L1151.5,2887.6L1153.5,2888.0L1155.5,2888.4L1157.5,2889.0L1159.5,2889.5L1161.5,2890.1L1163.5,2890.8L1165.5,2891.5L1167.5,2892.3L1169.5,2893.1L1171.5,2893.9L1173.5,2894.8L1175.5,2895.6L1177.5,2896.4L1179.5,2897.3L1181.5,2898.1L1183.5,2899.0L1185.5,2899.8L1187.5,2900.7L1189.5,2901.6L1191.5,2902.4L1193.5,2903.3L1195.5,2904.1L1197.5,2904.9L1199.5,2905.6L1201.5,2906.2L1203.5,2906.8L1205.5,2907.3L1207.5,2907.8L1209.5,2908.2L1211.5,2908.5L1213.5,2908.7L1215.5,2908.8L1217.5,2908.9L1219.5,2908.8L1221.5,2908.7L1223.5,2908.5L1225.5,2908.2L1227.5,2908.0L1229.5,2907.6L1231.5,2907.2L1233.5,2906.8L1235.5,2906.3L1237.5,2905.9L1239.5,2905.6L1241.5,2905.3L1243.5,2905.1L1245.5,2905.0L1247.5,2904.9L1249.5,2904.8L1251.5,2904.8L1253.5,2904.8L1255.5,2904.9L1257.5,2905.0L1259.5,2905.2L1261.5,2905.4L1263.5,2905.5L1265.5,2905.7L1267.5,2905.9L1269.5,2906.1L1271.5,2906.2L1273.5,2906.4L1275.5,2906.6L1277.5,2906.8L1279.5,2906.9L1281.5,2907.0L1283.5,2907.1L1285.5,2907.2L1287.5,2907.3L1289.5,2907.3L1291.5,2907.4L1293.5,2907.4L1295.5,2907.3L1297.5,2907.3L1299.5,2907.1L1301.5,2906.9L1303.5,2906.7L1305.5,2906.4L1307.5,2906.0L1309.5,2905.6L1311.5,2905.2L1313.5,2904.8L1315.5,2904.4L1317.5,2903.9L1319.5,2903.4L1321.5,2902.9L1323.5,2902.4L1325.5,2901.9L1327.5,2901.3L1329.5,2900.8L1331.5,2900.2L1333.5,2899.7L1335.5,2899.2L1337.5,2898.7L1339.5,2898.1L1341.5,2897.6L1343.5,2897.1L1345.5,2896.6L1347.5,2896.2L1349.5,2895.9L1351.5,2895.7L1353.5,2895.5L1355.5,2895.5L1357.5,2895.4L1359.5,2895.4L1361.5,2895.4L1363.5,2895.5L1365.5,2895.5L1367.5,2895.5L1369.5,2895.5L1371.5,2895.5L1373.5,2895.4L1375.5,2895.4L1377.5,2895.5L1379.5,2895.5L1381.5,2895.5L1383.5,2895.5L1385.5,2895.5L1387.5,2895.4L1389.5,2895.4L1391.5,2895.4L1393.5,2895.6L1395.5,2895.8L1397.5,2896.2L1399.5,2896.7L1401.5,2897.4L1403.5,2898.1L1405.5,2898.9L1407.5,2899.7L1409.5,2900.4L1411.5,2901.0L1413.5,2901.6L1415.5,2902.2L1417.5,2902.8L1419.5,2903.3L1421.5,2903.8L1423.5,2904.1L1425.5,2904.4L1427.5,2904.7L1429.5,2904.8L1431.5,2905.0L1433.5,2905.2L1435.5,2905.4L1437.5,2905.6L1439.5,2905.9L1441.5,2906.2L1443.5,2906.5L1445.5,2906.9L1447.5,2907.5L1449.5,2908.2L1451.5,2909.1L1453.5,2910.2L1455.5,2911.4L1457.5,2912.7L1459.5,2914.1L1461.5,2915.5L1463.5,2916.8L1465.5,2918.2L1467.5,2919.6L1469.5,2921.0L1471.5,2922.2L1473.5,2923.2L1475.5,2923.9L1477.5,2924.4L1479.5,2924.6L1481.5,2924.6L1483.5,2924.4L1485.5,2924.0L1487.5,2923.5L1489.5,2922.8L1491.5,2922.0L1493.5,2921.1L1495.5,2920.0L1497.5,2918.8L1499.5,2917.6L1501.5,2916.2L1503.5,2914.9L1505.5,2913.6L1507.5,2912.3L1509.5,2911.0L1511.5,2909.7L1513.5,2908.4L1515.5,2907.2L1517.5,2906.0L1519.5,2904.9L1521.5,2904.0L1523.5,2903.1L1525.5,2902.3L1527.5,2901.5L1529.5,2900.9L1531.5,2900.3L1533.5,2899.7L1535.5,2899.2L1537.5,2898.8L1539.5,2898.5L1541.5,2898.2L1543.5,2897.9L1545.5,2897.6L1547.5,2897.3L1549.5,2897.1L1551.5,2896.9L1553.5,2896.6L1555.5,2896.4L1557.5,2896.1L1559.5,2895.8L1561.5,2895.4L1563.5,2894.9L1565.5,2894.4L1567.5,2893.9L1569.5,2893.4L1571.5,2892.8L1573.5,2892.3L1575.5,2891.8L1577.5,2891.3L1579.5,2890.8L1581.5,2890.2L1583.5,2889.8L1585.5,2889.3L1587.5,2888.9L1589.5,2888.5L1591.5,2888.1L1593.5,2887.8L1595.5,2887.6L1597.5,2887.4L1599.5,2887.2L1601.5,2887.2L1603.5,2887.3L1605.5,2887.4L1607.5,2887.6L1609.5,2887.8L1611.5,2888.0L1613.5,2888.3L1615.5,2888.6L1617.5,2888.9L1619.5,2889.3L1621.5,2889.7L1623.5,2890.0L1625.5,2890.4L1627.5,2890.7L1629.5,2890.9L1631.5,2891.1L1633.5,2891.4L1635.5,2891.6L1637.5,2891.9L1639.5,2892.3L1641.5,2892.7L1643.5,2893.3L1645.5,2893.8L1647.5,2894.3L1649.5,2894.6L1651.5,2894.8L1653.5,2894.9L1655.5,2894.9L1657.5,2894.8L1659.5,2894.5L1661.5,2894.2L1663.5,2893.8L1665.5,2893.2L1667.5,2892.5L1669.5,2891.6L1671.5,2890.7L1673.5,2889.7L1675.5,2888.5L1677.5,2887.3L1679.5,2886.1L1681.5,2884.8L1683.5,2883.5L1685.5,2882.2L1687.5,2881.0L1689.5,2879.7L1691.5,2878.4L1693.5,2877.1L1695.5,2875.9L1697.5,2874.7L1699.5,2873.4L1701.5,2872.2L1703.5,2871.0L1705.5,2869.8L1707.5,2868.7L1709.5,2867.6L1711.5,2866.7L1713.5,2865.8L1715.5,2865.1L1717.5,2864.4L1719.5,2863.7L1721.5,2863.1L1723.5,2862.5L1725.5,2861.9L1727.5,2861.4L1729.5,2860.8L1731.5,2860.3L1733.5,2859.8L1735.5,2859.4L1737.5,2858.9L1739.5,2858.5L1741.5,2858.2L1743.5,2857.8L1745.5,2857.4L1747.5,2857.0L1749.5,2856.6L1751.5,2856.1L1753.5,2855.7L1755.5,2855.1L1757.5,2854.6L1759.5,2854.1L1761.5,2853.6L1763.5,2853.0L1765.5,2852.5L1767.5,2851.9L1769.5,2851.4L1771.5,2850.8L1773.5,2850.2L1775.5,2849.6L1777.5,2849.1L1779.5,2848.5L1781.5,2848.0L1783.5,2847.5L1785.5,2847.0L1787.5,2846.5L1789.5,2846.1L1791.5,2845.7L1793.5,2845.3L1795.5,2844.9L1797.5,2844.6L1799.5,2844.3L1801.5,2844.0L1803.5,2843.7L1805.5,2843.4L1807.5,2843.1L1809.5,2842.9L1811.5,2842.7L1813.5,2842.4L1815.5,2842.2L1817.5,2842.0L1819.5,2841.8L1821.5,2841.7L1823.5,2841.6L1825.5,2841.4L1827.5,2841.3L1829.5,2841.2L1831.5,2841.2L1833.5,2841.1L1835.5,2841.1L1837.5,2841.0L1839.5,2841.0L1841.5,2841.0L1843.5,2841.0L1845.5,2840.9L1847.5,2840.9L1849.5,2840.9L1851.5,2840.9L1853.5,2840.9L1855.5,2840.9L1857.5,2840.9L1859.5,2840.9L1861.5,2840.9L1863.5,2840.9L1865.5,2840.9L1867.5,2840.9L1869.5,2840.9L1871.5,2840.9L1873.5,2840.9L1875.5,2840.9L1877.5,2840.8L1879.5,2840.8L1881.5,2840.7L1883.5,2840.6L1885.5,2840.5L1887.5,2840.3L1889.5,2840.2L1891.5,2840.1L1893.5,2840.0L1895.5,2839.9L1897.5,2839.9L1899.5,2839.8L1901.5,2839.8L1903.5,2839.8L1905.5,2839.7L1907.5,2839.7L1909.5,2839.7L1911.5,2839.8L1913.5,2839.8L1915.5,2839.9L1917.5,2840.0L1919.5,2840.1L1921.5,2840.2L1923.5,2840.3L1925.5,2840.4L1927.5,2840.6L1929.5,2840.7L1931.5,2840.9L1933.5,2841.1L1935.5,2841.2L1937.5,2841.4L1939.5,2841.5L1941.5,2841.7L1943.5,2841.8L1945.5,2842.0L1947.5,2842.1L1949.5,2842.3L1951.5,2842.4L1953.5,2842.6L1955.5,2842.8L1957.5,2843.0L1959.5,2843.2L1961.5,2843.5L1963.5,2843.8L1965.5,2844.1L1967.5,2844.4L1969.5,2844.7L1971.5,2845.1L1973.5,2845.4L1975.5,2845.8L1977.5,2846.2L1979.5,2846.5L1981.5,2846.9L1983.5,2847.3L1985.5,2847.7L1987.5,2848.1L1989.5,2848.5L1991.5,2849.0L1993.5,2849.4L1995.5,2849.8L1997.5,2850.2L1999.5,2850.5L2001.5,2850.9L2003.5,2851.3L2005.5,2851.6L2007.5,2852.0L2009.5,2852.3L2011.5,2852.7L2013.5,2853.0L2015.5,2853.3L2017.5,2853.6L2019.5,2853.8L2021.5,2854.0L2023.5,2854.1L2025.5,2854.1L2027.5,2854.0L2029.5,2853.8L2031.5,2853.5L2033.5,2853.2L2035.5,2852.8L2037.5,2852.4L2039.5,2852.1L2041.5,2851.8L2043.5,2851.5L2045.5,2851.3L2047.5,2851.2L2049.5,2851.1L2051.5,2851.0L2053.5,2850.9L2055.5,2850.8L2057.5,2850.7L2059.5,2850.5L2061.5,2850.4L2063.5,2850.3L2065.5,2850.1L2067.5,2850.0L2069.5,2849.8L2071.5,2849.6L2073.5,2849.5L2075.5,2849.3L2077.5,2849.0L2079.5,2848.8L2081.5,2848.6L2083.5,2848.3L2085.5,2848.1L2087.5,2847.8L2089.5,2847.5L2091.5,2847.3L2093.5,2847.0L2095.5,2846.8L2096.5,2846.7" stroke="#FDB062" stroke-width="9.8"/>
<path d="M209.5,2717.2L211.5,2717.6L213.5,2718.2L215.5,2718.8L217.5,2719.4L219.5,2720.0L221.5,2720.6L223.5,2721.3L225.5,2721.9L227.5,2722.6L229.5,2723.3L231.5,2724.0L233.5,2724.7L235.5,2725.4L237.5,2726.2L239.5,2726.9L241.5,2727.7L243.5,2728.4L245.5,2729.2L247.5,2730.0L249.5,2730.9L251.5,2731.7L253.5,2732.6L255.5,2733.5L257.5,2734.4L259.5,2735.4L261.5,2736.4L263.5,2737.4L265.5,2738.5L267.5,2739.6L269.5,2740.7L271.5,2741.9L273.5,2743.0L275.5,2744.2L277.5,2745.4L279.5,2746.7L281.5,2747.9L283.5,2749.2L285.5,2750.6L287.5,2751.9L289.5,2753.3L291.5,2754.8L293.5,2756.2L295.5,2757.8L297.5,2759.3L299.5,2760.9L301.5,2762.4L303.5,2764.0L305.5,2765.5L307.5,2767.0L309.5,2768.5L311.5,2770.0L313.5,2771.4L315.5,2772.8L317.5,2774.1L319.5,2775.4L321.5,2776.7L323.5,2778.0L325.5,2779.3L327.5,2780.5L329.5,2781.7L331.5,2783.0L333.5,2784.2L335.5,2785.3L337.5,2786.5L339.5,2787.6L341.5,2788.7L343.5,2789.8L345.5,2790.8L347.5,2791.8L349.5,2792.7L351.5,2793.6L353.5,2794.4L355.5,2795.1L357.5,2795.8L359.5,2796.5L361.5,2797.2L363.5,2797.8L365.5,2798.3L367.5,2798.8L369.5,2799.3L371.5,2799.8L373.5,2800.2L375.5,2800.6L377.5,2801.0L379.5,2801.4L381.5,2801.7L383.5,2802.1L385.5,2802.4L387.5,2802.7L389.5,2803.0L391.5,2803.3L393.5,2803.5L395.5,2803.8L397.5,2804.1L399.5,2804.3L401.5,2804.5L403.5,2804.8L405.5,2805.0L407.5,2805.2L409.5,2805.4L411.5,2805.7L413.5,2805.9L415.5,2806.1L417.5,2806.2L419.5,2806.4L421.5,2806.6L423.5,2806.7L425.5,2806.9L427.5,2807.0L429.5,2807.1L431.5,2807.3L433.5,2807.5L435.5,2807.7L437.5,2808.0L439.5,2808.3L441.5,2808.6L443.5,2809.0L445.5,2809.4L447.5,2809.8L449.5,2810.3L451.5,2810.8L453.5,2811.3L455.5,2811.9L457.5,2812.6L459.5,2813.3L461.5,2814.0L463.5,2814.7L465.5,2815.4L467.5,2816.1L469.5,2816.7L471.5,2817.4L473.5,2818.0L475.5,2818.6L477.5,2819.2L479.5,2819.7L481.5,2820.2L483.5,2820.6L485.5,2820.9L487.5,2821.1L489.5,2821.0L491.5,2820.8L493.5,2820.5L495.5,2820.2L497.5,2819.8L499.5,2819.5L501.5,2819.3L503.5,2819.0L505.5,2818.8L507.5,2818.6L509.5,2818.4L511.5,2818.2L513.5,2818.0L515.5,2817.9L517.5,2817.7L519.5,2817.6L521.5,2817.4L523.5,2817.3L525.5,2817.2L527.5,2817.1L529.5,2817.0L531.5,2816.9L533.5,2816.8L535.5,2816.7L537.5,2816.7L539.5,2816.7L541.5,2816.7L543.5,2816.7L545.5,2816.8L547.5,2816.9L549.5,2816.9L551.5,2817.0L553.5,2817.2L555.5,2817.3L557.5,2817.4L559.5,2817.6L561.5,2817.7L563.5,2817.9L565.5,2818.0L567.5,2818.2L569.5,2818.4L571.5,2818.6L573.5,2818.8L575.5,2819.1L577.5,2819.3L579.5,2819.5L581.5,2819.7L583.5,2820.0L585.5,2820.2L587.5,2820.5L589.5,2820.7L591.5,2820.9L593.5,2821.0L595.5,2821.0L597.5,2820.8L599.5,2820.5L601.5,2819.8L603.5,2819.0L605.5,2818.1L607.5,2817.0L609.5,2815.8L611.5,2814.6L613.5,2813.3L615.5,2812.0L617.5,2810.7L619.5,2809.5L621.5,2808.2L623.5,2806.9L625.5,2805.7L627.5,2804.4L629.5,2803.2L631.5,2802.0L633.5,2800.9L635.5,2799.8L637.5,2798.8L639.5,2797.9L641.5,2797.0L643.5,2796.2L645.5,2795.4L647.5,2794.6L649.5,2793.9L651.5,2793.3L653.5,2792.6L655.5,2792.0L657.5,2791.5L659.5,2790.9L661.5,2790.5L663.5,2790.0L665.5,2789.6L667.5,2789.2L669.5,2788.9L671.5,2788.5L673.5,2788.3L675.5,2788.0L677.5,2787.8L679.5,2787.6L681.5,2787.5L683.5,2787.3L685.5,2787.2L687.5,2787.1L689.5,2787.1L691.5,2787.0L693.5,2787.0L695.5,2787.0L697.5,2787.1L699.5,2787.2L701.5,2787.3L703.5,2787.6L705.5,2787.9L707.5,2788.3L709.5,2788.8L711.5,2789.5L713.5,2790.3L715.5,2791.3L717.5,2792.4L719.5,2793.7L721.5,2795.2L723.5,2796.8L725.5,2798.6L727.5,2800.6L729.5,2802.7L731.5,2804.9L733.5,2807.1L735.5,2809.2L737.5,2811.0L739.5,2812.7L741.5,2814.2L743.5,2815.4L745.5,2816.5L747.5,2817.4L749.5,2818.1L751.5,2818.6L753.5,2819.0L755.5,2819.1L757.5,2819.0L759.5,2818.7L761.5,2818.0L763.5,2817.2L765.5,2816.1L767.5,2814.9L769.5,2813.7L771.5,2812.4L773.5,2811.0L775.5,2809.5L777.5,2807.9L779.5,2806.1L781.5,2804.2L783.5,2802.3L785.5,2800.5L787.5,2798.8L789.5,2797.3L791.5,2795.9L793.5,2794.6L795.5,2793.5L797.5,2792.5L799.5,2791.6L801.5,2790.8L803.5,2790.2L805.5,2789.8L807.5,2789.7L809.5,2789.8L811.5,2790.1L813.5,2790.8L815.5,2791.8L817.5,2793.2L819.5,2795.0L821.5,2797.1L823.5,2799.5L825.5,2802.0L827.5,2804.5L829.5,2806.6L831.5,2808.4L833.5,2810.0L835.5,2811.4L837.5,2812.5L839.5,2813.4L841.5,2814.2L843.5,2814.8L845.5,2815.2L847.5,2815.5L849.5,2815.7L851.5,2815.8L853.5,2815.8L855.5,2815.7L857.5,2815.4L859.5,2815.1L861.5,2814.6L863.5,2813.9L865.5,2813.2L867.5,2812.3L869.5,2811.3L871.5,2810.3L873.5,2809.3L875.5,2808.3L877.5,2807.3L879.5,2806.3L881.5,2805.3L883.5,2804.5L885.5,2803.9L887.5,2803.6L889.5,2803.7L891.5,2804.2L893.5,2804.9L895.5,2805.7L897.5,2806.6L899.5,2807.6L901.5,2808.6L903.5,2809.6L905.5,2810.7L907.5,2811.6L909.5,2812.5L911.5,2813.3L913.5,2814.0L915.5,2814.6L917.5,2815.0L919.5,2815.3L921.5,2815.4L923.5,2815.2L925.5,2814.7L927.5,2813.9L929.5,2813.0L931.5,2811.9L933.5,2810.8L935.5,2809.5L937.5,2808.2L939.5,2807.0L941.5,2806.0L943.5,2805.1L945.5,2804.3L947.5,2803.6L949.5,2802.9L951.5,2802.4L953.5,2801.9L955.5,2801.4L957.5,2801.1L959.5,2800.7L961.5,2800.4L963.5,2800.1L965.5,2799.9L967.5,2799.8L969.5,2799.7L971.5,2799.6L973.5,2799.6L975.5,2799.5L977.5,2799.4L979.5,2799.4L981.5,2799.3L983.5,2799.3L985.5,2799.3L987.5,2799.4L989.5,2799.5L991.5,2799.8L993.5,2800.0L995.5,2800.3L997.5,2800.7L999.5,2801.0L1001.5,2801.4L1003.5,2801.7L1005.5,2802.0L1007.5,2802.3L1009.5,2802.5L1011.5,2802.8L1013.5,2803.0L1015.5,2803.2L1017.5,2803.4L1019.5,2803.5L1021.5,2803.7L1023.5,2803.9L1025.5,2804.0L1027.5,2804.2L1029.5,2804.4L1031.5,2804.5L1033.5,2804.7L1035.5,2804.8L1037.5,2804.9L1039.5,2805.0L1041.5,2805.1L1043.5,2805.1L1045.5,2805.1L1047.5,2805.1L1049.5,2805.1L1051.5,2805.0L1053.5,2804.9L1055.5,2804.9L1057.5,2804.8L1059.5,2804.7L1061.5,2804.6L1063.5,2804.6L1065.5,2804.5L1067.5,2804.5L1069.5,2804.5L1071.5,2804.5L1073.5,2804.5L1075.5,2804.5L1077.5,2804.5L1079.5,2804.5L1081.5,2804.5L1083.5,2804.5L1085.5,2804.4L1087.5,2804.4L1089.5,2804.4L1091.5,2804.3L1093.5,2804.2L1095.5,2804.1L1097.5,2804.0L1099.5,2803.7L1101.5,2803.4L1103.5,2802.9L1105.5,2802.3L1107.5,2801.7L1109.5,2801.2L1111.5,2800.7L1113.5,2800.3L1115.5,2799.9L1117.5,2799.6L1119.5,2799.3L1121.5,2799.0L1123.5,2798.8L1125.5,2798.6L1127.5,2798.5L1129.5,2798.4L1131.5,2798.4L1133.5,2798.4L1135.5,2798.5L1137.5,2798.6L1139.5,2798.8L1141.5,2799.0L1143.5,2799.2L1145.5,2799.5L1147.5,2799.8L1149.5,2800.2L1151.5,2800.6L1153.5,2801.1L1155.5,2801.5L1157.5,2802.1L1159.5,2802.6L1161.5,2803.2L1163.5,2803.7L1165.5,2804.4L1167.5,2805.0L1169.5,2805.6L1171.5,2806.3L1173.5,2807.0L1175.5,2807.6L1177.5,2808.3L1179.5,2808.9L1181.5,2809.6L1183.5,2810.3L1185.5,2810.9L1187.5,2811.6L1189.5,2812.2L1191.5,2812.9L1193.5,2813.5L1195.5,2814.2L1197.5,2814.8L1199.5,2815.3L1201.5,2815.8L1203.5,2816.2L1205.5,2816.6L1207.5,2817.0L1209.5,2817.3L1211.5,2817.6L1213.5,2817.8L1215.5,2817.9L1217.5,2818.0L1219.5,2818.0L1221.5,2818.0L1223.5,2817.9L1225.5,2817.8L1227.5,2817.7L1229.5,2817.5L1231.5,2817.2L1233.5,2817.0L1235.5,2816.7L1237.5,2816.4L1239.5,2816.2L1241.5,2816.0L1243.5,2815.9L1245.5,2815.7L1247.5,2815.6L1249.5,2815.6L1251.5,2815.5L1253.5,2815.5L1255.5,2815.5L1257.5,2815.6L1259.5,2815.7L1261.5,2815.8L1263.5,2815.9L1265.5,2816.1L1267.5,2816.2L1269.5,2816.4L1271.5,2816.6L1273.5,2816.8L1275.5,2817.1L1277.5,2817.3L1279.5,2817.5L1281.5,2817.6L1283.5,2817.8L1285.5,2818.0L1287.5,2818.1L1289.5,2818.2L1291.5,2818.4L1293.5,2818.4L1295.5,2818.5L1297.5,2818.5L1299.5,2818.4L1301.5,2818.3L1303.5,2818.1L1305.5,2817.9L1307.5,2817.7L1309.5,2817.4L1311.5,2817.0L1313.5,2816.7L1315.5,2816.3L1317.5,2815.9L1319.5,2815.5L1321.5,2815.0L1323.5,2814.5L1325.5,2814.0L1327.5,2813.5L1329.5,2813.0L1331.5,2812.5L1333.5,2812.1L1335.5,2811.6L1337.5,2811.1L1339.5,2810.6L1341.5,2810.2L1343.5,2809.7L1345.5,2809.3L1347.5,2808.9L1349.5,2808.6L1351.5,2808.3L1353.5,2808.1L1355.5,2807.9L1357.5,2807.7L1359.5,2807.6L1361.5,2807.5L1363.5,2807.4L1365.5,2807.2L1367.5,2807.0L1369.5,2806.8L1371.5,2806.6L1373.5,2806.4L1375.5,2806.2L1377.5,2806.0L1379.5,2805.8L1381.5,2805.6L1383.5,2805.5L1385.5,2805.4L1387.5,2805.3L1389.5,2805.3L1391.5,2805.3L1393.5,2805.3L1395.5,2805.5L1397.5,2805.7L1399.5,2805.9L1401.5,2806.2L1403.5,2806.6L1405.5,2807.0L1407.5,2807.4L1409.5,2807.8L1411.5,2808.1L1413.5,2808.5L1415.5,2808.9L1417.5,2809.3L1419.5,2809.6L1421.5,2809.9L1423.5,2810.2L1425.5,2810.4L1427.5,2810.5L1429.5,2810.6L1431.5,2810.8L1433.5,2810.9L1435.5,2811.1L1437.5,2811.3L1439.5,2811.5L1441.5,2811.8L1443.5,2812.1L1445.5,2812.5L1447.5,2813.0L1449.5,2813.5L1451.5,2814.2L1453.5,2815.0L1455.5,2815.8L1457.5,2816.7L1459.5,2817.7L1461.5,2818.7L1463.5,2819.8L1465.5,2821.0L1467.5,2822.2L1469.5,2823.5L1471.5,2824.6L1473.5,2825.5L1475.5,2826.1L1477.5,2826.5L1479.5,2826.7L1481.5,2826.6L1483.5,2826.4L1485.5,2826.0L1487.5,2825.4L1489.5,2824.7L1491.5,2824.0L1493.5,2823.2L1495.5,2822.3L1497.5,2821.3L1499.5,2820.3L1501.5,2819.2L1503.5,2818.2L1505.5,2817.2L1507.5,2816.2L1509.5,2815.3L1511.5,2814.4L1513.5,2813.5L1515.5,2812.7L1517.5,2811.9L1519.5,2811.2L1521.5,2810.6L1523.5,2810.1L1525.5,2809.7L1527.5,2809.3L1529.5,2809.0L1531.5,2808.7L1533.5,2808.5L1535.5,2808.3L1537.5,2808.2L1539.5,2808.1L1541.5,2808.0L1543.5,2807.9L1545.5,2807.8L1547.5,2807.7L1549.5,2807.6L1551.5,2807.5L1553.5,2807.4L1555.5,2807.2L1557.5,2807.0L1559.5,2806.8L1561.5,2806.5L1563.5,2806.2L1565.5,2805.9L1567.5,2805.5L1569.5,2805.1L1571.5,2804.7L1573.5,2804.3L1575.5,2803.9L1577.5,2803.5L1579.5,2803.1L1581.5,2802.7L1583.5,2802.3L1585.5,2802.0L1587.5,2801.6L1589.5,2801.4L1591.5,2801.1L1593.5,2800.9L1595.5,2800.7L1597.5,2800.6L1599.5,2800.5L1601.5,2800.5L1603.5,2800.6L1605.5,2800.6L1607.5,2800.7L1609.5,2800.9L1611.5,2801.1L1613.5,2801.2L1615.5,2801.5L1617.5,2801.7L1619.5,2801.9L1621.5,2802.2L1623.5,2802.5L1625.5,2802.7L1627.5,2803.0L1629.5,2803.2L1631.5,2803.5L1633.5,2803.7L1635.5,2804.0L1637.5,2804.2L1639.5,2804.5L1641.5,2804.8L1643.5,2805.2L1645.5,2805.5L1647.5,2805.8L1649.5,2806.1L1651.5,2806.3L1653.5,2806.5L1655.5,2806.7L1657.5,2806.9L1659.5,2806.9L1661.5,2806.8L1663.5,2806.5L1665.5,2806.0L1667.5,2805.3L1669.5,2804.5L1671.5,2803.6L1673.5,2802.7L1675.5,2801.7L1677.5,2800.6L1679.5,2799.5L1681.5,2798.4L1683.5,2797.3L1685.5,2796.1L1687.5,2795.0L1689.5,2793.9L1691.5,2792.7L1693.5,2791.6L1695.5,2790.4L1697.5,2789.2L1699.5,2788.1L1701.5,2786.9L1703.5,2785.6L1705.5,2784.4L1707.5,2783.2L1709.5,2782.0L1711.5,2781.0L1713.5,2780.2L1715.5,2779.4L1717.5,2778.7L1719.5,2778.1L1721.5,2777.5L1723.5,2777.0L1725.5,2776.5L1727.5,2775.9L1729.5,2775.4L1731.5,2775.0L1733.5,2774.5L1735.5,2774.0L1737.5,2773.6L1739.5,2773.2L1741.5,2772.9L1743.5,2772.5L1745.5,2772.1L1747.5,2771.7L1749.5,2771.2L1751.5,2770.7L1753.5,2770.2L1755.5,2769.6L1757.5,2769.0L1759.5,2768.4L1761.5,2767.8L1763.5,2767.1L1765.5,2766.5L1767.5,2765.9L1769.5,2765.3L1771.5,2764.7L1773.5,2764.1L1775.5,2763.5L1777.5,2762.9L1779.5,2762.3L1781.5,2761.7L1783.5,2761.1L1785.5,2760.5L1787.5,2760.0L1789.5,2759.4L1791.5,2758.9L1793.5,2758.4L1795.5,2757.9L1797.5,2757.4L1799.5,2757.0L1801.5,2756.5L1803.5,2756.1L1805.5,2755.8L1807.5,2755.4L1809.5,2755.0L1811.5,2754.7L1813.5,2754.3L1815.5,2754.0L1817.5,2753.7L1819.5,2753.4L1821.5,2753.1L1823.5,2752.9L1825.5,2752.6L1827.5,2752.4L1829.5,2752.2L1831.5,2752.0L1833.5,2751.8L1835.5,2751.6L1837.5,2751.4L1839.5,2751.3L1841.5,2751.1L1843.5,2751.0L1845.5,2750.8L1847.5,2750.7L1849.5,2750.6L1851.5,2750.5L1853.5,2750.4L1855.5,2750.3L1857.5,2750.2L1859.5,2750.1L1861.5,2750.1L1863.5,2750.0L1865.5,2750.0L1867.5,2749.9L1869.5,2749.8L1871.5,2749.8L1873.5,2749.7L1875.5,2749.6L1877.5,2749.5L1879.5,2749.3L1881.5,2749.2L1883.5,2749.0L1885.5,2748.8L1887.5,2748.6L1889.5,2748.4L1891.5,2748.3L1893.5,2748.1L1895.5,2748.0L1897.5,2747.8L1899.5,2747.7L1901.5,2747.6L1903.5,2747.5L1905.5,2747.5L1907.5,2747.4L1909.5,2747.3L1911.5,2747.3L1913.5,2747.3L1915.5,2747.2L1917.5,2747.2L1919.5,2747.3L1921.5,2747.3L1923.5,2747.3L1925.5,2747.4L1927.5,2747.4L1929.5,2747.5L1931.5,2747.5L1933.5,2747.6L1935.5,2747.7L1937.5,2747.8L1939.5,2747.9L1941.5,2748.0L1943.5,2748.1L1945.5,2748.3L1947.5,2748.4L1949.5,2748.5L1951.5,2748.7L1953.5,2748.9L1955.5,2749.1L1957.5,2749.3L1959.5,2749.6L1961.5,2749.8L1963.5,2750.1L1965.5,2750.4L1967.5,2750.7L1969.5,2751.1L1971.5,2751.4L1973.5,2751.8L1975.5,2752.1L1977.5,2752.5L1979.5,2752.9L1981.5,2753.3L1983.5,2753.7L1985.5,2754.1L1987.5,2754.5L1989.5,2754.9L1991.5,2755.3L1993.5,2755.7L1995.5,2756.1L1997.5,2756.5L1999.5,2756.9L2001.5,2757.2L2003.5,2757.5L2005.5,2757.9L2007.5,2758.2L2009.5,2758.5L2011.5,2758.8L2013.5,2759.0L2015.5,2759.2L2017.5,2759.4L2019.5,2759.5L2021.5,2759.5L2023.5,2759.3L2025.5,2759.1L2027.5,2758.8L2029.5,2758.5L2031.5,2758.1L2033.5,2757.8L2035.5,2757.5L2037.5,2757.1L2039.5,2756.8L2041.5,2756.4L2043.5,2756.1L2045.5,2755.8L2047.5,2755.5L2049.5,2755.3L2051.5,2755.0L2053.5,2754.9L2055.5,2754.7L2057.5,2754.6L2059.5,2754.4L2061.5,2754.3L2063.5,2754.1L2065.5,2753.9L2067.5,2753.7L2069.5,2753.4L2071.5,2753.1L2073.5,2752.8L2075.5,2752.5L2077.5,2752.1L2079.5,2751.8L2081.5,2751.4L2083.5,2751.1L2085.5,2750.7L2087.5,2750.4L2089.5,2750.0L2091.5,2749.6L2093.5,2749.2L2095.5,2748.9L2096.5,2748.8" stroke="#CDE2A5" stroke-width="9.8"/>
<path d="M209.5,2603.2L211.5,2603.4L213.5,2603.6L215.5,2603.9L217.5,2604.1L219.5,2604.4L221.5,2604.7L223.5,2604.9L225.5,2605.2L227.5,2605.5L229.5,2605.8L231.5,2606.1L233.5,2606.5L235.5,2606.9L237.5,2607.3L239.5,2607.7L241.5,2608.2L243.5,2608.7L245.5,2609.3L247.5,2609.8L249.5,2610.3L251.5,2610.8L253.5,2611.3L255.5,2611.9L257.5,2612.4L259.5,2613.0L261.5,2613.5L263.5,2614.0L265.5,2614.5L267.5,2614.9L269.5,2615.2L271.5,2615.5L273.5,2615.8L275.5,2616.1L277.5,2616.5L279.5,2617.0L281.5,2617.6L283.5,2618.3L285.5,2619.0L287.5,2619.8L289.5,2620.6L291.5,2621.5L293.5,2622.4L295.5,2623.3L297.5,2624.2L299.5,2625.2L301.5,2626.2L303.5,2627.3L305.5,2628.4L307.5,2629.4L309.5,2630.5L311.5,2631.5L313.5,2632.5L315.5,2633.5L317.5,2634.4L319.5,2635.4L321.5,2636.3L323.5,2637.2L325.5,2638.1L327.5,2639.0L329.5,2639.9L331.5,2640.7L333.5,2641.4L335.5,2642.1L337.5,2642.8L339.5,2643.4L341.5,2643.9L343.5,2644.5L345.5,2645.0L347.5,2645.6L349.5,2646.3L351.5,2647.1L353.5,2647.8L355.5,2648.7L357.5,2649.5L359.5,2650.4L361.5,2651.3L363.5,2652.1L365.5,2653.0L367.5,2653.8L369.5,2654.5L371.5,2655.2L373.5,2655.9L375.5,2656.5L377.5,2657.1L379.5,2657.7L381.5,2658.2L383.5,2658.8L385.5,2659.4L387.5,2660.1L389.5,2660.8L391.5,2661.5L393.5,2662.3L395.5,2663.0L397.5,2663.8L399.5,2664.5L401.5,2665.1L403.5,2665.8L405.5,2666.3L407.5,2666.8L409.5,2667.3L411.5,2667.8L413.5,2668.2L415.5,2668.7L417.5,2669.1L419.5,2669.6L421.5,2670.2L423.5,2670.7L425.5,2671.3L427.5,2671.9L429.5,2672.5L431.5,2673.1L433.5,2673.8L435.5,2674.4L437.5,2675.0L439.5,2675.7L441.5,2676.4L443.5,2677.0L445.5,2677.7L447.5,2678.4L449.5,2679.1L451.5,2679.8L453.5,2680.5L455.5,2681.3L457.5,2682.0L459.5,2682.8L461.5,2683.6L463.5,2684.3L465.5,2685.0L467.5,2685.6L469.5,2686.2L471.5,2686.8L473.5,2687.2L475.5,2687.7L477.5,2688.1L479.5,2688.4L481.5,2688.6L483.5,2688.8L485.5,2688.9L487.5,2688.7L489.5,2688.5L491.5,2688.0L493.5,2687.5L495.5,2686.9L497.5,2686.3L499.5,2685.7L501.5,2685.2L503.5,2684.8L505.5,2684.3L507.5,2683.9L509.5,2683.5L511.5,2683.1L513.5,2682.8L515.5,2682.5L517.5,2682.2L519.5,2682.0L521.5,2681.8L523.5,2681.7L525.5,2681.6L527.5,2681.5L529.5,2681.4L531.5,2681.4L533.5,2681.3L535.5,2681.2L537.5,2681.2L539.5,2681.1L541.5,2681.1L543.5,2681.2L545.5,2681.3L547.5,2681.5L549.5,2681.7L551.5,2681.9L553.5,2682.2L555.5,2682.5L557.5,2682.8L559.5,2683.1L561.5,2683.4L563.5,2683.8L565.5,2684.2L567.5,2684.6L569.5,2685.0L571.5,2685.4L573.5,2685.8L575.5,2686.2L577.5,2686.6L579.5,2687.0L581.5,2687.3L583.5,2687.6L585.5,2688.0L587.5,2688.3L589.5,2688.5L591.5,2688.7L593.5,2688.9L595.5,2688.9L597.5,2688.7L599.5,2688.3L601.5,2687.7L603.5,2686.9L605.5,2685.9L607.5,2684.9L609.5,2683.8L611.5,2682.6L613.5,2681.4L615.5,2680.2L617.5,2679.1L619.5,2678.0L621.5,2677.0L623.5,2676.0L625.5,2675.0L627.5,2674.1L629.5,2673.2L631.5,2672.3L633.5,2671.4L635.5,2670.6L637.5,2669.8L639.5,2669.0L641.5,2668.3L643.5,2667.6L645.5,2666.9L647.5,2666.2L649.5,2665.6L651.5,2665.1L653.5,2664.6L655.5,2664.3L657.5,2664.1L659.5,2663.9L661.5,2663.7L663.5,2663.3L665.5,2662.7L667.5,2662.0L669.5,2661.4L671.5,2660.8L673.5,2660.3L675.5,2659.9L677.5,2659.7L679.5,2659.5L681.5,2659.3L683.5,2659.2L685.5,2659.1L687.5,2659.0L689.5,2658.9L691.5,2658.9L693.5,2658.9L695.5,2659.0L697.5,2659.0L699.5,2659.0L701.5,2659.0L703.5,2658.9L705.5,2658.9L707.5,2658.9L709.5,2659.1L711.5,2659.5L713.5,2660.1L715.5,2661.0L717.5,2662.0L719.5,2663.3L721.5,2664.7L723.5,2666.3L725.5,2668.1L727.5,2670.0L729.5,2672.1L731.5,2674.3L733.5,2676.4L735.5,2678.4L737.5,2680.2L739.5,2681.9L741.5,2683.3L743.5,2684.5L745.5,2685.4L747.5,2686.1L749.5,2686.6L751.5,2686.9L753.5,2687.1L755.5,2687.2L757.5,2687.2L759.5,2686.9L761.5,2686.3L763.5,2685.5L765.5,2684.5L767.5,2683.3L769.5,2682.0L771.5,2680.5L773.5,2678.9L775.5,2677.2L777.5,2675.4L779.5,2673.4L781.5,2671.4L783.5,2669.4L785.5,2667.4L787.5,2665.4L789.5,2663.4L791.5,2661.5L793.5,2659.7L795.5,2658.0L797.5,2656.4L799.5,2655.0L801.5,2653.7L803.5,2652.7L805.5,2651.9L807.5,2651.6L809.5,2651.7L811.5,2652.2L813.5,2653.2L815.5,2654.6L817.5,2656.5L819.5,2658.9L821.5,2661.6L823.5,2664.8L825.5,2668.0L827.5,2671.0L829.5,2673.7L831.5,2675.9L833.5,2677.8L835.5,2679.4L837.5,2680.8L839.5,2681.9L841.5,2682.7L843.5,2683.3L845.5,2683.7L847.5,2683.8L849.5,2683.6L851.5,2683.2L853.5,2682.7L855.5,2682.2L857.5,2681.5L859.5,2680.7L861.5,2679.9L863.5,2678.9L865.5,2677.8L867.5,2676.7L869.5,2675.5L871.5,2674.3L873.5,2673.1L875.5,2671.9L877.5,2670.8L879.5,2669.6L881.5,2668.6L883.5,2667.7L885.5,2667.0L887.5,2666.6L889.5,2666.6L891.5,2667.0L893.5,2667.7L895.5,2668.5L897.5,2669.5L899.5,2670.5L901.5,2671.7L903.5,2672.9L905.5,2674.1L907.5,2675.3L909.5,2676.4L911.5,2677.5L913.5,2678.4L915.5,2679.1L917.5,2679.7L919.5,2680.1L921.5,2680.2L923.5,2679.9L925.5,2679.3L927.5,2678.5L929.5,2677.4L931.5,2676.1L933.5,2674.8L935.5,2673.3L937.5,2671.9L939.5,2670.6L941.5,2669.4L943.5,2668.3L945.5,2667.4L947.5,2666.5L949.5,2665.8L951.5,2665.1L953.5,2664.5L955.5,2664.0L957.5,2663.5L959.5,2663.0L961.5,2662.6L963.5,2662.3L965.5,2662.0L967.5,2661.8L969.5,2661.7L971.5,2661.6L973.5,2661.5L975.5,2661.4L977.5,2661.3L979.5,2661.3L981.5,2661.2L983.5,2661.2L985.5,2661.2L987.5,2661.3L989.5,2661.4L991.5,2661.5L993.5,2661.7L995.5,2661.9L997.5,2662.1L999.5,2662.3L1001.5,2662.6L1003.5,2662.8L1005.5,2662.9L1007.5,2663.1L1009.5,2663.2L1011.5,2663.3L1013.5,2663.4L1015.5,2663.5L1017.5,2663.6L1019.5,2663.6L1021.5,2663.7L1023.5,2663.7L1025.5,2663.6L1027.5,2663.6L1029.5,2663.6L1031.5,2663.5L1033.5,2663.4L1035.5,2663.4L1037.5,2663.3L1039.5,2663.2L1041.5,2663.1L1043.5,2663.0L1045.5,2662.8L1047.5,2662.7L1049.5,2662.6L1051.5,2662.4L1053.5,2662.3L1055.5,2662.1L1057.5,2662.0L1059.5,2661.8L1061.5,2661.7L1063.5,2661.5L1065.5,2661.4L1067.5,2661.3L1069.5,2661.2L1071.5,2661.1L1073.5,2661.0L1075.5,2660.9L1077.5,2660.8L1079.5,2660.8L1081.5,2660.7L1083.5,2660.7L1085.5,2660.7L1087.5,2660.7L1089.5,2660.7L1091.5,2660.7L1093.5,2660.6L1095.5,2660.6L1097.5,2660.5L1099.5,2660.2L1101.5,2659.8L1103.5,2659.2L1105.5,2658.5L1107.5,2657.8L1109.5,2657.1L1111.5,2656.5L1113.5,2655.9L1115.5,2655.4L1117.5,2654.9L1119.5,2654.4L1121.5,2654.0L1123.5,2653.6L1125.5,2653.3L1127.5,2653.0L1129.5,2652.8L1131.5,2652.6L1133.5,2652.5L1135.5,2652.4L1137.5,2652.4L1139.5,2652.5L1141.5,2652.7L1143.5,2652.9L1145.5,2653.1L1147.5,2653.4L1149.5,2653.7L1151.5,2654.1L1153.5,2654.5L1155.5,2655.0L1157.5,2655.5L1159.5,2656.1L1161.5,2656.7L1163.5,2657.3L1165.5,2658.0L1167.5,2658.8L1169.5,2659.6L1171.5,2660.4L1173.5,2661.2L1175.5,2662.1L1177.5,2663.1L1179.5,2664.0L1181.5,2665.1L1183.5,2666.1L1185.5,2667.1L1187.5,2668.1L1189.5,2669.0L1191.5,2669.9L1193.5,2670.7L1195.5,2671.5L1197.5,2672.2L1199.5,2672.8L1201.5,2673.5L1203.5,2674.1L1205.5,2674.6L1207.5,2675.2L1209.5,2675.6L1211.5,2676.0L1213.5,2676.2L1215.5,2676.4L1217.5,2676.4L1219.5,2676.3L1221.5,2676.2L1223.5,2676.0L1225.5,2675.8L1227.5,2675.5L1229.5,2675.2L1231.5,2674.9L1233.5,2674.5L1235.5,2674.2L1237.5,2673.9L1239.5,2673.8L1241.5,2673.7L1243.5,2673.7L1245.5,2673.8L1247.5,2674.0L1249.5,2674.2L1251.5,2674.5L1253.5,2674.7L1255.5,2675.0L1257.5,2675.3L1259.5,2675.7L1261.5,2676.1L1263.5,2676.4L1265.5,2676.8L1267.5,2677.2L1269.5,2677.5L1271.5,2677.9L1273.5,2678.2L1275.5,2678.5L1277.5,2678.9L1279.5,2679.2L1281.5,2679.4L1283.5,2679.7L1285.5,2679.9L1287.5,2680.0L1289.5,2680.2L1291.5,2680.3L1293.5,2680.3L1295.5,2680.4L1297.5,2680.4L1299.5,2680.3L1301.5,2680.2L1303.5,2680.0L1305.5,2679.8L1307.5,2679.5L1309.5,2679.2L1311.5,2678.9L1313.5,2678.6L1315.5,2678.2L1317.5,2677.7L1319.5,2677.3L1321.5,2676.8L1323.5,2676.2L1325.5,2675.7L1327.5,2675.1L1329.5,2674.6L1331.5,2674.1L1333.5,2673.6L1335.5,2673.1L1337.5,2672.6L1339.5,2672.1L1341.5,2671.7L1343.5,2671.3L1345.5,2670.9L1347.5,2670.6L1349.5,2670.4L1351.5,2670.3L1353.5,2670.3L1355.5,2670.4L1357.5,2670.5L1359.5,2670.7L1361.5,2670.9L1363.5,2671.0L1365.5,2671.2L1367.5,2671.4L1369.5,2671.6L1371.5,2671.8L1373.5,2672.0L1375.5,2672.2L1377.5,2672.4L1379.5,2672.6L1381.5,2672.8L1383.5,2673.0L1385.5,2673.2L1387.5,2673.4L1389.5,2673.6L1391.5,2673.8L1393.5,2674.1L1395.5,2674.5L1397.5,2675.1L1399.5,2675.7L1401.5,2676.4L1403.5,2677.2L1405.5,2678.0L1407.5,2678.8L1409.5,2679.5L1411.5,2680.3L1413.5,2681.0L1415.5,2681.7L1417.5,2682.4L1419.5,2683.0L1421.5,2683.5L1423.5,2684.0L1425.5,2684.4L1427.5,2684.6L1429.5,2684.8L1431.5,2685.1L1433.5,2685.3L1435.5,2685.6L1437.5,2685.9L1439.5,2686.2L1441.5,2686.6L1443.5,2687.1L1445.5,2687.6L1447.5,2688.3L1449.5,2689.0L1451.5,2690.0L1453.5,2691.0L1455.5,2692.2L1457.5,2693.5L1459.5,2694.7L1461.5,2696.0L1463.5,2697.3L1465.5,2698.6L1467.5,2699.8L1469.5,2701.0L1471.5,2702.1L1473.5,2703.0L1475.5,2703.7L1477.5,2704.2L1479.5,2704.4L1481.5,2704.5L1483.5,2704.4L1485.5,2704.1L1487.5,2703.7L1489.5,2703.3L1491.5,2702.7L1493.5,2702.0L1495.5,2701.2L1497.5,2700.4L1499.5,2699.5L1501.5,2698.5L1503.5,2697.6L1505.5,2696.7L1507.5,2695.7L1509.5,2694.8L1511.5,2693.9L1513.5,2693.0L1515.5,2692.1L1517.5,2691.2L1519.5,2690.4L1521.5,2689.6L1523.5,2688.8L1525.5,2688.1L1527.5,2687.4L1529.5,2686.7L1531.5,2686.1L1533.5,2685.5L1535.5,2684.9L1537.5,2684.4L1539.5,2683.9L1541.5,2683.4L1543.5,2682.9L1545.5,2682.5L1547.5,2682.1L1549.5,2681.7L1551.5,2681.3L1553.5,2680.9L1555.5,2680.5L1557.5,2680.1L1559.5,2679.6L1561.5,2679.1L1563.5,2678.5L1565.5,2678.0L1567.5,2677.3L1569.5,2676.7L1571.5,2676.1L1573.5,2675.4L1575.5,2674.8L1577.5,2674.1L1579.5,2673.4L1581.5,2672.7L1583.5,2672.1L1585.5,2671.6L1587.5,2671.0L1589.5,2670.6L1591.5,2670.2L1593.5,2669.8L1595.5,2669.5L1597.5,2669.2L1599.5,2669.0L1601.5,2668.9L1603.5,2668.8L1605.5,2668.7L1607.5,2668.7L1609.5,2668.7L1611.5,2668.7L1613.5,2668.7L1615.5,2668.7L1617.5,2668.7L1619.5,2668.7L1621.5,2668.7L1623.5,2668.7L1625.5,2668.8L1627.5,2668.8L1629.5,2668.9L1631.5,2669.0L1633.5,2669.1L1635.5,2669.2L1637.5,2669.3L1639.5,2669.5L1641.5,2669.6L1643.5,2669.8L1645.5,2670.0L1647.5,2670.1L1649.5,2670.3L1651.5,2670.5L1653.5,2670.8L1655.5,2671.0L1657.5,2671.2L1659.5,2671.3L1661.5,2671.2L1663.5,2670.9L1665.5,2670.4L1667.5,2669.7L1669.5,2668.8L1671.5,2667.9L1673.5,2666.9L1675.5,2665.8L1677.5,2664.6L1679.5,2663.4L1681.5,2662.2L1683.5,2661.0L1685.5,2659.7L1687.5,2658.4L1689.5,2657.2L1691.5,2655.9L1693.5,2654.5L1695.5,2653.2L1697.5,2651.9L1699.5,2650.6L1701.5,2649.3L1703.5,2648.1L1705.5,2646.8L1707.5,2645.5L1709.5,2644.4L1711.5,2643.3L1713.5,2642.3L1715.5,2641.4L1717.5,2640.5L1719.5,2639.7L1721.5,2638.9L1723.5,2638.1L1725.5,2637.3L1727.5,2636.6L1729.5,2635.9L1731.5,2635.3L1733.5,2634.7L1735.5,2634.2L1737.5,2633.7L1739.5,2633.3L1741.5,2632.9L1743.5,2632.6L1745.5,2632.2L1747.5,2631.9L1749.5,2631.4L1751.5,2630.9L1753.5,2630.4L1755.5,2629.8L1757.5,2629.2L1759.5,2628.6L1761.5,2627.9L1763.5,2627.3L1765.5,2626.7L1767.5,2626.1L1769.5,2625.5L1771.5,2624.9L1773.5,2624.3L1775.5,2623.7L1777.5,2623.1L1779.5,2622.5L1781.5,2621.9L1783.5,2621.3L1785.5,2620.7L1787.5,2620.2L1789.5,2619.6L1791.5,2619.1L1793.5,2618.6L1795.5,2618.1L1797.5,2617.6L1799.5,2617.1L1801.5,2616.7L1803.5,2616.2L1805.5,2615.8L1807.5,2615.3L1809.5,2614.9L1811.5,2614.5L1813.5,2614.1L1815.5,2613.7L1817.5,2613.3L1819.5,2613.0L1821.5,2612.7L1823.5,2612.4L1825.5,2612.1L1827.5,2611.9L1829.5,2611.7L1831.5,2611.6L1833.5,2611.4L1835.5,2611.3L1837.5,2611.1L1839.5,2611.0L1841.5,2610.9L1843.5,2610.8L1845.5,2610.7L1847.5,2610.5L1849.5,2610.4L1851.5,2610.3L1853.5,2610.2L1855.5,2610.1L1857.5,2610.0L1859.5,2609.9L1861.5,2609.8L1863.5,2609.7L1865.5,2609.7L1867.5,2609.6L1869.5,2609.5L1871.5,2609.4L1873.5,2609.3L1875.5,2609.1L1877.5,2609.0L1879.5,2608.8L1881.5,2608.6L1883.5,2608.4L1885.5,2608.2L1887.5,2608.0L1889.5,2607.7L1891.5,2607.5L1893.5,2607.3L1895.5,2607.2L1897.5,2607.0L1899.5,2606.9L1901.5,2606.8L1903.5,2606.7L1905.5,2606.6L1907.5,2606.6L1909.5,2606.5L1911.5,2606.5L1913.5,2606.4L1915.5,2606.4L1917.5,2606.4L1919.5,2606.4L1921.5,2606.5L1923.5,2606.5L1925.5,2606.5L1927.5,2606.6L1929.5,2606.7L1931.5,2606.7L1933.5,2606.8L1935.5,2606.9L1937.5,2607.0L1939.5,2607.1L1941.5,2607.2L1943.5,2607.3L1945.5,2607.4L1947.5,2607.6L1949.5,2607.7L1951.5,2607.9L1953.5,2608.1L1955.5,2608.3L1957.5,2608.5L1959.5,2608.8L1961.5,2609.0L1963.5,2609.4L1965.5,2609.7L1967.5,2610.1L1969.5,2610.4L1971.5,2610.8L1973.5,2611.2L1975.5,2611.6L1977.5,2612.0L1979.5,2612.4L1981.5,2612.8L1983.5,2613.2L1985.5,2613.6L1987.5,2614.0L1989.5,2614.5L1991.5,2614.9L1993.5,2615.3L1995.5,2615.7L1997.5,2616.0L1999.5,2616.4L2001.5,2616.7L2003.5,2617.0L2005.5,2617.4L2007.5,2617.6L2009.5,2617.9L2011.5,2618.2L2013.5,2618.5L2015.5,2618.7L2017.5,2618.9L2019.5,2619.0L2021.5,2619.1L2023.5,2619.2L2025.5,2619.2L2027.5,2619.1L2029.5,2619.0L2031.5,2618.8L2033.5,2618.7L2035.5,2618.5L2037.5,2618.3L2039.5,2618.1L2041.5,2617.9L2043.5,2617.6L2045.5,2617.4L2047.5,2617.3L2049.5,2617.1L2051.5,2617.0L2053.5,2616.9L2055.5,2616.8L2057.5,2616.8L2059.5,2616.7L2061.5,2616.7L2063.5,2616.6L2065.5,2616.4L2067.5,2616.2L2069.5,2616.0L2071.5,2615.7L2073.5,2615.5L2075.5,2615.2L2077.5,2614.9L2079.5,2614.6L2081.5,2614.3L2083.5,2614.0L2085.5,2613.7L2087.5,2613.5L2089.5,2613.3L2091.5,2613.0L2093.5,2612.8L2095.5,2612.6L2096.5,2612.6" stroke="#48AAB5" stroke-width="9.8"/>
<path d="M209.5,2468.6L211.5,2469.0L213.5,2469.6L215.5,2470.3L217.5,2471.0L219.5,2471.6L221.5,2472.3L223.5,2473.0L225.5,2473.7L227.5,2474.4L229.5,2475.2L231.5,2475.9L233.5,2476.7L235.5,2477.5L237.5,2478.3L239.5,2479.1L241.5,2479.9L243.5,2480.8L245.5,2481.6L247.5,2482.5L249.5,2483.4L251.5,2484.3L253.5,2485.2L255.5,2486.1L257.5,2487.1L259.5,2488.0L261.5,2489.0L263.5,2490.0L265.5,2491.1L267.5,2492.1L269.5,2493.1L271.5,2494.2L273.5,2495.3L275.5,2496.4L277.5,2497.5L279.5,2498.7L281.5,2500.0L283.5,2501.2L285.5,2502.6L287.5,2503.9L289.5,2505.4L291.5,2506.9L293.5,2508.5L295.5,2510.1L297.5,2511.7L299.5,2513.4L301.5,2515.1L303.5,2516.8L305.5,2518.5L307.5,2520.2L309.5,2521.9L311.5,2523.5L313.5,2525.1L315.5,2526.7L317.5,2528.2L319.5,2529.8L321.5,2531.3L323.5,2532.9L325.5,2534.4L327.5,2536.0L329.5,2537.5L331.5,2538.9L333.5,2540.4L335.5,2541.8L337.5,2543.2L339.5,2544.6L341.5,2545.8L343.5,2547.0L345.5,2548.2L347.5,2549.2L349.5,2550.2L351.5,2551.0L353.5,2551.9L355.5,2552.8L357.5,2553.6L359.5,2554.4L361.5,2555.2L363.5,2556.0L365.5,2556.8L367.5,2557.5L369.5,2558.1L371.5,2558.7L373.5,2559.2L375.5,2559.7L377.5,2560.1L379.5,2560.5L381.5,2560.9L383.5,2561.2L385.5,2561.5L387.5,2561.8L389.5,2562.0L391.5,2562.3L393.5,2562.5L395.5,2562.7L397.5,2562.8L399.5,2563.0L401.5,2563.1L403.5,2563.2L405.5,2563.3L407.5,2563.3L409.5,2563.4L411.5,2563.5L413.5,2563.6L415.5,2563.8L417.5,2563.9L419.5,2564.1L421.5,2564.2L423.5,2564.4L425.5,2564.6L427.5,2564.8L429.5,2565.0L431.5,2565.2L433.5,2565.4L435.5,2565.7L437.5,2566.0L439.5,2566.3L441.5,2566.6L443.5,2567.0L445.5,2567.4L447.5,2567.8L449.5,2568.3L451.5,2568.8L453.5,2569.3L455.5,2569.9L457.5,2570.6L459.5,2571.3L461.5,2572.0L463.5,2572.7L465.5,2573.4L467.5,2574.1L469.5,2574.7L471.5,2575.4L473.5,2576.0L475.5,2576.6L477.5,2577.2L479.5,2577.7L481.5,2578.2L483.5,2578.6L485.5,2578.9L487.5,2579.1L489.5,2579.2L491.5,2579.1L493.5,2578.9L495.5,2578.7L497.5,2578.4L499.5,2578.1L501.5,2577.9L503.5,2577.6L505.5,2577.3L507.5,2577.0L509.5,2576.7L511.5,2576.4L513.5,2576.1L515.5,2575.9L517.5,2575.7L519.5,2575.5L521.5,2575.4L523.5,2575.2L525.5,2575.1L527.5,2575.0L529.5,2574.9L531.5,2574.8L533.5,2574.8L535.5,2574.7L537.5,2574.7L539.5,2574.6L541.5,2574.6L543.5,2574.7L545.5,2574.8L547.5,2574.9L549.5,2575.2L551.5,2575.4L553.5,2575.7L555.5,2576.0L557.5,2576.3L559.5,2576.6L561.5,2576.9L563.5,2577.2L565.5,2577.5L567.5,2577.9L569.5,2578.2L571.5,2578.5L573.5,2578.9L575.5,2579.2L577.5,2579.5L579.5,2579.8L581.5,2580.1L583.5,2580.4L585.5,2580.7L587.5,2581.0L589.5,2581.2L591.5,2581.4L593.5,2581.4L595.5,2581.3L597.5,2580.8L599.5,2579.9L601.5,2578.7L603.5,2577.2L605.5,2575.8L607.5,2574.5L609.5,2573.2L611.5,2571.8L613.5,2570.5L615.5,2569.1L617.5,2567.8L619.5,2566.4L621.5,2565.0L623.5,2563.6L625.5,2562.1L627.5,2560.7L629.5,2559.2L631.5,2557.8L633.5,2556.5L635.5,2555.2L637.5,2554.0L639.5,2552.9L641.5,2551.8L643.5,2550.7L645.5,2549.7L647.5,2548.8L649.5,2547.9L651.5,2547.0L653.5,2546.2L655.5,2545.5L657.5,2544.8L659.5,2544.1L661.5,2543.5L663.5,2543.0L665.5,2542.4L667.5,2542.0L669.5,2541.5L671.5,2541.1L673.5,2540.8L675.5,2540.4L677.5,2540.2L679.5,2539.9L681.5,2539.7L683.5,2539.4L685.5,2539.2L687.5,2539.0L689.5,2538.8L691.5,2538.6L693.5,2538.4L695.5,2538.3L697.5,2538.2L699.5,2538.2L701.5,2538.3L703.5,2538.5L705.5,2538.8L707.5,2539.2L709.5,2539.8L711.5,2540.6L713.5,2541.7L715.5,2542.9L717.5,2544.3L719.5,2546.0L721.5,2547.8L723.5,2549.8L725.5,2552.0L727.5,2554.5L729.5,2557.2L731.5,2559.9L733.5,2562.7L735.5,2565.3L737.5,2567.7L739.5,2570.0L741.5,2572.0L743.5,2573.8L745.5,2575.5L747.5,2576.9L749.5,2578.0L751.5,2578.8L753.5,2579.3L755.5,2579.5L757.5,2579.4L759.5,2579.0L761.5,2578.4L763.5,2577.5L765.5,2576.4L767.5,2575.2L769.5,2574.0L771.5,2572.7L773.5,2571.4L775.5,2569.9L777.5,2568.2L779.5,2566.4L781.5,2564.6L783.5,2562.7L785.5,2560.8L787.5,2559.0L789.5,2557.2L791.5,2555.5L793.5,2553.9L795.5,2552.3L797.5,2551.0L799.5,2549.7L801.5,2548.6L803.5,2547.7L805.5,2547.0L807.5,2546.6L809.5,2546.5L811.5,2546.7L813.5,2547.2L815.5,2548.2L817.5,2549.5L819.5,2551.3L821.5,2553.5L823.5,2556.0L825.5,2558.7L827.5,2561.4L829.5,2563.7L831.5,2565.7L833.5,2567.5L835.5,2569.0L837.5,2570.3L839.5,2571.4L841.5,2572.4L843.5,2573.2L845.5,2573.8L847.5,2574.1L849.5,2574.3L851.5,2574.4L853.5,2574.3L855.5,2574.1L857.5,2573.8L859.5,2573.4L861.5,2572.8L863.5,2572.0L865.5,2571.2L867.5,2570.3L869.5,2569.3L871.5,2568.3L873.5,2567.3L875.5,2566.3L877.5,2565.2L879.5,2564.1L881.5,2563.1L883.5,2562.2L885.5,2561.6L887.5,2561.4L889.5,2561.7L891.5,2562.4L893.5,2563.3L895.5,2564.4L897.5,2565.5L899.5,2566.6L901.5,2567.7L903.5,2568.8L905.5,2570.0L907.5,2571.1L909.5,2572.2L911.5,2573.2L913.5,2574.2L915.5,2575.0L917.5,2575.6L919.5,2576.0L921.5,2576.2L923.5,2576.1L925.5,2575.7L927.5,2575.0L929.5,2574.0L931.5,2572.9L933.5,2571.6L935.5,2570.2L937.5,2568.7L939.5,2567.3L941.5,2566.0L943.5,2564.8L945.5,2563.6L947.5,2562.6L949.5,2561.6L951.5,2560.8L953.5,2560.0L955.5,2559.3L957.5,2558.6L959.5,2558.0L961.5,2557.5L963.5,2557.1L965.5,2556.9L967.5,2556.7L969.5,2556.6L971.5,2556.5L973.5,2556.5L975.5,2556.5L977.5,2556.5L979.5,2556.5L981.5,2556.6L983.5,2556.7L985.5,2556.8L987.5,2557.0L989.5,2557.2L991.5,2557.4L993.5,2557.7L995.5,2558.0L997.5,2558.3L999.5,2558.7L1001.5,2559.0L1003.5,2559.3L1005.5,2559.7L1007.5,2560.0L1009.5,2560.4L1011.5,2560.7L1013.5,2561.1L1015.5,2561.4L1017.5,2561.7L1019.5,2562.0L1021.5,2562.3L1023.5,2562.5L1025.5,2562.8L1027.5,2563.0L1029.5,2563.2L1031.5,2563.4L1033.5,2563.6L1035.5,2563.8L1037.5,2563.9L1039.5,2564.0L1041.5,2564.1L1043.5,2564.1L1045.5,2564.1L1047.5,2564.1L1049.5,2564.0L1051.5,2563.9L1053.5,2563.8L1055.5,2563.7L1057.5,2563.6L1059.5,2563.5L1061.5,2563.4L1063.5,2563.3L1065.5,2563.2L1067.5,2563.1L1069.5,2563.1L1071.5,2563.1L1073.5,2563.1L1075.5,2563.1L1077.5,2563.1L1079.5,2563.1L1081.5,2563.1L1083.5,2563.2L1085.5,2563.2L1087.5,2563.2L1089.5,2563.3L1091.5,2563.3L1093.5,2563.3L1095.5,2563.3L1097.5,2563.2L1099.5,2563.0L1101.5,2562.7L1103.5,2562.3L1105.5,2561.7L1107.5,2561.1L1109.5,2560.5L1111.5,2560.0L1113.5,2559.5L1115.5,2559.0L1117.5,2558.5L1119.5,2558.1L1121.5,2557.7L1123.5,2557.5L1125.5,2557.3L1127.5,2557.1L1129.5,2557.0L1131.5,2557.0L1133.5,2557.1L1135.5,2557.2L1137.5,2557.3L1139.5,2557.5L1141.5,2557.7L1143.5,2558.0L1145.5,2558.4L1147.5,2558.8L1149.5,2559.2L1151.5,2559.7L1153.5,2560.2L1155.5,2560.8L1157.5,2561.4L1159.5,2562.0L1161.5,2562.7L1163.5,2563.5L1165.5,2564.3L1167.5,2565.2L1169.5,2566.1L1171.5,2567.0L1173.5,2568.0L1175.5,2568.9L1177.5,2569.8L1179.5,2570.7L1181.5,2571.5L1183.5,2572.4L1185.5,2573.2L1187.5,2574.0L1189.5,2574.8L1191.5,2575.5L1193.5,2576.2L1195.5,2576.9L1197.5,2577.4L1199.5,2578.0L1201.5,2578.5L1203.5,2579.0L1205.5,2579.4L1207.5,2579.9L1209.5,2580.2L1211.5,2580.5L1213.5,2580.7L1215.5,2580.9L1217.5,2580.9L1219.5,2580.9L1221.5,2580.8L1223.5,2580.7L1225.5,2580.5L1227.5,2580.3L1229.5,2580.0L1231.5,2579.6L1233.5,2579.3L1235.5,2578.9L1237.5,2578.5L1239.5,2578.2L1241.5,2578.0L1243.5,2577.8L1245.5,2577.6L1247.5,2577.5L1249.5,2577.5L1251.5,2577.5L1253.5,2577.5L1255.5,2577.7L1257.5,2577.9L1259.5,2578.1L1261.5,2578.4L1263.5,2578.7L1265.5,2579.0L1267.5,2579.2L1269.5,2579.4L1271.5,2579.7L1273.5,2579.9L1275.5,2580.1L1277.5,2580.3L1279.5,2580.5L1281.5,2580.6L1283.5,2580.8L1285.5,2581.0L1287.5,2581.1L1289.5,2581.2L1291.5,2581.3L1293.5,2581.4L1295.5,2581.5L1297.5,2581.5L1299.5,2581.4L1301.5,2581.3L1303.5,2581.1L1305.5,2580.9L1307.5,2580.7L1309.5,2580.4L1311.5,2580.0L1313.5,2579.7L1315.5,2579.3L1317.5,2578.9L1319.5,2578.4L1321.5,2577.9L1323.5,2577.4L1325.5,2576.8L1327.5,2576.3L1329.5,2575.7L1331.5,2575.2L1333.5,2574.7L1335.5,2574.3L1337.5,2573.8L1339.5,2573.4L1341.5,2572.9L1343.5,2572.5L1345.5,2572.2L1347.5,2571.8L1349.5,2571.6L1351.5,2571.3L1353.5,2571.1L1355.5,2571.0L1357.5,2570.9L1359.5,2570.8L1361.5,2570.7L1363.5,2570.6L1365.5,2570.5L1367.5,2570.3L1369.5,2570.2L1371.5,2569.9L1373.5,2569.7L1375.5,2569.5L1377.5,2569.3L1379.5,2569.1L1381.5,2568.9L1383.5,2568.8L1385.5,2568.7L1387.5,2568.7L1389.5,2568.7L1391.5,2568.7L1393.5,2568.9L1395.5,2569.1L1397.5,2569.5L1399.5,2569.9L1401.5,2570.5L1403.5,2571.2L1405.5,2571.8L1407.5,2572.4L1409.5,2573.0L1411.5,2573.5L1413.5,2574.0L1415.5,2574.5L1417.5,2574.9L1419.5,2575.3L1421.5,2575.5L1423.5,2575.7L1425.5,2575.8L1427.5,2575.9L1429.5,2575.8L1431.5,2575.8L1433.5,2575.8L1435.5,2575.8L1437.5,2575.9L1439.5,2576.1L1441.5,2576.4L1443.5,2576.7L1445.5,2577.1L1447.5,2577.6L1449.5,2578.2L1451.5,2578.9L1453.5,2579.8L1455.5,2580.8L1457.5,2581.8L1459.5,2582.9L1461.5,2584.0L1463.5,2585.1L1465.5,2586.1L1467.5,2587.2L1469.5,2588.2L1471.5,2589.1L1473.5,2589.8L1475.5,2590.3L1477.5,2590.7L1479.5,2590.8L1481.5,2590.6L1483.5,2590.3L1485.5,2589.8L1487.5,2589.2L1489.5,2588.4L1491.5,2587.7L1493.5,2586.8L1495.5,2586.0L1497.5,2585.0L1499.5,2584.1L1501.5,2583.1L1503.5,2582.1L1505.5,2581.2L1507.5,2580.2L1509.5,2579.3L1511.5,2578.3L1513.5,2577.4L1515.5,2576.5L1517.5,2575.7L1519.5,2574.9L1521.5,2574.1L1523.5,2573.4L1525.5,2572.8L1527.5,2572.2L1529.5,2571.7L1531.5,2571.2L1533.5,2570.7L1535.5,2570.3L1537.5,2570.0L1539.5,2569.7L1541.5,2569.4L1543.5,2569.1L1545.5,2568.9L1547.5,2568.7L1549.5,2568.5L1551.5,2568.3L1553.5,2568.1L1555.5,2567.9L1557.5,2567.7L1559.5,2567.4L1561.5,2567.1L1563.5,2566.8L1565.5,2566.4L1567.5,2566.0L1569.5,2565.5L1571.5,2565.1L1573.5,2564.6L1575.5,2564.1L1577.5,2563.6L1579.5,2563.1L1581.5,2562.5L1583.5,2562.1L1585.5,2561.7L1587.5,2561.3L1589.5,2561.1L1591.5,2560.9L1593.5,2560.7L1595.5,2560.6L1597.5,2560.5L1599.5,2560.5L1601.5,2560.5L1603.5,2560.6L1605.5,2560.8L1607.5,2560.9L1609.5,2561.1L1611.5,2561.3L1613.5,2561.6L1615.5,2561.9L1617.5,2562.2L1619.5,2562.6L1621.5,2562.9L1623.5,2563.3L1625.5,2563.7L1627.5,2564.1L1629.5,2564.5L1631.5,2564.9L1633.5,2565.3L1635.5,2565.7L1637.5,2566.1L1639.5,2566.5L1641.5,2566.8L1643.5,2567.2L1645.5,2567.5L1647.5,2567.8L1649.5,2568.1L1651.5,2568.4L1653.5,2568.6L1655.5,2568.9L1657.5,2569.1L1659.5,2569.1L1661.5,2569.0L1663.5,2568.7L1665.5,2568.2L1667.5,2567.5L1669.5,2566.7L1671.5,2565.7L1673.5,2564.6L1675.5,2563.5L1677.5,2562.3L1679.5,2561.1L1681.5,2559.8L1683.5,2558.5L1685.5,2557.2L1687.5,2555.9L1689.5,2554.7L1691.5,2553.4L1693.5,2552.2L1695.5,2550.9L1697.5,2549.7L1699.5,2548.4L1701.5,2547.1L1703.5,2545.8L1705.5,2544.5L1707.5,2543.2L1709.5,2542.0L1711.5,2540.8L1713.5,2539.8L1715.5,2538.8L1717.5,2537.9L1719.5,2537.0L1721.5,2536.1L1723.5,2535.3L1725.5,2534.4L1727.5,2533.7L1729.5,2532.9L1731.5,2532.2L1733.5,2531.5L1735.5,2530.8L1737.5,2530.3L1739.5,2529.7L1741.5,2529.3L1743.5,2528.8L1745.5,2528.3L1747.5,2527.8L1749.5,2527.3L1751.5,2526.7L1753.5,2526.0L1755.5,2525.4L1757.5,2524.7L1759.5,2524.0L1761.5,2523.3L1763.5,2522.6L1765.5,2521.9L1767.5,2521.2L1769.5,2520.5L1771.5,2519.8L1773.5,2519.1L1775.5,2518.4L1777.5,2517.7L1779.5,2517.0L1781.5,2516.4L1783.5,2515.8L1785.5,2515.2L1787.5,2514.6L1789.5,2514.1L1791.5,2513.6L1793.5,2513.1L1795.5,2512.6L1797.5,2512.1L1799.5,2511.6L1801.5,2511.1L1803.5,2510.7L1805.5,2510.2L1807.5,2509.7L1809.5,2509.3L1811.5,2508.8L1813.5,2508.4L1815.5,2507.9L1817.5,2507.6L1819.5,2507.2L1821.5,2506.8L1823.5,2506.5L1825.5,2506.2L1827.5,2505.9L1829.5,2505.7L1831.5,2505.5L1833.5,2505.2L1835.5,2505.0L1837.5,2504.8L1839.5,2504.7L1841.5,2504.5L1843.5,2504.3L1845.5,2504.2L1847.5,2504.0L1849.5,2503.9L1851.5,2503.8L1853.5,2503.7L1855.5,2503.7L1857.5,2503.6L1859.5,2503.6L1861.5,2503.6L1863.5,2503.5L1865.5,2503.5L1867.5,2503.5L1869.5,2503.5L1871.5,2503.4L1873.5,2503.3L1875.5,2503.2L1877.5,2503.1L1879.5,2502.9L1881.5,2502.7L1883.5,2502.5L1885.5,2502.2L1887.5,2502.0L1889.5,2501.7L1891.5,2501.4L1893.5,2501.2L1895.5,2501.0L1897.5,2500.8L1899.5,2500.6L1901.5,2500.5L1903.5,2500.4L1905.5,2500.3L1907.5,2500.2L1909.5,2500.1L1911.5,2500.0L1913.5,2499.9L1915.5,2499.9L1917.5,2499.9L1919.5,2499.9L1921.5,2499.9L1923.5,2499.9L1925.5,2500.0L1927.5,2500.0L1929.5,2500.1L1931.5,2500.1L1933.5,2500.2L1935.5,2500.3L1937.5,2500.4L1939.5,2500.6L1941.5,2500.7L1943.5,2500.9L1945.5,2501.1L1947.5,2501.3L1949.5,2501.6L1951.5,2501.9L1953.5,2502.2L1955.5,2502.5L1957.5,2502.9L1959.5,2503.2L1961.5,2503.6L1963.5,2504.1L1965.5,2504.6L1967.5,2505.0L1969.5,2505.6L1971.5,2506.1L1973.5,2506.6L1975.5,2507.2L1977.5,2507.7L1979.5,2508.2L1981.5,2508.7L1983.5,2509.3L1985.5,2509.8L1987.5,2510.4L1989.5,2510.9L1991.5,2511.5L1993.5,2512.0L1995.5,2512.4L1997.5,2512.8L1999.5,2513.2L2001.5,2513.4L2003.5,2513.7L2005.5,2513.8L2007.5,2514.0L2009.5,2514.1L2011.5,2514.2L2013.5,2514.2L2015.5,2514.2L2017.5,2514.2L2019.5,2514.2L2021.5,2514.0L2023.5,2513.8L2025.5,2513.5L2027.5,2513.2L2029.5,2512.8L2031.5,2512.5L2033.5,2512.1L2035.5,2511.8L2037.5,2511.5L2039.5,2511.2L2041.5,2510.9L2043.5,2510.7L2045.5,2510.4L2047.5,2510.1L2049.5,2509.9L2051.5,2509.7L2053.5,2509.5L2055.5,2509.3L2057.5,2509.1L2059.5,2508.9L2061.5,2508.7L2063.5,2508.5L2065.5,2508.3L2067.5,2508.0L2069.5,2507.7L2071.5,2507.4L2073.5,2507.1L2075.5,2506.8L2077.5,2506.5L2079.5,2506.1L2081.5,2505.8L2083.5,2505.4L2085.5,2505.0L2087.5,2504.6L2089.5,2504.2L2091.5,2503.7L2093.5,2503.3L2095.5,2503.0L2096.5,2502.8" stroke="#4050A3" stroke-width="9.8"/>
<path d="M209.5,2324.0L211.5,2324.3L213.5,2324.6L215.5,2325.1L217.5,2325.5L219.5,2326.0L221.5,2326.4L223.5,2326.9L225.5,2327.3L227.5,2327.8L229.5,2328.2L231.5,2328.7L233.5,2329.1L235.5,2329.6L237.5,2330.0L239.5,2330.4L241.5,2330.9L243.5,2331.3L245.5,2331.8L247.5,2332.2L249.5,2332.7L251.5,2333.3L253.5,2333.9L255.5,2334.5L257.5,2335.3L259.5,2336.1L261.5,2337.0L263.5,2337.8L265.5,2338.6L267.5,2339.2L269.5,2339.8L271.5,2340.3L273.5,2340.8L275.5,2341.2L277.5,2341.7L279.5,2342.3L281.5,2342.9L283.5,2343.6L285.5,2344.3L287.5,2345.0L289.5,2345.7L291.5,2346.4L293.5,2347.2L295.5,2347.9L297.5,2348.7L299.5,2349.6L301.5,2350.5L303.5,2351.6L305.5,2352.7L307.5,2353.8L309.5,2355.0L311.5,2356.1L313.5,2357.1L315.5,2358.1L317.5,2359.0L319.5,2359.8L321.5,2360.7L323.5,2361.6L325.5,2362.6L327.5,2363.7L329.5,2364.9L331.5,2366.2L333.5,2367.5L335.5,2368.8L337.5,2370.0L339.5,2371.1L341.5,2372.1L343.5,2372.9L345.5,2373.8L347.5,2374.5L349.5,2375.3L351.5,2376.0L353.5,2376.8L355.5,2377.7L357.5,2378.6L359.5,2379.6L361.5,2380.6L363.5,2381.7L365.5,2382.7L367.5,2383.7L369.5,2384.4L371.5,2385.1L373.5,2385.6L375.5,2386.0L377.5,2386.3L379.5,2386.6L381.5,2387.0L383.5,2387.4L385.5,2387.8L387.5,2388.4L389.5,2389.0L391.5,2389.7L393.5,2390.4L395.5,2391.2L397.5,2391.9L399.5,2392.6L401.5,2393.2L403.5,2393.6L405.5,2394.0L407.5,2394.3L409.5,2394.5L411.5,2394.7L413.5,2394.9L415.5,2395.1L417.5,2395.3L419.5,2395.7L421.5,2396.2L423.5,2396.9L425.5,2397.6L427.5,2398.3L429.5,2399.1L431.5,2399.8L433.5,2400.3L435.5,2400.7L437.5,2401.0L439.5,2401.2L441.5,2401.5L443.5,2401.8L445.5,2402.2L447.5,2402.8L449.5,2403.5L451.5,2404.3L453.5,2405.1L455.5,2406.0L457.5,2407.0L459.5,2407.9L461.5,2408.8L463.5,2409.8L465.5,2410.7L467.5,2411.7L469.5,2412.6L471.5,2413.6L473.5,2414.4L475.5,2415.3L477.5,2416.0L479.5,2416.7L481.5,2417.3L483.5,2417.9L485.5,2418.3L487.5,2418.6L489.5,2418.8L491.5,2418.8L493.5,2418.6L495.5,2418.3L497.5,2418.0L499.5,2417.6L501.5,2417.2L503.5,2416.9L505.5,2416.6L507.5,2416.4L509.5,2416.2L511.5,2416.0L513.5,2415.8L515.5,2415.7L517.5,2415.6L519.5,2415.5L521.5,2415.5L523.5,2415.4L525.5,2415.4L527.5,2415.4L529.5,2415.5L531.5,2415.6L533.5,2415.7L535.5,2415.9L537.5,2416.2L539.5,2416.5L541.5,2416.9L543.5,2417.3L545.5,2417.8L547.5,2418.3L549.5,2418.9L551.5,2419.5L553.5,2420.1L555.5,2420.7L557.5,2421.3L559.5,2422.0L561.5,2422.5L563.5,2423.1L565.5,2423.6L567.5,2424.1L569.5,2424.6L571.5,2425.1L573.5,2425.5L575.5,2426.0L577.5,2426.5L579.5,2427.0L581.5,2427.5L583.5,2428.1L585.5,2428.6L587.5,2429.1L589.5,2429.5L591.5,2429.9L593.5,2430.1L595.5,2430.3L597.5,2430.3L599.5,2430.1L601.5,2429.7L603.5,2429.2L605.5,2428.5L607.5,2427.7L609.5,2426.9L611.5,2426.0L613.5,2425.2L615.5,2424.3L617.5,2423.4L619.5,2422.5L621.5,2421.6L623.5,2420.7L625.5,2419.9L627.5,2419.1L629.5,2418.3L631.5,2417.5L633.5,2416.8L635.5,2416.1L637.5,2415.3L639.5,2414.6L641.5,2413.9L643.5,2413.2L645.5,2412.5L647.5,2411.8L649.5,2411.1L651.5,2410.5L653.5,2409.9L655.5,2409.2L657.5,2408.6L659.5,2407.9L661.5,2407.3L663.5,2406.5L665.5,2405.8L667.5,2405.0L669.5,2404.1L671.5,2403.2L673.5,2402.2L675.5,2401.2L677.5,2400.3L679.5,2399.4L681.5,2398.5L683.5,2397.7L685.5,2397.0L687.5,2396.4L689.5,2395.8L691.5,2395.2L693.5,2394.6L695.5,2394.1L697.5,2393.6L699.5,2393.1L701.5,2392.6L703.5,2392.2L705.5,2391.8L707.5,2391.6L709.5,2391.5L711.5,2391.6L713.5,2392.0L715.5,2392.6L717.5,2393.4L719.5,2394.4L721.5,2395.7L723.5,2397.1L725.5,2398.8L727.5,2400.8L729.5,2403.0L731.5,2405.4L733.5,2407.8L735.5,2410.1L737.5,2412.1L739.5,2413.9L741.5,2415.5L743.5,2416.8L745.5,2417.7L747.5,2418.3L749.5,2418.7L751.5,2418.8L753.5,2418.9L755.5,2418.7L757.5,2418.4L759.5,2417.9L761.5,2417.2L763.5,2416.3L765.5,2415.2L767.5,2414.0L769.5,2412.6L771.5,2411.1L773.5,2409.5L775.5,2407.8L777.5,2406.1L779.5,2404.3L781.5,2402.5L783.5,2400.7L785.5,2398.9L787.5,2397.3L789.5,2395.8L791.5,2394.5L793.5,2393.2L795.5,2392.0L797.5,2390.8L799.5,2389.8L801.5,2388.8L803.5,2388.0L805.5,2387.4L807.5,2387.1L809.5,2387.0L811.5,2387.2L813.5,2387.8L815.5,2388.8L817.5,2390.4L819.5,2392.5L821.5,2394.9L823.5,2397.7L825.5,2400.7L827.5,2403.4L829.5,2405.9L831.5,2408.1L833.5,2409.9L835.5,2411.4L837.5,2412.7L839.5,2413.6L841.5,2414.4L843.5,2415.0L845.5,2415.4L847.5,2415.6L849.5,2415.8L851.5,2415.8L853.5,2415.7L855.5,2415.6L857.5,2415.3L859.5,2414.9L861.5,2414.3L863.5,2413.5L865.5,2412.7L867.5,2411.7L869.5,2410.7L871.5,2409.6L873.5,2408.6L875.5,2407.5L877.5,2406.4L879.5,2405.4L881.5,2404.4L883.5,2403.6L885.5,2403.1L887.5,2402.9L889.5,2403.2L891.5,2404.0L893.5,2405.1L895.5,2406.3L897.5,2407.6L899.5,2409.0L901.5,2410.3L903.5,2411.7L905.5,2413.0L907.5,2414.2L909.5,2415.4L911.5,2416.4L913.5,2417.3L915.5,2418.2L917.5,2418.9L919.5,2419.5L921.5,2419.9L923.5,2420.1L925.5,2420.0L927.5,2419.8L929.5,2419.4L931.5,2418.8L933.5,2418.1L935.5,2417.4L937.5,2416.5L939.5,2415.7L941.5,2414.8L943.5,2413.9L945.5,2413.0L947.5,2412.2L949.5,2411.4L951.5,2410.7L953.5,2410.1L955.5,2409.6L957.5,2409.1L959.5,2408.7L961.5,2408.3L963.5,2407.9L965.5,2407.6L967.5,2407.3L969.5,2407.0L971.5,2406.8L973.5,2406.5L975.5,2406.3L977.5,2406.1L979.5,2405.9L981.5,2405.8L983.5,2405.6L985.5,2405.5L987.5,2405.4L989.5,2405.3L991.5,2405.2L993.5,2405.2L995.5,2405.1L997.5,2405.0L999.5,2405.0L1001.5,2404.9L1003.5,2404.8L1005.5,2404.7L1007.5,2404.5L1009.5,2404.4L1011.5,2404.2L1013.5,2404.1L1015.5,2403.9L1017.5,2403.7L1019.5,2403.6L1021.5,2403.4L1023.5,2403.2L1025.5,2403.0L1027.5,2402.8L1029.5,2402.6L1031.5,2402.4L1033.5,2402.2L1035.5,2402.0L1037.5,2401.8L1039.5,2401.6L1041.5,2401.4L1043.5,2401.2L1045.5,2401.0L1047.5,2400.8L1049.5,2400.6L1051.5,2400.4L1053.5,2400.3L1055.5,2400.1L1057.5,2400.0L1059.5,2399.8L1061.5,2399.8L1063.5,2399.7L1065.5,2399.7L1067.5,2399.7L1069.5,2399.7L1071.5,2399.8L1073.5,2399.8L1075.5,2399.9L1077.5,2400.0L1079.5,2400.1L1081.5,2400.2L1083.5,2400.4L1085.5,2400.5L1087.5,2400.7L1089.5,2400.9L1091.5,2401.0L1093.5,2401.2L1095.5,2401.3L1097.5,2401.3L1099.5,2401.1L1101.5,2400.8L1103.5,2400.2L1105.5,2399.5L1107.5,2398.7L1109.5,2398.0L1111.5,2397.4L1113.5,2396.8L1115.5,2396.3L1117.5,2395.8L1119.5,2395.3L1121.5,2394.9L1123.5,2394.6L1125.5,2394.3L1127.5,2394.0L1129.5,2393.9L1131.5,2393.7L1133.5,2393.7L1135.5,2393.7L1137.5,2393.8L1139.5,2393.9L1141.5,2394.2L1143.5,2394.5L1145.5,2394.8L1147.5,2395.2L1149.5,2395.7L1151.5,2396.3L1153.5,2396.9L1155.5,2397.6L1157.5,2398.3L1159.5,2399.1L1161.5,2399.8L1163.5,2400.6L1165.5,2401.4L1167.5,2402.2L1169.5,2403.0L1171.5,2403.8L1173.5,2404.6L1175.5,2405.4L1177.5,2406.3L1179.5,2407.1L1181.5,2408.0L1183.5,2408.9L1185.5,2409.7L1187.5,2410.5L1189.5,2411.3L1191.5,2412.0L1193.5,2412.7L1195.5,2413.3L1197.5,2413.9L1199.5,2414.5L1201.5,2415.1L1203.5,2415.7L1205.5,2416.2L1207.5,2416.7L1209.5,2417.1L1211.5,2417.4L1213.5,2417.7L1215.5,2417.8L1217.5,2417.9L1219.5,2417.8L1221.5,2417.6L1223.5,2417.3L1225.5,2417.0L1227.5,2416.7L1229.5,2416.4L1231.5,2416.0L1233.5,2415.7L1235.5,2415.4L1237.5,2415.0L1239.5,2414.7L1241.5,2414.3L1243.5,2414.0L1245.5,2413.6L1247.5,2413.4L1249.5,2413.2L1251.5,2413.1L1253.5,2413.2L1255.5,2413.3L1257.5,2413.6L1259.5,2414.0L1261.5,2414.3L1263.5,2414.6L1265.5,2414.9L1267.5,2415.2L1269.5,2415.5L1271.5,2415.8L1273.5,2416.1L1275.5,2416.4L1277.5,2416.7L1279.5,2416.9L1281.5,2417.1L1283.5,2417.3L1285.5,2417.5L1287.5,2417.7L1289.5,2417.8L1291.5,2418.0L1293.5,2418.1L1295.5,2418.2L1297.5,2418.3L1299.5,2418.4L1301.5,2418.4L1303.5,2418.4L1305.5,2418.4L1307.5,2418.4L1309.5,2418.4L1311.5,2418.3L1313.5,2418.2L1315.5,2418.1L1317.5,2417.9L1319.5,2417.7L1321.5,2417.4L1323.5,2417.2L1325.5,2417.1L1327.5,2417.0L1329.5,2417.1L1331.5,2417.2L1333.5,2417.4L1335.5,2417.6L1337.5,2417.9L1339.5,2418.2L1341.5,2418.6L1343.5,2419.1L1345.5,2419.6L1347.5,2420.1L1349.5,2420.7L1351.5,2421.3L1353.5,2422.0L1355.5,2422.7L1357.5,2423.4L1359.5,2424.1L1361.5,2424.9L1363.5,2425.7L1365.5,2426.5L1367.5,2427.3L1369.5,2428.1L1371.5,2428.9L1373.5,2429.8L1375.5,2430.6L1377.5,2431.4L1379.5,2432.2L1381.5,2433.0L1383.5,2433.8L1385.5,2434.6L1387.5,2435.4L1389.5,2436.2L1391.5,2437.0L1393.5,2437.7L1395.5,2438.5L1397.5,2439.3L1399.5,2440.1L1401.5,2440.9L1403.5,2441.7L1405.5,2442.6L1407.5,2443.4L1409.5,2444.3L1411.5,2445.2L1413.5,2446.2L1415.5,2447.1L1417.5,2448.0L1419.5,2448.8L1421.5,2449.5L1423.5,2450.3L1425.5,2450.9L1427.5,2451.5L1429.5,2452.1L1431.5,2452.5L1433.5,2452.9L1435.5,2453.2L1437.5,2453.4L1439.5,2453.5L1441.5,2453.6L1443.5,2453.6L1445.5,2453.5L1447.5,2453.4L1449.5,2453.3L1451.5,2453.1L1453.5,2452.8L1455.5,2452.6L1457.5,2452.4L1459.5,2452.4L1461.5,2452.4L1463.5,2452.6L1465.5,2452.9L1467.5,2453.2L1469.5,2453.6L1471.5,2453.9L1473.5,2454.3L1475.5,2454.7L1477.5,2455.0L1479.5,2455.3L1481.5,2455.5L1483.5,2455.5L1485.5,2455.5L1487.5,2455.3L1489.5,2455.1L1491.5,2454.8L1493.5,2454.4L1495.5,2453.9L1497.5,2453.3L1499.5,2452.6L1501.5,2451.8L1503.5,2450.8L1505.5,2449.7L1507.5,2448.4L1509.5,2447.1L1511.5,2445.6L1513.5,2444.1L1515.5,2442.5L1517.5,2440.8L1519.5,2439.1L1521.5,2437.4L1523.5,2435.8L1525.5,2434.2L1527.5,2432.6L1529.5,2431.0L1531.5,2429.6L1533.5,2428.3L1535.5,2427.0L1537.5,2425.8L1539.5,2424.7L1541.5,2423.6L1543.5,2422.6L1545.5,2421.7L1547.5,2420.8L1549.5,2420.1L1551.5,2419.4L1553.5,2418.7L1555.5,2418.1L1557.5,2417.6L1559.5,2417.0L1561.5,2416.4L1563.5,2415.8L1565.5,2415.2L1567.5,2414.7L1569.5,2414.0L1571.5,2413.4L1573.5,2412.6L1575.5,2411.8L1577.5,2410.9L1579.5,2410.0L1581.5,2409.0L1583.5,2408.1L1585.5,2407.3L1587.5,2406.6L1589.5,2406.0L1591.5,2405.5L1593.5,2405.1L1595.5,2404.8L1597.5,2404.4L1599.5,2404.1L1601.5,2403.9L1603.5,2403.8L1605.5,2403.8L1607.5,2403.9L1609.5,2404.2L1611.5,2404.6L1613.5,2405.0L1615.5,2405.5L1617.5,2405.9L1619.5,2406.2L1621.5,2406.5L1623.5,2406.7L1625.5,2406.9L1627.5,2406.9L1629.5,2406.9L1631.5,2406.8L1633.5,2406.7L1635.5,2406.5L1637.5,2406.4L1639.5,2406.3L1641.5,2406.3L1643.5,2406.3L1645.5,2406.4L1647.5,2406.3L1649.5,2406.3L1651.5,2406.2L1653.5,2406.0L1655.5,2405.8L1657.5,2405.6L1659.5,2405.2L1661.5,2404.7L1663.5,2404.1L1665.5,2403.3L1667.5,2402.3L1669.5,2401.2L1671.5,2400.0L1673.5,2398.8L1675.5,2397.6L1677.5,2396.4L1679.5,2395.1L1681.5,2393.8L1683.5,2392.4L1685.5,2391.1L1687.5,2389.6L1689.5,2388.2L1691.5,2386.7L1693.5,2385.1L1695.5,2383.6L1697.5,2382.1L1699.5,2380.7L1701.5,2379.3L1703.5,2377.9L1705.5,2376.5L1707.5,2375.3L1709.5,2374.1L1711.5,2373.2L1713.5,2372.6L1715.5,2372.4L1717.5,2372.5L1719.5,2372.7L1721.5,2372.9L1723.5,2372.9L1725.5,2372.3L1727.5,2371.3L1729.5,2369.9L1731.5,2368.3L1733.5,2366.8L1735.5,2365.5L1737.5,2364.4L1739.5,2363.6L1741.5,2362.9L1743.5,2362.4L1745.5,2361.8L1747.5,2361.3L1749.5,2360.7L1751.5,2360.2L1753.5,2359.5L1755.5,2358.8L1757.5,2358.1L1759.5,2357.3L1761.5,2356.6L1763.5,2355.8L1765.5,2355.1L1767.5,2354.4L1769.5,2353.7L1771.5,2353.1L1773.5,2352.5L1775.5,2351.9L1777.5,2351.3L1779.5,2350.7L1781.5,2350.2L1783.5,2349.6L1785.5,2349.1L1787.5,2348.6L1789.5,2348.1L1791.5,2347.6L1793.5,2347.1L1795.5,2346.7L1797.5,2346.2L1799.5,2345.8L1801.5,2345.4L1803.5,2344.9L1805.5,2344.5L1807.5,2344.1L1809.5,2343.7L1811.5,2343.3L1813.5,2342.9L1815.5,2342.5L1817.5,2342.2L1819.5,2341.9L1821.5,2341.6L1823.5,2341.4L1825.5,2341.1L1827.5,2340.9L1829.5,2340.8L1831.5,2340.6L1833.5,2340.5L1835.5,2340.4L1837.5,2340.3L1839.5,2340.2L1841.5,2340.1L1843.5,2340.0L1845.5,2339.9L1847.5,2339.8L1849.5,2339.7L1851.5,2339.7L1853.5,2339.6L1855.5,2339.5L1857.5,2339.5L1859.5,2339.5L1861.5,2339.4L1863.5,2339.4L1865.5,2339.4L1867.5,2339.3L1869.5,2339.3L1871.5,2339.2L1873.5,2339.2L1875.5,2339.1L1877.5,2339.0L1879.5,2338.8L1881.5,2338.6L1883.5,2338.4L1885.5,2338.1L1887.5,2337.9L1889.5,2337.7L1891.5,2337.5L1893.5,2337.3L1895.5,2337.1L1897.5,2337.0L1899.5,2337.0L1901.5,2336.9L1903.5,2336.9L1905.5,2337.0L1907.5,2337.0L1909.5,2337.1L1911.5,2337.1L1913.5,2337.2L1915.5,2337.4L1917.5,2337.5L1919.5,2337.7L1921.5,2337.8L1923.5,2338.0L1925.5,2338.3L1927.5,2338.5L1929.5,2338.7L1931.5,2338.9L1933.5,2339.1L1935.5,2339.3L1937.5,2339.5L1939.5,2339.7L1941.5,2339.8L1943.5,2339.9L1945.5,2339.9L1947.5,2340.0L1949.5,2340.0L1951.5,2340.0L1953.5,2340.1L1955.5,2340.1L1957.5,2340.3L1959.5,2340.4L1961.5,2340.6L1963.5,2340.9L1965.5,2341.2L1967.5,2341.5L1969.5,2341.9L1971.5,2342.2L1973.5,2342.6L1975.5,2343.0L1977.5,2343.3L1979.5,2343.7L1981.5,2344.1L1983.5,2344.4L1985.5,2344.8L1987.5,2345.1L1989.5,2345.5L1991.5,2345.8L1993.5,2346.1L1995.5,2346.5L1997.5,2346.8L1999.5,2347.0L2001.5,2347.3L2003.5,2347.5L2005.5,2347.7L2007.5,2347.9L2009.5,2348.1L2011.5,2348.2L2013.5,2348.4L2015.5,2348.5L2017.5,2348.6L2019.5,2348.7L2021.5,2348.7L2023.5,2348.7L2025.5,2348.6L2027.5,2348.5L2029.5,2348.3L2031.5,2348.2L2033.5,2348.0L2035.5,2347.8L2037.5,2347.6L2039.5,2347.4L2041.5,2347.2L2043.5,2346.9L2045.5,2346.7L2047.5,2346.6L2049.5,2346.4L2051.5,2346.3L2053.5,2346.2L2055.5,2346.2L2057.5,2346.1L2059.5,2346.1L2061.5,2346.0L2063.5,2345.9L2065.5,2345.7L2067.5,2345.5L2069.5,2345.3L2071.5,2345.0L2073.5,2344.6L2075.5,2344.3L2077.5,2343.9L2079.5,2343.6L2081.5,2343.3L2083.5,2343.0L2085.5,2342.7L2087.5,2342.4L2089.5,2342.2L2091.5,2342.0L2093.5,2341.8L2095.5,2341.6L2096.5,2341.5" stroke="#0A8CC8" stroke-width="9.8"/>
<path d="M209.5,2187.6L211.5,2188.0L213.5,2188.5L215.5,2189.1L217.5,2189.7L219.5,2190.3L221.5,2190.9L223.5,2191.6L225.5,2192.2L227.5,2192.9L229.5,2193.6L231.5,2194.3L233.5,2195.0L235.5,2195.7L237.5,2196.4L239.5,2197.1L241.5,2197.9L243.5,2198.6L245.5,2199.3L247.5,2200.0L249.5,2200.8L251.5,2201.5L253.5,2202.3L255.5,2203.1L257.5,2204.0L259.5,2204.9L261.5,2205.8L263.5,2206.7L265.5,2207.7L267.5,2208.8L269.5,2209.9L271.5,2211.0L273.5,2212.2L275.5,2213.4L277.5,2214.6L279.5,2215.9L281.5,2217.2L283.5,2218.5L285.5,2219.9L287.5,2221.2L289.5,2222.6L291.5,2224.0L293.5,2225.4L295.5,2226.8L297.5,2228.2L299.5,2229.6L301.5,2231.1L303.5,2232.5L305.5,2234.0L307.5,2235.5L309.5,2237.0L311.5,2238.5L313.5,2240.1L315.5,2241.7L317.5,2243.2L319.5,2244.8L321.5,2246.3L323.5,2247.8L325.5,2249.3L327.5,2250.8L329.5,2252.3L331.5,2253.7L333.5,2255.0L335.5,2256.4L337.5,2257.6L339.5,2258.9L341.5,2260.1L343.5,2261.3L345.5,2262.5L347.5,2263.7L349.5,2264.8L351.5,2265.8L353.5,2266.8L355.5,2267.8L357.5,2268.8L359.5,2269.6L361.5,2270.4L363.5,2271.2L365.5,2271.8L367.5,2272.4L369.5,2272.9L371.5,2273.4L373.5,2273.8L375.5,2274.1L377.5,2274.5L379.5,2274.7L381.5,2275.0L383.5,2275.2L385.5,2275.2L387.5,2275.2L389.5,2275.1L391.5,2274.9L393.5,2274.7L395.5,2274.4L397.5,2274.0L399.5,2273.6L401.5,2273.1L403.5,2272.7L405.5,2272.2L407.5,2271.9L409.5,2271.6L411.5,2271.4L413.5,2271.4L415.5,2271.4L417.5,2271.5L419.5,2271.5L421.5,2271.5L423.5,2271.3L425.5,2271.0L427.5,2270.6L429.5,2270.2L431.5,2269.8L433.5,2269.5L435.5,2269.3L437.5,2269.3L439.5,2269.3L441.5,2269.5L443.5,2269.7L445.5,2270.0L447.5,2270.4L449.5,2270.7L451.5,2271.2L453.5,2271.7L455.5,2272.3L457.5,2272.9L459.5,2273.7L461.5,2274.5L463.5,2275.3L465.5,2276.2L467.5,2277.0L469.5,2277.9L471.5,2278.8L473.5,2279.7L475.5,2280.5L477.5,2281.3L479.5,2281.9L481.5,2282.3L483.5,2282.4L485.5,2282.3L487.5,2282.0L489.5,2281.5L491.5,2280.9L493.5,2280.2L495.5,2279.3L497.5,2278.3L499.5,2277.4L501.5,2276.5L503.5,2275.9L505.5,2275.5L507.5,2275.2L509.5,2275.1L511.5,2274.9L513.5,2274.6L515.5,2274.2L517.5,2273.8L519.5,2273.4L521.5,2273.0L523.5,2272.7L525.5,2272.5L527.5,2272.3L529.5,2272.3L531.5,2272.3L533.5,2272.3L535.5,2272.3L537.5,2272.4L539.5,2272.5L541.5,2272.6L543.5,2272.8L545.5,2273.0L547.5,2273.2L549.5,2273.4L551.5,2273.6L553.5,2273.9L555.5,2274.2L557.5,2274.5L559.5,2274.8L561.5,2275.1L563.5,2275.4L565.5,2275.7L567.5,2276.1L569.5,2276.4L571.5,2276.8L573.5,2277.2L575.5,2277.5L577.5,2277.8L579.5,2278.1L581.5,2278.3L583.5,2278.4L585.5,2278.4L587.5,2278.3L589.5,2278.1L591.5,2277.7L593.5,2277.2L595.5,2276.6L597.5,2275.7L599.5,2274.5L601.5,2273.0L603.5,2271.1L605.5,2269.1L607.5,2267.0L609.5,2264.8L611.5,2262.6L613.5,2260.3L615.5,2258.1L617.5,2255.8L619.5,2253.5L621.5,2251.3L623.5,2249.0L625.5,2246.6L627.5,2244.3L629.5,2241.9L631.5,2239.7L633.5,2237.5L635.5,2235.6L637.5,2233.8L639.5,2232.1L641.5,2230.6L643.5,2229.3L645.5,2228.0L647.5,2226.9L649.5,2226.0L651.5,2225.3L653.5,2224.7L655.5,2224.3L657.5,2223.9L659.5,2223.4L661.5,2222.8L663.5,2222.0L665.5,2221.0L667.5,2220.1L669.5,2219.4L671.5,2219.1L673.5,2218.9L675.5,2218.9L677.5,2219.1L679.5,2219.4L681.5,2219.9L683.5,2220.5L685.5,2221.2L687.5,2221.9L689.5,2222.4L691.5,2222.8L693.5,2223.0L695.5,2223.2L697.5,2223.5L699.5,2223.9L701.5,2224.5L703.5,2225.4L705.5,2226.5L707.5,2227.8L709.5,2229.3L711.5,2231.1L713.5,2233.1L715.5,2235.3L717.5,2237.7L719.5,2240.2L721.5,2243.0L723.5,2246.1L725.5,2249.4L727.5,2253.1L729.5,2257.0L731.5,2261.1L733.5,2265.3L735.5,2269.4L737.5,2273.3L739.5,2276.8L741.5,2279.7L743.5,2282.0L745.5,2283.7L747.5,2285.0L749.5,2285.8L751.5,2286.1L753.5,2286.0L755.5,2285.3L757.5,2284.1L759.5,2282.6L761.5,2280.8L763.5,2278.9L765.5,2277.0L767.5,2275.2L769.5,2273.6L771.5,2272.0L773.5,2270.2L775.5,2268.2L777.5,2265.8L779.5,2263.2L781.5,2260.5L783.5,2257.9L785.5,2255.4L787.5,2252.9L789.5,2250.6L791.5,2248.3L793.5,2246.1L795.5,2244.0L797.5,2242.1L799.5,2240.5L801.5,2239.3L803.5,2238.6L805.5,2238.4L807.5,2238.5L809.5,2239.0L811.5,2239.8L813.5,2241.0L815.5,2242.8L817.5,2245.2L819.5,2248.3L821.5,2251.8L823.5,2255.6L825.5,2259.5L827.5,2263.2L829.5,2266.5L831.5,2269.3L833.5,2271.6L835.5,2273.3L837.5,2274.7L839.5,2275.8L841.5,2276.5L843.5,2277.0L845.5,2277.1L847.5,2277.1L849.5,2276.8L851.5,2276.3L853.5,2275.7L855.5,2275.0L857.5,2274.2L859.5,2273.3L861.5,2272.5L863.5,2271.6L865.5,2270.5L867.5,2269.3L869.5,2267.6L871.5,2265.7L873.5,2263.6L875.5,2261.6L877.5,2259.8L879.5,2258.2L881.5,2256.8L883.5,2255.7L885.5,2254.9L887.5,2254.5L889.5,2254.6L891.5,2255.2L893.5,2256.2L895.5,2257.4L897.5,2258.8L899.5,2260.4L901.5,2262.0L903.5,2263.6L905.5,2265.2L907.5,2266.6L909.5,2267.8L911.5,2268.8L913.5,2269.6L915.5,2270.1L917.5,2270.5L919.5,2270.6L921.5,2270.4L923.5,2269.9L925.5,2268.9L927.5,2267.5L929.5,2265.7L931.5,2263.6L933.5,2261.5L935.5,2259.3L937.5,2257.2L939.5,2255.1L941.5,2253.1L943.5,2251.1L945.5,2249.3L947.5,2247.6L949.5,2246.2L951.5,2244.9L953.5,2243.8L955.5,2243.0L957.5,2242.2L959.5,2241.7L961.5,2241.2L963.5,2240.9L965.5,2240.7L967.5,2240.6L969.5,2240.6L971.5,2240.6L973.5,2240.8L975.5,2241.0L977.5,2241.2L979.5,2241.5L981.5,2241.9L983.5,2242.3L985.5,2242.7L987.5,2243.3L989.5,2243.9L991.5,2244.6L993.5,2245.4L995.5,2246.2L997.5,2247.0L999.5,2247.8L1001.5,2248.6L1003.5,2249.3L1005.5,2250.0L1007.5,2250.7L1009.5,2251.3L1011.5,2251.9L1013.5,2252.5L1015.5,2253.0L1017.5,2253.4L1019.5,2253.8L1021.5,2254.2L1023.5,2254.5L1025.5,2254.9L1027.5,2255.2L1029.5,2255.4L1031.5,2255.7L1033.5,2255.9L1035.5,2256.0L1037.5,2256.2L1039.5,2256.3L1041.5,2256.4L1043.5,2256.4L1045.5,2256.5L1047.5,2256.5L1049.5,2256.5L1051.5,2256.4L1053.5,2256.4L1055.5,2256.3L1057.5,2256.2L1059.5,2256.1L1061.5,2256.0L1063.5,2255.9L1065.5,2255.9L1067.5,2255.9L1069.5,2255.9L1071.5,2256.0L1073.5,2256.0L1075.5,2256.1L1077.5,2256.2L1079.5,2256.3L1081.5,2256.4L1083.5,2256.5L1085.5,2256.7L1087.5,2256.8L1089.5,2256.9L1091.5,2257.1L1093.5,2257.2L1095.5,2257.2L1097.5,2257.2L1099.5,2257.0L1101.5,2256.6L1103.5,2256.1L1105.5,2255.4L1107.5,2254.6L1109.5,2253.9L1111.5,2253.3L1113.5,2252.7L1115.5,2252.2L1117.5,2251.9L1119.5,2251.6L1121.5,2251.4L1123.5,2251.3L1125.5,2251.3L1127.5,2251.3L1129.5,2251.3L1131.5,2251.4L1133.5,2251.6L1135.5,2251.8L1137.5,2252.1L1139.5,2252.4L1141.5,2252.8L1143.5,2253.2L1145.5,2253.7L1147.5,2254.3L1149.5,2255.0L1151.5,2255.7L1153.5,2256.5L1155.5,2257.4L1157.5,2258.3L1159.5,2259.3L1161.5,2260.3L1163.5,2261.5L1165.5,2262.6L1167.5,2263.9L1169.5,2265.1L1171.5,2266.4L1173.5,2267.7L1175.5,2269.0L1177.5,2270.3L1179.5,2271.6L1181.5,2272.9L1183.5,2274.2L1185.5,2275.5L1187.5,2276.7L1189.5,2277.9L1191.5,2279.1L1193.5,2280.3L1195.5,2281.4L1197.5,2282.5L1199.5,2283.5L1201.5,2284.4L1203.5,2285.1L1205.5,2285.7L1207.5,2286.3L1209.5,2286.7L1211.5,2287.2L1213.5,2287.6L1215.5,2287.8L1217.5,2288.0L1219.5,2288.0L1221.5,2287.8L1223.5,2287.5L1225.5,2287.2L1227.5,2286.9L1229.5,2286.6L1231.5,2286.3L1233.5,2286.0L1235.5,2285.8L1237.5,2285.6L1239.5,2285.5L1241.5,2285.4L1243.5,2285.3L1245.5,2285.3L1247.5,2285.3L1249.5,2285.4L1251.5,2285.5L1253.5,2285.8L1255.5,2286.2L1257.5,2286.7L1259.5,2287.2L1261.5,2287.7L1263.5,2288.2L1265.5,2288.6L1267.5,2289.0L1269.5,2289.5L1271.5,2289.9L1273.5,2290.3L1275.5,2290.7L1277.5,2291.0L1279.5,2291.4L1281.5,2291.7L1283.5,2292.0L1285.5,2292.2L1287.5,2292.5L1289.5,2292.7L1291.5,2292.8L1293.5,2293.0L1295.5,2293.0L1297.5,2293.1L1299.5,2293.1L1301.5,2293.0L1303.5,2293.0L1305.5,2292.8L1307.5,2292.7L1309.5,2292.5L1311.5,2292.3L1313.5,2292.0L1315.5,2291.8L1317.5,2291.4L1319.5,2291.1L1321.5,2290.7L1323.5,2290.3L1325.5,2289.9L1327.5,2289.5L1329.5,2289.2L1331.5,2288.9L1333.5,2288.6L1335.5,2288.3L1337.5,2288.0L1339.5,2287.7L1341.5,2287.5L1343.5,2287.3L1345.5,2287.2L1347.5,2287.2L1349.5,2287.3L1351.5,2287.5L1353.5,2287.8L1355.5,2288.2L1357.5,2288.7L1359.5,2289.2L1361.5,2289.7L1363.5,2290.3L1365.5,2290.9L1367.5,2291.5L1369.5,2292.1L1371.5,2292.6L1373.5,2293.2L1375.5,2293.7L1377.5,2294.2L1379.5,2294.7L1381.5,2295.1L1383.5,2295.6L1385.5,2296.1L1387.5,2296.5L1389.5,2297.1L1391.5,2297.6L1393.5,2298.2L1395.5,2298.8L1397.5,2299.4L1399.5,2300.0L1401.5,2300.6L1403.5,2301.2L1405.5,2301.8L1407.5,2302.4L1409.5,2303.0L1411.5,2303.5L1413.5,2304.1L1415.5,2304.5L1417.5,2305.0L1419.5,2305.3L1421.5,2305.7L1423.5,2305.9L1425.5,2306.1L1427.5,2306.2L1429.5,2306.3L1431.5,2306.4L1433.5,2306.4L1435.5,2306.3L1437.5,2306.2L1439.5,2306.0L1441.5,2305.9L1443.5,2305.7L1445.5,2305.6L1447.5,2305.5L1449.5,2305.5L1451.5,2305.6L1453.5,2305.8L1455.5,2306.0L1457.5,2306.4L1459.5,2306.7L1461.5,2307.1L1463.5,2307.6L1465.5,2308.1L1467.5,2308.7L1469.5,2309.4L1471.5,2310.0L1473.5,2310.6L1475.5,2311.1L1477.5,2311.6L1479.5,2311.8L1481.5,2311.9L1483.5,2311.7L1485.5,2311.4L1487.5,2310.9L1489.5,2310.3L1491.5,2309.6L1493.5,2308.8L1495.5,2307.8L1497.5,2306.7L1499.5,2305.5L1501.5,2304.1L1503.5,2302.5L1505.5,2300.8L1507.5,2298.9L1509.5,2296.8L1511.5,2294.6L1513.5,2292.2L1515.5,2289.7L1517.5,2287.0L1519.5,2284.3L1521.5,2281.7L1523.5,2279.2L1525.5,2276.9L1527.5,2274.6L1529.5,2272.5L1531.5,2270.5L1533.5,2268.6L1535.5,2266.8L1537.5,2265.0L1539.5,2263.3L1541.5,2261.7L1543.5,2260.2L1545.5,2258.8L1547.5,2257.5L1549.5,2256.3L1551.5,2255.3L1553.5,2254.3L1555.5,2253.4L1557.5,2252.4L1559.5,2251.5L1561.5,2250.5L1563.5,2249.5L1565.5,2248.5L1567.5,2247.5L1569.5,2246.5L1571.5,2245.5L1573.5,2244.5L1575.5,2243.4L1577.5,2242.3L1579.5,2241.3L1581.5,2240.5L1583.5,2239.8L1585.5,2239.4L1587.5,2239.1L1589.5,2239.0L1591.5,2238.9L1593.5,2238.9L1595.5,2239.0L1597.5,2239.2L1599.5,2239.4L1601.5,2239.7L1603.5,2240.0L1605.5,2240.4L1607.5,2240.8L1609.5,2241.2L1611.5,2241.7L1613.5,2242.0L1615.5,2242.4L1617.5,2242.7L1619.5,2242.9L1621.5,2243.1L1623.5,2243.3L1625.5,2243.4L1627.5,2243.6L1629.5,2243.8L1631.5,2244.1L1633.5,2244.4L1635.5,2244.7L1637.5,2245.2L1639.5,2245.6L1641.5,2246.1L1643.5,2246.6L1645.5,2246.9L1647.5,2247.2L1649.5,2247.3L1651.5,2247.3L1653.5,2247.5L1655.5,2247.6L1657.5,2247.6L1659.5,2247.5L1661.5,2247.1L1663.5,2246.4L1665.5,2245.3L1667.5,2243.9L1669.5,2242.3L1671.5,2240.7L1673.5,2239.1L1675.5,2237.4L1677.5,2235.8L1679.5,2234.1L1681.5,2232.5L1683.5,2230.8L1685.5,2229.1L1687.5,2227.4L1689.5,2225.7L1691.5,2224.0L1693.5,2222.3L1695.5,2220.7L1697.5,2219.1L1699.5,2217.6L1701.5,2216.2L1703.5,2214.9L1705.5,2213.7L1707.5,2212.5L1709.5,2211.5L1711.5,2210.7L1713.5,2210.1L1715.5,2209.8L1717.5,2209.8L1719.5,2209.9L1721.5,2210.0L1723.5,2209.8L1725.5,2209.3L1727.5,2208.4L1729.5,2207.2L1731.5,2205.8L1733.5,2204.5L1735.5,2203.3L1737.5,2202.3L1739.5,2201.5L1741.5,2200.8L1743.5,2200.2L1745.5,2199.6L1747.5,2199.0L1749.5,2198.4L1751.5,2197.8L1753.5,2197.1L1755.5,2196.3L1757.5,2195.5L1759.5,2194.6L1761.5,2193.8L1763.5,2192.9L1765.5,2192.0L1767.5,2191.2L1769.5,2190.3L1771.5,2189.5L1773.5,2188.6L1775.5,2187.8L1777.5,2187.0L1779.5,2186.2L1781.5,2185.5L1783.5,2184.9L1785.5,2184.3L1787.5,2183.8L1789.5,2183.3L1791.5,2182.9L1793.5,2182.6L1795.5,2182.2L1797.5,2181.9L1799.5,2181.6L1801.5,2181.4L1803.5,2181.1L1805.5,2180.8L1807.5,2180.6L1809.5,2180.3L1811.5,2180.1L1813.5,2179.9L1815.5,2179.7L1817.5,2179.6L1819.5,2179.5L1821.5,2179.4L1823.5,2179.3L1825.5,2179.2L1827.5,2179.2L1829.5,2179.2L1831.5,2179.3L1833.5,2179.3L1835.5,2179.4L1837.5,2179.5L1839.5,2179.5L1841.5,2179.6L1843.5,2179.7L1845.5,2179.8L1847.5,2179.9L1849.5,2179.9L1851.5,2180.0L1853.5,2180.1L1855.5,2180.1L1857.5,2180.2L1859.5,2180.3L1861.5,2180.3L1863.5,2180.4L1865.5,2180.5L1867.5,2180.5L1869.5,2180.6L1871.5,2180.6L1873.5,2180.6L1875.5,2180.6L1877.5,2180.5L1879.5,2180.4L1881.5,2180.3L1883.5,2180.1L1885.5,2179.9L1887.5,2179.7L1889.5,2179.4L1891.5,2179.3L1893.5,2179.1L1895.5,2179.0L1897.5,2179.0L1899.5,2178.9L1901.5,2179.0L1903.5,2179.0L1905.5,2179.1L1907.5,2179.2L1909.5,2179.4L1911.5,2179.5L1913.5,2179.7L1915.5,2179.9L1917.5,2180.1L1919.5,2180.3L1921.5,2180.5L1923.5,2180.8L1925.5,2181.0L1927.5,2181.3L1929.5,2181.6L1931.5,2181.9L1933.5,2182.2L1935.5,2182.5L1937.5,2182.9L1939.5,2183.3L1941.5,2183.7L1943.5,2184.1L1945.5,2184.6L1947.5,2185.0L1949.5,2185.5L1951.5,2186.1L1953.5,2186.6L1955.5,2187.1L1957.5,2187.7L1959.5,2188.2L1961.5,2188.8L1963.5,2189.4L1965.5,2189.9L1967.5,2190.5L1969.5,2191.1L1971.5,2191.7L1973.5,2192.3L1975.5,2192.8L1977.5,2193.4L1979.5,2193.9L1981.5,2194.4L1983.5,2194.9L1985.5,2195.4L1987.5,2195.9L1989.5,2196.4L1991.5,2196.8L1993.5,2197.3L1995.5,2197.6L1997.5,2197.9L1999.5,2198.2L2001.5,2198.4L2003.5,2198.5L2005.5,2198.6L2007.5,2198.6L2009.5,2198.6L2011.5,2198.6L2013.5,2198.5L2015.5,2198.5L2017.5,2198.4L2019.5,2198.2L2021.5,2198.0L2023.5,2197.7L2025.5,2197.4L2027.5,2197.0L2029.5,2196.6L2031.5,2196.2L2033.5,2195.8L2035.5,2195.4L2037.5,2195.0L2039.5,2194.6L2041.5,2194.2L2043.5,2193.7L2045.5,2193.3L2047.5,2193.0L2049.5,2192.6L2051.5,2192.3L2053.5,2191.9L2055.5,2191.6L2057.5,2191.4L2059.5,2191.1L2061.5,2190.7L2063.5,2190.4L2065.5,2190.0L2067.5,2189.6L2069.5,2189.1L2071.5,2188.6L2073.5,2188.1L2075.5,2187.5L2077.5,2187.0L2079.5,2186.4L2081.5,2185.9L2083.5,2185.4L2085.5,2185.0L2087.5,2184.5L2089.5,2184.1L2091.5,2183.7L2093.5,2183.3L2095.5,2183.0L2096.5,2182.9" stroke="#B15DAE" stroke-width="9.8"/>
</g>
<g stroke="#FF69B0" stroke-width="6.4" stroke-dasharray="26.0 19.92" fill="none" clip-path="url(#cb)">
<line x1="485.0" y1="1921.4" x2="485.0" y2="3307.9"/>
<line x1="597.1" y1="1921.4" x2="597.1" y2="3307.9"/>
<line x1="755.6" y1="1921.4" x2="755.6" y2="3307.9"/>
<line x1="848.5" y1="1921.4" x2="848.5" y2="3307.9"/>
<line x1="923.0" y1="1921.4" x2="923.0" y2="3307.9"/>
<line x1="1098.5" y1="1921.4" x2="1098.5" y2="3307.9"/>
<line x1="1481.6" y1="1921.4" x2="1481.6" y2="3307.9"/>
<line x1="1662.2" y1="1921.4" x2="1662.2" y2="3307.9"/>
<line x1="2022.5" y1="1921.4" x2="2022.5" y2="3307.9"/>
</g>
<g font-size="92" text-anchor="middle" fill="#000">
<text x="209.7" y="3409.7">1800</text>
<text x="586.8" y="3409.7">1600</text>
<text x="963.8" y="3409.7">1400</text>
<text x="1340.9" y="3409.7">1200</text>
<text x="1717.9" y="3409.7">1000</text>
<text x="2095.0" y="3409.7">800</text>
</g>
<text x="676.3" y="3545.8" font-size="116" style="font-kerning:none" fill="#000">Wavenumber (cm<tspan font-size="80" dy="-47">−1</tspan><tspan dy="47">)</tspan></text>
<g font-size="57.5">
<text transform="translate(1886.9,2165.3) scale(1,1.05)" fill="#B15DAE">L7</text>
<text transform="translate(1886.9,2323.4) scale(1,1.05)" fill="#0A8CC8">L6</text>
<text transform="translate(1886.9,2486.6) scale(1,1.05)" fill="#4050A3">L5</text>
<text transform="translate(1886.9,2591.4) scale(1,1.05)" fill="#48AAB5">L4</text>
<text transform="translate(1886.9,2732.3) scale(1,1.05)" fill="#CDE2A5">L3</text>
<text transform="translate(1886.9,2826.2) scale(1,1.05)" fill="#FDB062">L2</text>
<text transform="translate(1886.9,2933.4) scale(1,1.05)" fill="#E05763">L1</text>
</g>
<text x="22.5" y="1902.4" font-size="102" font-weight="bold" letter-spacing="1.5" fill="#000">(b)</text>
</svg></body></html>
